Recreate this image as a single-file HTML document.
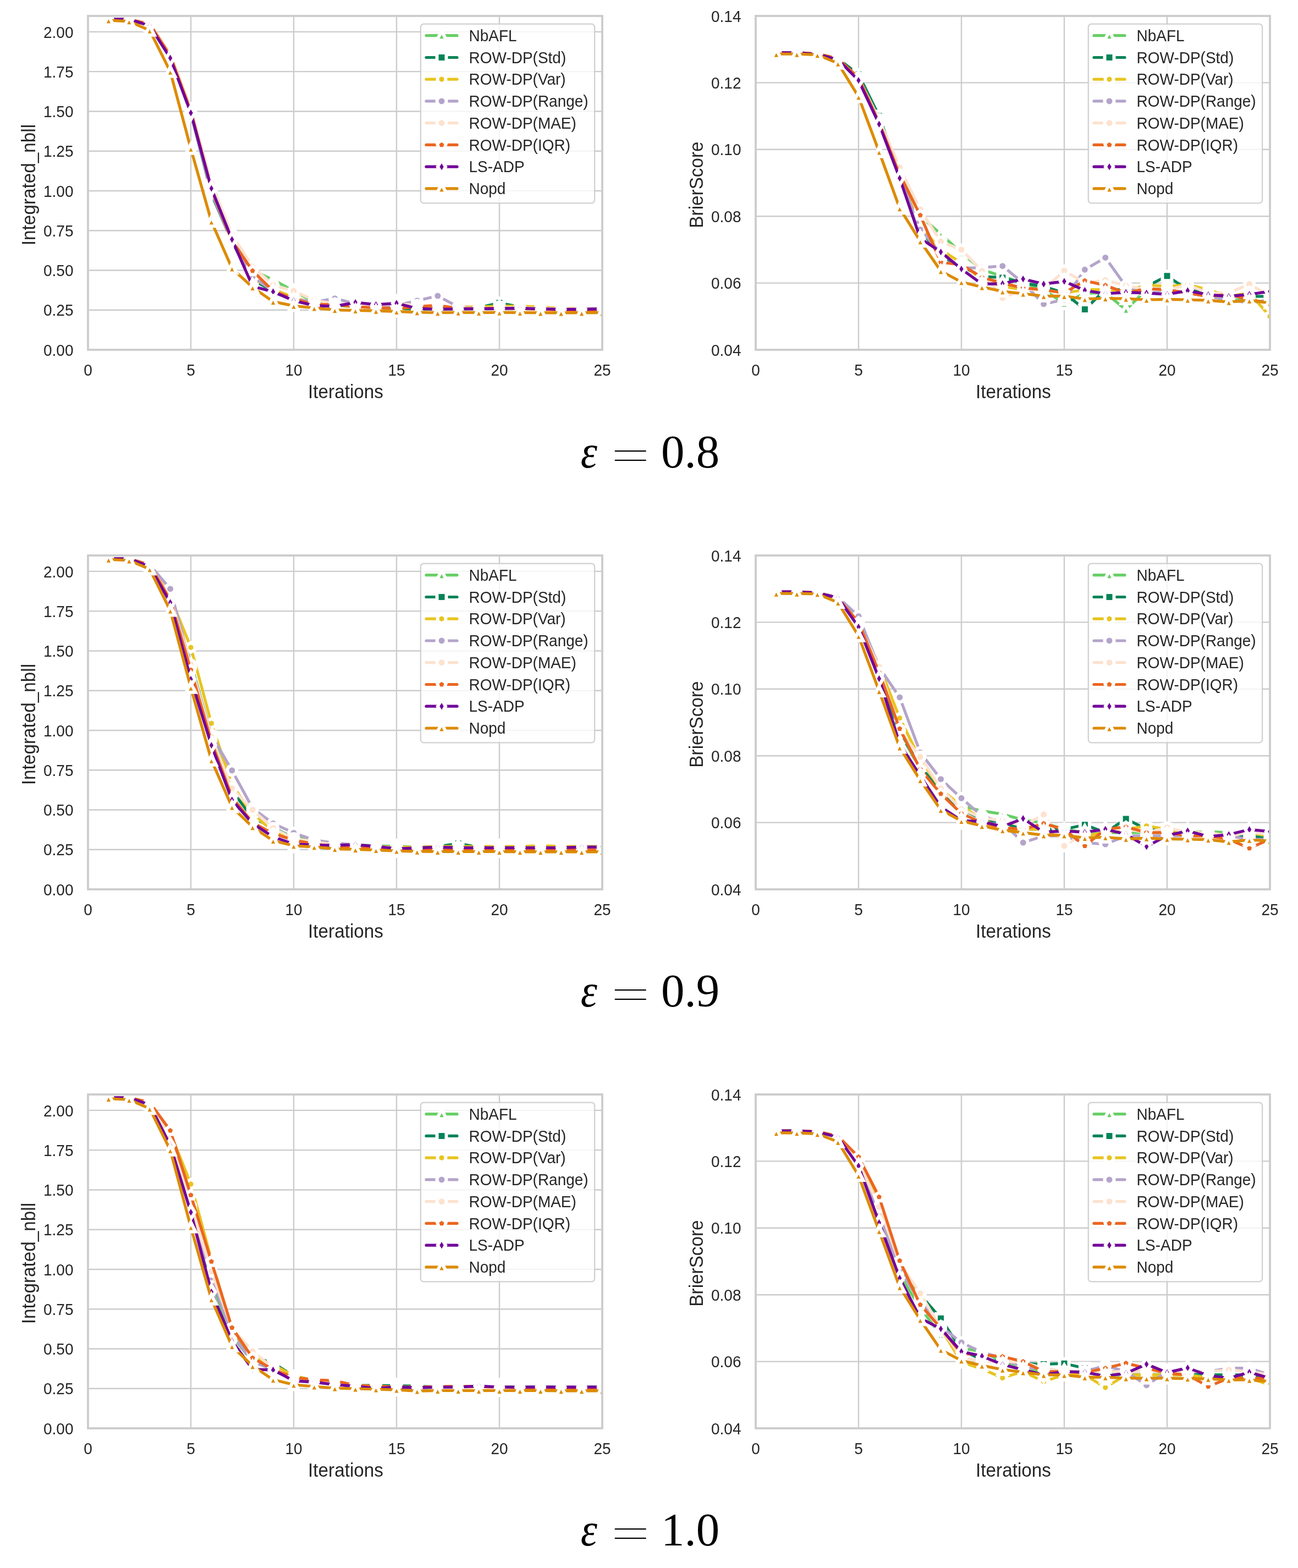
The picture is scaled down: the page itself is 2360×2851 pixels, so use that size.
<!DOCTYPE html><html><head><meta charset="utf-8"><title>Figure</title><style>html,body{margin:0;padding:0;background:#fff;}svg{display:block;}</style></head><body>
<svg width="2360" height="2851" viewBox="0 0 2360 2851">
<rect width="2360" height="2851" fill="#ffffff"/>
<defs>
<clipPath id="c00"><rect x="160" y="29" width="935" height="607"/></clipPath>
<clipPath id="c01"><rect x="1374" y="29" width="935" height="607"/></clipPath>
<clipPath id="c10"><rect x="160" y="1010" width="935" height="607"/></clipPath>
<clipPath id="c11"><rect x="1374" y="1010" width="935" height="607"/></clipPath>
<clipPath id="c20"><rect x="160" y="1990" width="935" height="607"/></clipPath>
<clipPath id="c21"><rect x="1374" y="1990" width="935" height="607"/></clipPath>
</defs>
<g style="font-family:'Liberation Sans',Arial,Helvetica,sans-serif" fill="#262626">
<path d="M347.00,29 V636 M534.00,29 V636 M721.00,29 V636 M908.00,29 V636 M160,563.74 H1095 M160,491.48 H1095 M160,419.21 H1095 M160,346.95 H1095 M160,274.69 H1095 M160,202.43 H1095 M160,130.17 H1095 M160,57.90 H1095" stroke="#cccccc" stroke-width="2.4" fill="none"/>
<g clip-path="url(#c00)">
<polyline points="197.4,36.2 234.8,35.4 272.2,46.3 309.6,104.2 347.0,202.4 384.4,347.0 421.8,433.7 459.2,491.5 496.6,508.8 534.0,529.1 571.4,549.3 608.8,555.1 646.2,558.0 683.6,559.4 721.0,560.8 758.4,562.3 795.8,562.3 833.2,562.3 870.6,560.8 908.0,558.0 945.4,558.0 982.8,560.8 1020.2,562.3 1057.6,563.7 1095.0,563.7" fill="none" stroke="#67cf66" stroke-width="5.2" stroke-linejoin="round" stroke-linecap="round"/>
<g stroke="#ffffff" stroke-width="6.0">
<path transform="translate(197.40,36.23)" d="M0.00,-8.50L-8.50,8.50L8.50,8.50Z" fill="#67cf66" stroke-linejoin="miter"/>
<path transform="translate(234.80,35.36)" d="M0.00,-8.50L-8.50,8.50L8.50,8.50Z" fill="#67cf66" stroke-linejoin="miter"/>
<path transform="translate(272.20,46.34)" d="M0.00,-8.50L-8.50,8.50L8.50,8.50Z" fill="#67cf66" stroke-linejoin="miter"/>
<path transform="translate(309.60,104.15)" d="M0.00,-8.50L-8.50,8.50L8.50,8.50Z" fill="#67cf66" stroke-linejoin="miter"/>
<path transform="translate(347.00,202.43)" d="M0.00,-8.50L-8.50,8.50L8.50,8.50Z" fill="#67cf66" stroke-linejoin="miter"/>
<path transform="translate(384.40,346.95)" d="M0.00,-8.50L-8.50,8.50L8.50,8.50Z" fill="#67cf66" stroke-linejoin="miter"/>
<path transform="translate(421.80,433.67)" d="M0.00,-8.50L-8.50,8.50L8.50,8.50Z" fill="#67cf66" stroke-linejoin="miter"/>
<path transform="translate(459.20,491.48)" d="M0.00,-8.50L-8.50,8.50L8.50,8.50Z" fill="#67cf66" stroke-linejoin="miter"/>
<path transform="translate(496.60,508.82)" d="M0.00,-8.50L-8.50,8.50L8.50,8.50Z" fill="#67cf66" stroke-linejoin="miter"/>
<path transform="translate(534.00,529.05)" d="M0.00,-8.50L-8.50,8.50L8.50,8.50Z" fill="#67cf66" stroke-linejoin="miter"/>
<path transform="translate(571.40,549.29)" d="M0.00,-8.50L-8.50,8.50L8.50,8.50Z" fill="#67cf66" stroke-linejoin="miter"/>
<path transform="translate(608.80,555.07)" d="M0.00,-8.50L-8.50,8.50L8.50,8.50Z" fill="#67cf66" stroke-linejoin="miter"/>
<path transform="translate(646.20,557.96)" d="M0.00,-8.50L-8.50,8.50L8.50,8.50Z" fill="#67cf66" stroke-linejoin="miter"/>
<path transform="translate(683.60,559.40)" d="M0.00,-8.50L-8.50,8.50L8.50,8.50Z" fill="#67cf66" stroke-linejoin="miter"/>
<path transform="translate(721.00,560.85)" d="M0.00,-8.50L-8.50,8.50L8.50,8.50Z" fill="#67cf66" stroke-linejoin="miter"/>
<path transform="translate(758.40,562.29)" d="M0.00,-8.50L-8.50,8.50L8.50,8.50Z" fill="#67cf66" stroke-linejoin="miter"/>
<path transform="translate(795.80,562.29)" d="M0.00,-8.50L-8.50,8.50L8.50,8.50Z" fill="#67cf66" stroke-linejoin="miter"/>
<path transform="translate(833.20,562.29)" d="M0.00,-8.50L-8.50,8.50L8.50,8.50Z" fill="#67cf66" stroke-linejoin="miter"/>
<path transform="translate(870.60,560.85)" d="M0.00,-8.50L-8.50,8.50L8.50,8.50Z" fill="#67cf66" stroke-linejoin="miter"/>
<path transform="translate(908.00,557.96)" d="M0.00,-8.50L-8.50,8.50L8.50,8.50Z" fill="#67cf66" stroke-linejoin="miter"/>
<path transform="translate(945.40,557.96)" d="M0.00,-8.50L-8.50,8.50L8.50,8.50Z" fill="#67cf66" stroke-linejoin="miter"/>
<path transform="translate(982.80,560.85)" d="M0.00,-8.50L-8.50,8.50L8.50,8.50Z" fill="#67cf66" stroke-linejoin="miter"/>
<path transform="translate(1020.20,562.29)" d="M0.00,-8.50L-8.50,8.50L8.50,8.50Z" fill="#67cf66" stroke-linejoin="miter"/>
<path transform="translate(1057.60,563.74)" d="M0.00,-8.50L-8.50,8.50L8.50,8.50Z" fill="#67cf66" stroke-linejoin="miter"/>
<path transform="translate(1095.00,563.74)" d="M0.00,-8.50L-8.50,8.50L8.50,8.50Z" fill="#67cf66" stroke-linejoin="miter"/>
</g>
<polyline points="197.4,36.2 234.8,35.4 272.2,46.3 309.6,104.2 347.0,205.3 384.4,352.7 421.8,439.4 459.2,508.8 496.6,529.1 534.0,543.5 571.4,552.2 608.8,552.2 646.2,555.1 683.6,558.0 721.0,559.4 758.4,562.3 795.8,560.8 833.2,560.8 870.6,559.4 908.0,550.7 945.4,558.0 982.8,560.8 1020.2,562.3 1057.6,563.7 1095.0,563.7" fill="none" stroke="#048457" stroke-width="5.2" stroke-linejoin="round" stroke-linecap="round"/>
<g stroke="#ffffff" stroke-width="6.0">
<path transform="translate(197.40,36.23)" d="M-8.50,-8.50L8.50,-8.50L8.50,8.50L-8.50,8.50Z" fill="#048457" stroke-linejoin="miter"/>
<path transform="translate(234.80,35.36)" d="M-8.50,-8.50L8.50,-8.50L8.50,8.50L-8.50,8.50Z" fill="#048457" stroke-linejoin="miter"/>
<path transform="translate(272.20,46.34)" d="M-8.50,-8.50L8.50,-8.50L8.50,8.50L-8.50,8.50Z" fill="#048457" stroke-linejoin="miter"/>
<path transform="translate(309.60,104.15)" d="M-8.50,-8.50L8.50,-8.50L8.50,8.50L-8.50,8.50Z" fill="#048457" stroke-linejoin="miter"/>
<path transform="translate(347.00,205.32)" d="M-8.50,-8.50L8.50,-8.50L8.50,8.50L-8.50,8.50Z" fill="#048457" stroke-linejoin="miter"/>
<path transform="translate(384.40,352.73)" d="M-8.50,-8.50L8.50,-8.50L8.50,8.50L-8.50,8.50Z" fill="#048457" stroke-linejoin="miter"/>
<path transform="translate(421.80,439.45)" d="M-8.50,-8.50L8.50,-8.50L8.50,8.50L-8.50,8.50Z" fill="#048457" stroke-linejoin="miter"/>
<path transform="translate(459.20,508.82)" d="M-8.50,-8.50L8.50,-8.50L8.50,8.50L-8.50,8.50Z" fill="#048457" stroke-linejoin="miter"/>
<path transform="translate(496.60,529.05)" d="M-8.50,-8.50L8.50,-8.50L8.50,8.50L-8.50,8.50Z" fill="#048457" stroke-linejoin="miter"/>
<path transform="translate(534.00,543.50)" d="M-8.50,-8.50L8.50,-8.50L8.50,8.50L-8.50,8.50Z" fill="#048457" stroke-linejoin="miter"/>
<path transform="translate(571.40,552.18)" d="M-8.50,-8.50L8.50,-8.50L8.50,8.50L-8.50,8.50Z" fill="#048457" stroke-linejoin="miter"/>
<path transform="translate(608.80,552.18)" d="M-8.50,-8.50L8.50,-8.50L8.50,8.50L-8.50,8.50Z" fill="#048457" stroke-linejoin="miter"/>
<path transform="translate(646.20,555.07)" d="M-8.50,-8.50L8.50,-8.50L8.50,8.50L-8.50,8.50Z" fill="#048457" stroke-linejoin="miter"/>
<path transform="translate(683.60,557.96)" d="M-8.50,-8.50L8.50,-8.50L8.50,8.50L-8.50,8.50Z" fill="#048457" stroke-linejoin="miter"/>
<path transform="translate(721.00,559.40)" d="M-8.50,-8.50L8.50,-8.50L8.50,8.50L-8.50,8.50Z" fill="#048457" stroke-linejoin="miter"/>
<path transform="translate(758.40,562.29)" d="M-8.50,-8.50L8.50,-8.50L8.50,8.50L-8.50,8.50Z" fill="#048457" stroke-linejoin="miter"/>
<path transform="translate(795.80,560.85)" d="M-8.50,-8.50L8.50,-8.50L8.50,8.50L-8.50,8.50Z" fill="#048457" stroke-linejoin="miter"/>
<path transform="translate(833.20,560.85)" d="M-8.50,-8.50L8.50,-8.50L8.50,8.50L-8.50,8.50Z" fill="#048457" stroke-linejoin="miter"/>
<path transform="translate(870.60,559.40)" d="M-8.50,-8.50L8.50,-8.50L8.50,8.50L-8.50,8.50Z" fill="#048457" stroke-linejoin="miter"/>
<path transform="translate(908.00,550.73)" d="M-8.50,-8.50L8.50,-8.50L8.50,8.50L-8.50,8.50Z" fill="#048457" stroke-linejoin="miter"/>
<path transform="translate(945.40,557.96)" d="M-8.50,-8.50L8.50,-8.50L8.50,8.50L-8.50,8.50Z" fill="#048457" stroke-linejoin="miter"/>
<path transform="translate(982.80,560.85)" d="M-8.50,-8.50L8.50,-8.50L8.50,8.50L-8.50,8.50Z" fill="#048457" stroke-linejoin="miter"/>
<path transform="translate(1020.20,562.29)" d="M-8.50,-8.50L8.50,-8.50L8.50,8.50L-8.50,8.50Z" fill="#048457" stroke-linejoin="miter"/>
<path transform="translate(1057.60,563.74)" d="M-8.50,-8.50L8.50,-8.50L8.50,8.50L-8.50,8.50Z" fill="#048457" stroke-linejoin="miter"/>
<path transform="translate(1095.00,563.74)" d="M-8.50,-8.50L8.50,-8.50L8.50,8.50L-8.50,8.50Z" fill="#048457" stroke-linejoin="miter"/>
</g>
<polyline points="197.4,36.2 234.8,35.4 272.2,46.3 309.6,102.7 347.0,202.4 384.4,344.1 421.8,433.7 459.2,505.9 496.6,526.2 534.0,540.6 571.4,552.2 608.8,555.1 646.2,555.1 683.6,558.0 721.0,556.5 758.4,558.0 795.8,558.0 833.2,558.0 870.6,558.0 908.0,556.5 945.4,556.5 982.8,558.0 1020.2,560.8 1057.6,560.8 1095.0,562.3" fill="none" stroke="#e8c41f" stroke-width="5.2" stroke-linejoin="round" stroke-linecap="round"/>
<g stroke="#ffffff" stroke-width="6.0">
<path transform="translate(197.40,36.23)" d="M0.00,-8.50L-7.36,-4.25L-7.36,4.25L-0.00,8.50L7.36,4.25L7.36,-4.25Z" fill="#e8c41f" stroke-linejoin="miter"/>
<path transform="translate(234.80,35.36)" d="M0.00,-8.50L-7.36,-4.25L-7.36,4.25L-0.00,8.50L7.36,4.25L7.36,-4.25Z" fill="#e8c41f" stroke-linejoin="miter"/>
<path transform="translate(272.20,46.34)" d="M0.00,-8.50L-7.36,-4.25L-7.36,4.25L-0.00,8.50L7.36,4.25L7.36,-4.25Z" fill="#e8c41f" stroke-linejoin="miter"/>
<path transform="translate(309.60,102.71)" d="M0.00,-8.50L-7.36,-4.25L-7.36,4.25L-0.00,8.50L7.36,4.25L7.36,-4.25Z" fill="#e8c41f" stroke-linejoin="miter"/>
<path transform="translate(347.00,202.43)" d="M0.00,-8.50L-7.36,-4.25L-7.36,4.25L-0.00,8.50L7.36,4.25L7.36,-4.25Z" fill="#e8c41f" stroke-linejoin="miter"/>
<path transform="translate(384.40,344.06)" d="M0.00,-8.50L-7.36,-4.25L-7.36,4.25L-0.00,8.50L7.36,4.25L7.36,-4.25Z" fill="#e8c41f" stroke-linejoin="miter"/>
<path transform="translate(421.80,433.67)" d="M0.00,-8.50L-7.36,-4.25L-7.36,4.25L-0.00,8.50L7.36,4.25L7.36,-4.25Z" fill="#e8c41f" stroke-linejoin="miter"/>
<path transform="translate(459.20,505.93)" d="M0.00,-8.50L-7.36,-4.25L-7.36,4.25L-0.00,8.50L7.36,4.25L7.36,-4.25Z" fill="#e8c41f" stroke-linejoin="miter"/>
<path transform="translate(496.60,526.16)" d="M0.00,-8.50L-7.36,-4.25L-7.36,4.25L-0.00,8.50L7.36,4.25L7.36,-4.25Z" fill="#e8c41f" stroke-linejoin="miter"/>
<path transform="translate(534.00,540.61)" d="M0.00,-8.50L-7.36,-4.25L-7.36,4.25L-0.00,8.50L7.36,4.25L7.36,-4.25Z" fill="#e8c41f" stroke-linejoin="miter"/>
<path transform="translate(571.40,552.18)" d="M0.00,-8.50L-7.36,-4.25L-7.36,4.25L-0.00,8.50L7.36,4.25L7.36,-4.25Z" fill="#e8c41f" stroke-linejoin="miter"/>
<path transform="translate(608.80,555.07)" d="M0.00,-8.50L-7.36,-4.25L-7.36,4.25L-0.00,8.50L7.36,4.25L7.36,-4.25Z" fill="#e8c41f" stroke-linejoin="miter"/>
<path transform="translate(646.20,555.07)" d="M0.00,-8.50L-7.36,-4.25L-7.36,4.25L-0.00,8.50L7.36,4.25L7.36,-4.25Z" fill="#e8c41f" stroke-linejoin="miter"/>
<path transform="translate(683.60,557.96)" d="M0.00,-8.50L-7.36,-4.25L-7.36,4.25L-0.00,8.50L7.36,4.25L7.36,-4.25Z" fill="#e8c41f" stroke-linejoin="miter"/>
<path transform="translate(721.00,556.51)" d="M0.00,-8.50L-7.36,-4.25L-7.36,4.25L-0.00,8.50L7.36,4.25L7.36,-4.25Z" fill="#e8c41f" stroke-linejoin="miter"/>
<path transform="translate(758.40,557.96)" d="M0.00,-8.50L-7.36,-4.25L-7.36,4.25L-0.00,8.50L7.36,4.25L7.36,-4.25Z" fill="#e8c41f" stroke-linejoin="miter"/>
<path transform="translate(795.80,557.96)" d="M0.00,-8.50L-7.36,-4.25L-7.36,4.25L-0.00,8.50L7.36,4.25L7.36,-4.25Z" fill="#e8c41f" stroke-linejoin="miter"/>
<path transform="translate(833.20,557.96)" d="M0.00,-8.50L-7.36,-4.25L-7.36,4.25L-0.00,8.50L7.36,4.25L7.36,-4.25Z" fill="#e8c41f" stroke-linejoin="miter"/>
<path transform="translate(870.60,557.96)" d="M0.00,-8.50L-7.36,-4.25L-7.36,4.25L-0.00,8.50L7.36,4.25L7.36,-4.25Z" fill="#e8c41f" stroke-linejoin="miter"/>
<path transform="translate(908.00,556.51)" d="M0.00,-8.50L-7.36,-4.25L-7.36,4.25L-0.00,8.50L7.36,4.25L7.36,-4.25Z" fill="#e8c41f" stroke-linejoin="miter"/>
<path transform="translate(945.40,556.51)" d="M0.00,-8.50L-7.36,-4.25L-7.36,4.25L-0.00,8.50L7.36,4.25L7.36,-4.25Z" fill="#e8c41f" stroke-linejoin="miter"/>
<path transform="translate(982.80,557.96)" d="M0.00,-8.50L-7.36,-4.25L-7.36,4.25L-0.00,8.50L7.36,4.25L7.36,-4.25Z" fill="#e8c41f" stroke-linejoin="miter"/>
<path transform="translate(1020.20,560.85)" d="M0.00,-8.50L-7.36,-4.25L-7.36,4.25L-0.00,8.50L7.36,4.25L7.36,-4.25Z" fill="#e8c41f" stroke-linejoin="miter"/>
<path transform="translate(1057.60,560.85)" d="M0.00,-8.50L-7.36,-4.25L-7.36,4.25L-0.00,8.50L7.36,4.25L7.36,-4.25Z" fill="#e8c41f" stroke-linejoin="miter"/>
<path transform="translate(1095.00,562.29)" d="M0.00,-8.50L-7.36,-4.25L-7.36,4.25L-0.00,8.50L7.36,4.25L7.36,-4.25Z" fill="#e8c41f" stroke-linejoin="miter"/>
</g>
<polyline points="197.4,36.2 234.8,35.4 272.2,46.3 309.6,104.2 347.0,205.3 384.4,349.8 421.8,439.4 459.2,503.0 496.6,529.1 534.0,543.5 571.4,549.3 608.8,542.6 646.2,552.2 683.6,558.0 721.0,555.1 758.4,546.7 795.8,538.0 833.2,558.0 870.6,560.8 908.0,560.8 945.4,560.8 982.8,560.8 1020.2,562.3 1057.6,560.8 1095.0,560.8" fill="none" stroke="#b4a4ca" stroke-width="5.2" stroke-linejoin="round" stroke-linecap="round"/>
<g stroke="#ffffff" stroke-width="6.0">
<circle cx="197.40" cy="36.23" r="8.50" fill="#b4a4ca"/>
<circle cx="234.80" cy="35.36" r="8.50" fill="#b4a4ca"/>
<circle cx="272.20" cy="46.34" r="8.50" fill="#b4a4ca"/>
<circle cx="309.60" cy="104.15" r="8.50" fill="#b4a4ca"/>
<circle cx="347.00" cy="205.32" r="8.50" fill="#b4a4ca"/>
<circle cx="384.40" cy="349.84" r="8.50" fill="#b4a4ca"/>
<circle cx="421.80" cy="439.45" r="8.50" fill="#b4a4ca"/>
<circle cx="459.20" cy="503.04" r="8.50" fill="#b4a4ca"/>
<circle cx="496.60" cy="529.05" r="8.50" fill="#b4a4ca"/>
<circle cx="534.00" cy="543.50" r="8.50" fill="#b4a4ca"/>
<circle cx="571.40" cy="549.29" r="8.50" fill="#b4a4ca"/>
<circle cx="608.80" cy="542.64" r="8.50" fill="#b4a4ca"/>
<circle cx="646.20" cy="552.18" r="8.50" fill="#b4a4ca"/>
<circle cx="683.60" cy="557.96" r="8.50" fill="#b4a4ca"/>
<circle cx="721.00" cy="555.07" r="8.50" fill="#b4a4ca"/>
<circle cx="758.40" cy="546.68" r="8.50" fill="#b4a4ca"/>
<circle cx="795.80" cy="538.01" r="8.50" fill="#b4a4ca"/>
<circle cx="833.20" cy="557.96" r="8.50" fill="#b4a4ca"/>
<circle cx="870.60" cy="560.85" r="8.50" fill="#b4a4ca"/>
<circle cx="908.00" cy="560.85" r="8.50" fill="#b4a4ca"/>
<circle cx="945.40" cy="560.85" r="8.50" fill="#b4a4ca"/>
<circle cx="982.80" cy="560.85" r="8.50" fill="#b4a4ca"/>
<circle cx="1020.20" cy="562.29" r="8.50" fill="#b4a4ca"/>
<circle cx="1057.60" cy="560.85" r="8.50" fill="#b4a4ca"/>
<circle cx="1095.00" cy="560.85" r="8.50" fill="#b4a4ca"/>
</g>
<polyline points="197.4,36.2 234.8,35.4 272.2,43.5 309.6,98.4 347.0,196.6 384.4,332.5 421.8,426.7 459.2,484.8 496.6,518.1 534.0,529.1 571.4,545.8 608.8,552.2 646.2,555.1 683.6,555.1 721.0,552.2 758.4,555.1 795.8,555.1 833.2,559.4 870.6,560.8 908.0,559.4 945.4,559.4 982.8,560.8 1020.2,561.4 1057.6,561.4 1095.0,561.4" fill="none" stroke="#fde2cf" stroke-width="5.2" stroke-linejoin="round" stroke-linecap="round"/>
<g stroke="#ffffff" stroke-width="6.0">
<circle cx="197.40" cy="36.23" r="8.50" fill="#fde2cf"/>
<circle cx="234.80" cy="35.36" r="8.50" fill="#fde2cf"/>
<circle cx="272.20" cy="43.45" r="8.50" fill="#fde2cf"/>
<circle cx="309.60" cy="98.37" r="8.50" fill="#fde2cf"/>
<circle cx="347.00" cy="196.65" r="8.50" fill="#fde2cf"/>
<circle cx="384.40" cy="332.50" r="8.50" fill="#fde2cf"/>
<circle cx="421.80" cy="426.73" r="8.50" fill="#fde2cf"/>
<circle cx="459.20" cy="484.83" r="8.50" fill="#fde2cf"/>
<circle cx="496.60" cy="518.07" r="8.50" fill="#fde2cf"/>
<circle cx="534.00" cy="529.05" r="8.50" fill="#fde2cf"/>
<circle cx="571.40" cy="545.82" r="8.50" fill="#fde2cf"/>
<circle cx="608.80" cy="552.18" r="8.50" fill="#fde2cf"/>
<circle cx="646.20" cy="555.07" r="8.50" fill="#fde2cf"/>
<circle cx="683.60" cy="555.07" r="8.50" fill="#fde2cf"/>
<circle cx="721.00" cy="552.18" r="8.50" fill="#fde2cf"/>
<circle cx="758.40" cy="555.07" r="8.50" fill="#fde2cf"/>
<circle cx="795.80" cy="555.07" r="8.50" fill="#fde2cf"/>
<circle cx="833.20" cy="559.40" r="8.50" fill="#fde2cf"/>
<circle cx="870.60" cy="560.85" r="8.50" fill="#fde2cf"/>
<circle cx="908.00" cy="559.40" r="8.50" fill="#fde2cf"/>
<circle cx="945.40" cy="559.40" r="8.50" fill="#fde2cf"/>
<circle cx="982.80" cy="560.85" r="8.50" fill="#fde2cf"/>
<circle cx="1020.20" cy="561.43" r="8.50" fill="#fde2cf"/>
<circle cx="1057.60" cy="561.43" r="8.50" fill="#fde2cf"/>
<circle cx="1095.00" cy="561.43" r="8.50" fill="#fde2cf"/>
</g>
<polyline points="197.4,36.2 234.8,35.4 272.2,43.5 309.6,101.3 347.0,202.4 384.4,344.1 421.8,438.0 459.2,492.3 496.6,529.1 534.0,543.5 571.4,553.6 608.8,553.6 646.2,558.0 683.6,559.4 721.0,560.8 758.4,558.0 795.8,555.1 833.2,560.8 870.6,560.8 908.0,560.3 945.4,560.8 982.8,562.3 1020.2,563.7 1057.6,563.7 1095.0,563.7" fill="none" stroke="#eb661f" stroke-width="5.2" stroke-linejoin="round" stroke-linecap="round"/>
<g stroke="#ffffff" stroke-width="6.0">
<path transform="translate(197.40,36.23)" d="M0.00,-8.50L-8.08,-2.63L-5.00,6.88L5.00,6.88L8.08,-2.63Z" fill="#eb661f" stroke-linejoin="miter"/>
<path transform="translate(234.80,35.36)" d="M0.00,-8.50L-8.08,-2.63L-5.00,6.88L5.00,6.88L8.08,-2.63Z" fill="#eb661f" stroke-linejoin="miter"/>
<path transform="translate(272.20,43.45)" d="M0.00,-8.50L-8.08,-2.63L-5.00,6.88L5.00,6.88L8.08,-2.63Z" fill="#eb661f" stroke-linejoin="miter"/>
<path transform="translate(309.60,101.26)" d="M0.00,-8.50L-8.08,-2.63L-5.00,6.88L5.00,6.88L8.08,-2.63Z" fill="#eb661f" stroke-linejoin="miter"/>
<path transform="translate(347.00,202.43)" d="M0.00,-8.50L-8.08,-2.63L-5.00,6.88L5.00,6.88L8.08,-2.63Z" fill="#eb661f" stroke-linejoin="miter"/>
<path transform="translate(384.40,344.06)" d="M0.00,-8.50L-8.08,-2.63L-5.00,6.88L5.00,6.88L8.08,-2.63Z" fill="#eb661f" stroke-linejoin="miter"/>
<path transform="translate(421.80,438.00)" d="M0.00,-8.50L-8.08,-2.63L-5.00,6.88L5.00,6.88L8.08,-2.63Z" fill="#eb661f" stroke-linejoin="miter"/>
<path transform="translate(459.20,492.34)" d="M0.00,-8.50L-8.08,-2.63L-5.00,6.88L5.00,6.88L8.08,-2.63Z" fill="#eb661f" stroke-linejoin="miter"/>
<path transform="translate(496.60,529.05)" d="M0.00,-8.50L-8.08,-2.63L-5.00,6.88L5.00,6.88L8.08,-2.63Z" fill="#eb661f" stroke-linejoin="miter"/>
<path transform="translate(534.00,543.50)" d="M0.00,-8.50L-8.08,-2.63L-5.00,6.88L5.00,6.88L8.08,-2.63Z" fill="#eb661f" stroke-linejoin="miter"/>
<path transform="translate(571.40,553.62)" d="M0.00,-8.50L-8.08,-2.63L-5.00,6.88L5.00,6.88L8.08,-2.63Z" fill="#eb661f" stroke-linejoin="miter"/>
<path transform="translate(608.80,553.62)" d="M0.00,-8.50L-8.08,-2.63L-5.00,6.88L5.00,6.88L8.08,-2.63Z" fill="#eb661f" stroke-linejoin="miter"/>
<path transform="translate(646.20,557.96)" d="M0.00,-8.50L-8.08,-2.63L-5.00,6.88L5.00,6.88L8.08,-2.63Z" fill="#eb661f" stroke-linejoin="miter"/>
<path transform="translate(683.60,559.40)" d="M0.00,-8.50L-8.08,-2.63L-5.00,6.88L5.00,6.88L8.08,-2.63Z" fill="#eb661f" stroke-linejoin="miter"/>
<path transform="translate(721.00,560.85)" d="M0.00,-8.50L-8.08,-2.63L-5.00,6.88L5.00,6.88L8.08,-2.63Z" fill="#eb661f" stroke-linejoin="miter"/>
<path transform="translate(758.40,557.96)" d="M0.00,-8.50L-8.08,-2.63L-5.00,6.88L5.00,6.88L8.08,-2.63Z" fill="#eb661f" stroke-linejoin="miter"/>
<path transform="translate(795.80,555.07)" d="M0.00,-8.50L-8.08,-2.63L-5.00,6.88L5.00,6.88L8.08,-2.63Z" fill="#eb661f" stroke-linejoin="miter"/>
<path transform="translate(833.20,560.85)" d="M0.00,-8.50L-8.08,-2.63L-5.00,6.88L5.00,6.88L8.08,-2.63Z" fill="#eb661f" stroke-linejoin="miter"/>
<path transform="translate(870.60,560.85)" d="M0.00,-8.50L-8.08,-2.63L-5.00,6.88L5.00,6.88L8.08,-2.63Z" fill="#eb661f" stroke-linejoin="miter"/>
<path transform="translate(908.00,560.27)" d="M0.00,-8.50L-8.08,-2.63L-5.00,6.88L5.00,6.88L8.08,-2.63Z" fill="#eb661f" stroke-linejoin="miter"/>
<path transform="translate(945.40,560.85)" d="M0.00,-8.50L-8.08,-2.63L-5.00,6.88L5.00,6.88L8.08,-2.63Z" fill="#eb661f" stroke-linejoin="miter"/>
<path transform="translate(982.80,562.29)" d="M0.00,-8.50L-8.08,-2.63L-5.00,6.88L5.00,6.88L8.08,-2.63Z" fill="#eb661f" stroke-linejoin="miter"/>
<path transform="translate(1020.20,563.74)" d="M0.00,-8.50L-8.08,-2.63L-5.00,6.88L5.00,6.88L8.08,-2.63Z" fill="#eb661f" stroke-linejoin="miter"/>
<path transform="translate(1057.60,563.74)" d="M0.00,-8.50L-8.08,-2.63L-5.00,6.88L5.00,6.88L8.08,-2.63Z" fill="#eb661f" stroke-linejoin="miter"/>
<path transform="translate(1095.00,563.74)" d="M0.00,-8.50L-8.08,-2.63L-5.00,6.88L5.00,6.88L8.08,-2.63Z" fill="#eb661f" stroke-linejoin="miter"/>
</g>
<polyline points="197.4,34.8 234.8,34.8 272.2,46.9 309.6,105.6 347.0,205.3 384.4,342.6 421.8,435.4 459.2,520.4 496.6,530.5 534.0,546.7 571.4,555.6 608.8,557.1 646.2,549.9 683.6,553.9 721.0,551.3 758.4,561.1 795.8,562.3 833.2,561.7 870.6,561.7 908.0,560.8 945.4,560.3 982.8,561.7 1020.2,562.3 1057.6,562.3 1095.0,561.7" fill="none" stroke="#720099" stroke-width="5.2" stroke-linejoin="round" stroke-linecap="round"/>
<g stroke="#ffffff" stroke-width="6.0">
<path transform="translate(197.40,34.78)" d="M0.00,-12.02L7.21,0.00L0.00,12.02L-7.21,0.00Z" fill="#720099" stroke-linejoin="miter"/>
<path transform="translate(234.80,34.78)" d="M0.00,-12.02L7.21,0.00L0.00,12.02L-7.21,0.00Z" fill="#720099" stroke-linejoin="miter"/>
<path transform="translate(272.20,46.92)" d="M0.00,-12.02L7.21,0.00L0.00,12.02L-7.21,0.00Z" fill="#720099" stroke-linejoin="miter"/>
<path transform="translate(309.60,105.60)" d="M0.00,-12.02L7.21,0.00L0.00,12.02L-7.21,0.00Z" fill="#720099" stroke-linejoin="miter"/>
<path transform="translate(347.00,205.32)" d="M0.00,-12.02L7.21,0.00L0.00,12.02L-7.21,0.00Z" fill="#720099" stroke-linejoin="miter"/>
<path transform="translate(384.40,342.62)" d="M0.00,-12.02L7.21,0.00L0.00,12.02L-7.21,0.00Z" fill="#720099" stroke-linejoin="miter"/>
<path transform="translate(421.80,435.40)" d="M0.00,-12.02L7.21,0.00L0.00,12.02L-7.21,0.00Z" fill="#720099" stroke-linejoin="miter"/>
<path transform="translate(459.20,520.38)" d="M0.00,-12.02L7.21,0.00L0.00,12.02L-7.21,0.00Z" fill="#720099" stroke-linejoin="miter"/>
<path transform="translate(496.60,530.50)" d="M0.00,-12.02L7.21,0.00L0.00,12.02L-7.21,0.00Z" fill="#720099" stroke-linejoin="miter"/>
<path transform="translate(534.00,546.68)" d="M0.00,-12.02L7.21,0.00L0.00,12.02L-7.21,0.00Z" fill="#720099" stroke-linejoin="miter"/>
<path transform="translate(571.40,555.64)" d="M0.00,-12.02L7.21,0.00L0.00,12.02L-7.21,0.00Z" fill="#720099" stroke-linejoin="miter"/>
<path transform="translate(608.80,557.09)" d="M0.00,-12.02L7.21,0.00L0.00,12.02L-7.21,0.00Z" fill="#720099" stroke-linejoin="miter"/>
<path transform="translate(646.20,549.86)" d="M0.00,-12.02L7.21,0.00L0.00,12.02L-7.21,0.00Z" fill="#720099" stroke-linejoin="miter"/>
<path transform="translate(683.60,553.91)" d="M0.00,-12.02L7.21,0.00L0.00,12.02L-7.21,0.00Z" fill="#720099" stroke-linejoin="miter"/>
<path transform="translate(721.00,551.31)" d="M0.00,-12.02L7.21,0.00L0.00,12.02L-7.21,0.00Z" fill="#720099" stroke-linejoin="miter"/>
<path transform="translate(758.40,561.14)" d="M0.00,-12.02L7.21,0.00L0.00,12.02L-7.21,0.00Z" fill="#720099" stroke-linejoin="miter"/>
<path transform="translate(795.80,562.29)" d="M0.00,-12.02L7.21,0.00L0.00,12.02L-7.21,0.00Z" fill="#720099" stroke-linejoin="miter"/>
<path transform="translate(833.20,561.71)" d="M0.00,-12.02L7.21,0.00L0.00,12.02L-7.21,0.00Z" fill="#720099" stroke-linejoin="miter"/>
<path transform="translate(870.60,561.71)" d="M0.00,-12.02L7.21,0.00L0.00,12.02L-7.21,0.00Z" fill="#720099" stroke-linejoin="miter"/>
<path transform="translate(908.00,560.85)" d="M0.00,-12.02L7.21,0.00L0.00,12.02L-7.21,0.00Z" fill="#720099" stroke-linejoin="miter"/>
<path transform="translate(945.40,560.27)" d="M0.00,-12.02L7.21,0.00L0.00,12.02L-7.21,0.00Z" fill="#720099" stroke-linejoin="miter"/>
<path transform="translate(982.80,561.71)" d="M0.00,-12.02L7.21,0.00L0.00,12.02L-7.21,0.00Z" fill="#720099" stroke-linejoin="miter"/>
<path transform="translate(1020.20,562.29)" d="M0.00,-12.02L7.21,0.00L0.00,12.02L-7.21,0.00Z" fill="#720099" stroke-linejoin="miter"/>
<path transform="translate(1057.60,562.29)" d="M0.00,-12.02L7.21,0.00L0.00,12.02L-7.21,0.00Z" fill="#720099" stroke-linejoin="miter"/>
<path transform="translate(1095.00,561.71)" d="M0.00,-12.02L7.21,0.00L0.00,12.02L-7.21,0.00Z" fill="#720099" stroke-linejoin="miter"/>
</g>
<polyline points="197.4,36.8 234.8,38.8 272.2,55.3 309.6,130.2 347.0,270.4 384.4,402.7 421.8,488.0 459.2,522.4 496.6,548.4 534.0,556.1 571.4,560.0 608.8,563.6 646.2,564.3 683.6,565.2 721.0,566.3 758.4,567.8 795.8,568.5 833.2,568.1 870.6,568.4 908.0,568.1 945.4,568.4 982.8,568.7 1020.2,568.9 1057.6,568.7 1095.0,568.7" fill="none" stroke="#dc8b00" stroke-width="5.2" stroke-linejoin="round" stroke-linecap="round"/>
<g stroke="#ffffff" stroke-width="6.0">
<path transform="translate(197.40,36.80)" d="M0.00,-8.50L-8.50,8.50L8.50,8.50Z" fill="#dc8b00" stroke-linejoin="miter"/>
<path transform="translate(234.80,38.83)" d="M0.00,-8.50L-8.50,8.50L8.50,8.50Z" fill="#dc8b00" stroke-linejoin="miter"/>
<path transform="translate(272.20,55.30)" d="M0.00,-8.50L-8.50,8.50L8.50,8.50Z" fill="#dc8b00" stroke-linejoin="miter"/>
<path transform="translate(309.60,130.17)" d="M0.00,-8.50L-8.50,8.50L8.50,8.50Z" fill="#dc8b00" stroke-linejoin="miter"/>
<path transform="translate(347.00,270.35)" d="M0.00,-8.50L-8.50,8.50L8.50,8.50Z" fill="#dc8b00" stroke-linejoin="miter"/>
<path transform="translate(384.40,402.74)" d="M0.00,-8.50L-8.50,8.50L8.50,8.50Z" fill="#dc8b00" stroke-linejoin="miter"/>
<path transform="translate(421.80,488.01)" d="M0.00,-8.50L-8.50,8.50L8.50,8.50Z" fill="#dc8b00" stroke-linejoin="miter"/>
<path transform="translate(459.20,522.40)" d="M0.00,-8.50L-8.50,8.50L8.50,8.50Z" fill="#dc8b00" stroke-linejoin="miter"/>
<path transform="translate(496.60,548.42)" d="M0.00,-8.50L-8.50,8.50L8.50,8.50Z" fill="#dc8b00" stroke-linejoin="miter"/>
<path transform="translate(534.00,556.08)" d="M0.00,-8.50L-8.50,8.50L8.50,8.50Z" fill="#dc8b00" stroke-linejoin="miter"/>
<path transform="translate(571.40,559.98)" d="M0.00,-8.50L-8.50,8.50L8.50,8.50Z" fill="#dc8b00" stroke-linejoin="miter"/>
<path transform="translate(608.80,563.59)" d="M0.00,-8.50L-8.50,8.50L8.50,8.50Z" fill="#dc8b00" stroke-linejoin="miter"/>
<path transform="translate(646.20,564.32)" d="M0.00,-8.50L-8.50,8.50L8.50,8.50Z" fill="#dc8b00" stroke-linejoin="miter"/>
<path transform="translate(683.60,565.18)" d="M0.00,-8.50L-8.50,8.50L8.50,8.50Z" fill="#dc8b00" stroke-linejoin="miter"/>
<path transform="translate(721.00,566.34)" d="M0.00,-8.50L-8.50,8.50L8.50,8.50Z" fill="#dc8b00" stroke-linejoin="miter"/>
<path transform="translate(758.40,567.78)" d="M0.00,-8.50L-8.50,8.50L8.50,8.50Z" fill="#dc8b00" stroke-linejoin="miter"/>
<path transform="translate(795.80,568.51)" d="M0.00,-8.50L-8.50,8.50L8.50,8.50Z" fill="#dc8b00" stroke-linejoin="miter"/>
<path transform="translate(833.20,568.07)" d="M0.00,-8.50L-8.50,8.50L8.50,8.50Z" fill="#dc8b00" stroke-linejoin="miter"/>
<path transform="translate(870.60,568.36)" d="M0.00,-8.50L-8.50,8.50L8.50,8.50Z" fill="#dc8b00" stroke-linejoin="miter"/>
<path transform="translate(908.00,568.07)" d="M0.00,-8.50L-8.50,8.50L8.50,8.50Z" fill="#dc8b00" stroke-linejoin="miter"/>
<path transform="translate(945.40,568.36)" d="M0.00,-8.50L-8.50,8.50L8.50,8.50Z" fill="#dc8b00" stroke-linejoin="miter"/>
<path transform="translate(982.80,568.65)" d="M0.00,-8.50L-8.50,8.50L8.50,8.50Z" fill="#dc8b00" stroke-linejoin="miter"/>
<path transform="translate(1020.20,568.94)" d="M0.00,-8.50L-8.50,8.50L8.50,8.50Z" fill="#dc8b00" stroke-linejoin="miter"/>
<path transform="translate(1057.60,568.65)" d="M0.00,-8.50L-8.50,8.50L8.50,8.50Z" fill="#dc8b00" stroke-linejoin="miter"/>
<path transform="translate(1095.00,568.65)" d="M0.00,-8.50L-8.50,8.50L8.50,8.50Z" fill="#dc8b00" stroke-linejoin="miter"/>
</g>
</g>
<rect x="160" y="29" width="935" height="607" fill="none" stroke="#cccccc" stroke-width="3.8"/>
<text transform="translate(133.5,646.6) scale(1,1.04)" font-size="28" text-anchor="end">0.00</text>
<text transform="translate(133.5,574.3) scale(1,1.04)" font-size="28" text-anchor="end">0.25</text>
<text transform="translate(133.5,502.1) scale(1,1.04)" font-size="28" text-anchor="end">0.50</text>
<text transform="translate(133.5,429.8) scale(1,1.04)" font-size="28" text-anchor="end">0.75</text>
<text transform="translate(133.5,357.6) scale(1,1.04)" font-size="28" text-anchor="end">1.00</text>
<text transform="translate(133.5,285.3) scale(1,1.04)" font-size="28" text-anchor="end">1.25</text>
<text transform="translate(133.5,213.0) scale(1,1.04)" font-size="28" text-anchor="end">1.50</text>
<text transform="translate(133.5,140.8) scale(1,1.04)" font-size="28" text-anchor="end">1.75</text>
<text transform="translate(133.5,68.5) scale(1,1.04)" font-size="28" text-anchor="end">2.00</text>
<text transform="translate(160.0,683.0) scale(1,1.04)" font-size="28" text-anchor="middle">0</text>
<text transform="translate(347.0,683.0) scale(1,1.04)" font-size="28" text-anchor="middle">5</text>
<text transform="translate(534.0,683.0) scale(1,1.04)" font-size="28" text-anchor="middle">10</text>
<text transform="translate(721.0,683.0) scale(1,1.04)" font-size="28" text-anchor="middle">15</text>
<text transform="translate(908.0,683.0) scale(1,1.04)" font-size="28" text-anchor="middle">20</text>
<text transform="translate(1095.0,683.0) scale(1,1.04)" font-size="28" text-anchor="middle">25</text>
<text transform="translate(628.5,724.0) scale(1,1.04)" font-size="33.3" text-anchor="middle">Iterations</text>
<text transform="translate(64.0,336.0) rotate(-90) scale(1,1.04)" font-size="33.3" text-anchor="middle">Integrated_nbll</text>
<rect x="764.8" y="43.7" width="316.3" height="325.7" rx="5.6" ry="5.6" fill="#ffffff" fill-opacity="0.8" stroke="#cccccc" stroke-width="2.3" stroke-opacity="0.9"/>
<line x1="775.0" y1="64.7" x2="831.0" y2="64.7" stroke="#67cf66" stroke-width="5.2" stroke-linecap="round"/>
<g stroke="#ffffff" stroke-width="6.0"><path transform="translate(803.00,64.70)" d="M0.00,-8.50L-8.50,8.50L8.50,8.50Z" fill="#67cf66" stroke-linejoin="miter"/></g>
<text transform="translate(852.5,74.9) scale(1,1.04)" font-size="28">NbAFL</text>
<line x1="775.0" y1="104.5" x2="831.0" y2="104.5" stroke="#048457" stroke-width="5.2" stroke-linecap="round"/>
<g stroke="#ffffff" stroke-width="6.0"><path transform="translate(803.00,104.45)" d="M-8.50,-8.50L8.50,-8.50L8.50,8.50L-8.50,8.50Z" fill="#048457" stroke-linejoin="miter"/></g>
<text transform="translate(852.5,114.7) scale(1,1.04)" font-size="28">ROW-DP(Std)</text>
<line x1="775.0" y1="144.2" x2="831.0" y2="144.2" stroke="#e8c41f" stroke-width="5.2" stroke-linecap="round"/>
<g stroke="#ffffff" stroke-width="6.0"><path transform="translate(803.00,144.20)" d="M0.00,-8.50L-7.36,-4.25L-7.36,4.25L-0.00,8.50L7.36,4.25L7.36,-4.25Z" fill="#e8c41f" stroke-linejoin="miter"/></g>
<text transform="translate(852.5,154.4) scale(1,1.04)" font-size="28">ROW-DP(Var)</text>
<line x1="775.0" y1="183.9" x2="831.0" y2="183.9" stroke="#b4a4ca" stroke-width="5.2" stroke-linecap="round"/>
<g stroke="#ffffff" stroke-width="6.0"><circle cx="803.00" cy="183.95" r="8.50" fill="#b4a4ca"/></g>
<text transform="translate(852.5,194.1) scale(1,1.04)" font-size="28">ROW-DP(Range)</text>
<line x1="775.0" y1="223.7" x2="831.0" y2="223.7" stroke="#fde2cf" stroke-width="5.2" stroke-linecap="round"/>
<g stroke="#ffffff" stroke-width="6.0"><circle cx="803.00" cy="223.70" r="8.50" fill="#fde2cf"/></g>
<text transform="translate(852.5,233.9) scale(1,1.04)" font-size="28">ROW-DP(MAE)</text>
<line x1="775.0" y1="263.4" x2="831.0" y2="263.4" stroke="#eb661f" stroke-width="5.2" stroke-linecap="round"/>
<g stroke="#ffffff" stroke-width="6.0"><path transform="translate(803.00,263.45)" d="M0.00,-8.50L-8.08,-2.63L-5.00,6.88L5.00,6.88L8.08,-2.63Z" fill="#eb661f" stroke-linejoin="miter"/></g>
<text transform="translate(852.5,273.6) scale(1,1.04)" font-size="28">ROW-DP(IQR)</text>
<line x1="775.0" y1="303.2" x2="831.0" y2="303.2" stroke="#720099" stroke-width="5.2" stroke-linecap="round"/>
<g stroke="#ffffff" stroke-width="6.0"><path transform="translate(803.00,303.20)" d="M0.00,-12.02L7.21,0.00L0.00,12.02L-7.21,0.00Z" fill="#720099" stroke-linejoin="miter"/></g>
<text transform="translate(852.5,313.4) scale(1,1.04)" font-size="28">LS-ADP</text>
<line x1="775.0" y1="342.9" x2="831.0" y2="342.9" stroke="#dc8b00" stroke-width="5.2" stroke-linecap="round"/>
<g stroke="#ffffff" stroke-width="6.0"><path transform="translate(803.00,342.95)" d="M0.00,-8.50L-8.50,8.50L8.50,8.50Z" fill="#dc8b00" stroke-linejoin="miter"/></g>
<text transform="translate(852.5,353.1) scale(1,1.04)" font-size="28">Nopd</text>
<path d="M1561.00,29 V636 M1748.00,29 V636 M1935.00,29 V636 M2122.00,29 V636 M1374,514.60 H2309 M1374,393.20 H2309 M1374,271.80 H2309 M1374,150.40 H2309" stroke="#cccccc" stroke-width="2.4" fill="none"/>
<g clip-path="url(#c01)">
<polyline points="1411.4,95.8 1448.8,95.8 1486.2,97.6 1523.6,107.9 1561.0,141.3 1598.4,217.2 1635.8,308.2 1673.2,393.2 1710.6,425.4 1748.0,460.0 1785.4,490.3 1822.8,502.5 1860.2,514.6 1897.6,526.7 1935.0,552.2 1972.4,532.8 2009.8,532.8 2047.2,563.2 2084.6,526.7 2122.0,526.7 2159.4,532.8 2196.8,538.9 2234.2,545.0 2271.6,545.0 2309.0,551.0" fill="none" stroke="#67cf66" stroke-width="5.2" stroke-linejoin="round" stroke-linecap="round"/>
<g stroke="#ffffff" stroke-width="6.0">
<path transform="translate(1411.40,95.77)" d="M0.00,-8.50L-8.50,8.50L8.50,8.50Z" fill="#67cf66" stroke-linejoin="miter"/>
<path transform="translate(1448.80,95.77)" d="M0.00,-8.50L-8.50,8.50L8.50,8.50Z" fill="#67cf66" stroke-linejoin="miter"/>
<path transform="translate(1486.20,97.59)" d="M0.00,-8.50L-8.50,8.50L8.50,8.50Z" fill="#67cf66" stroke-linejoin="miter"/>
<path transform="translate(1523.60,107.91)" d="M0.00,-8.50L-8.50,8.50L8.50,8.50Z" fill="#67cf66" stroke-linejoin="miter"/>
<path transform="translate(1561.00,141.30)" d="M0.00,-8.50L-8.50,8.50L8.50,8.50Z" fill="#67cf66" stroke-linejoin="miter"/>
<path transform="translate(1598.40,217.17)" d="M0.00,-8.50L-8.50,8.50L8.50,8.50Z" fill="#67cf66" stroke-linejoin="miter"/>
<path transform="translate(1635.80,308.22)" d="M0.00,-8.50L-8.50,8.50L8.50,8.50Z" fill="#67cf66" stroke-linejoin="miter"/>
<path transform="translate(1673.20,393.20)" d="M0.00,-8.50L-8.50,8.50L8.50,8.50Z" fill="#67cf66" stroke-linejoin="miter"/>
<path transform="translate(1710.60,425.37)" d="M0.00,-8.50L-8.50,8.50L8.50,8.50Z" fill="#67cf66" stroke-linejoin="miter"/>
<path transform="translate(1748.00,459.97)" d="M0.00,-8.50L-8.50,8.50L8.50,8.50Z" fill="#67cf66" stroke-linejoin="miter"/>
<path transform="translate(1785.40,490.32)" d="M0.00,-8.50L-8.50,8.50L8.50,8.50Z" fill="#67cf66" stroke-linejoin="miter"/>
<path transform="translate(1822.80,502.46)" d="M0.00,-8.50L-8.50,8.50L8.50,8.50Z" fill="#67cf66" stroke-linejoin="miter"/>
<path transform="translate(1860.20,514.60)" d="M0.00,-8.50L-8.50,8.50L8.50,8.50Z" fill="#67cf66" stroke-linejoin="miter"/>
<path transform="translate(1897.60,526.74)" d="M0.00,-8.50L-8.50,8.50L8.50,8.50Z" fill="#67cf66" stroke-linejoin="miter"/>
<path transform="translate(1935.00,552.23)" d="M0.00,-8.50L-8.50,8.50L8.50,8.50Z" fill="#67cf66" stroke-linejoin="miter"/>
<path transform="translate(1972.40,532.81)" d="M0.00,-8.50L-8.50,8.50L8.50,8.50Z" fill="#67cf66" stroke-linejoin="miter"/>
<path transform="translate(2009.80,532.81)" d="M0.00,-8.50L-8.50,8.50L8.50,8.50Z" fill="#67cf66" stroke-linejoin="miter"/>
<path transform="translate(2047.20,563.16)" d="M0.00,-8.50L-8.50,8.50L8.50,8.50Z" fill="#67cf66" stroke-linejoin="miter"/>
<path transform="translate(2084.60,526.74)" d="M0.00,-8.50L-8.50,8.50L8.50,8.50Z" fill="#67cf66" stroke-linejoin="miter"/>
<path transform="translate(2122.00,526.74)" d="M0.00,-8.50L-8.50,8.50L8.50,8.50Z" fill="#67cf66" stroke-linejoin="miter"/>
<path transform="translate(2159.40,532.81)" d="M0.00,-8.50L-8.50,8.50L8.50,8.50Z" fill="#67cf66" stroke-linejoin="miter"/>
<path transform="translate(2196.80,538.88)" d="M0.00,-8.50L-8.50,8.50L8.50,8.50Z" fill="#67cf66" stroke-linejoin="miter"/>
<path transform="translate(2234.20,544.95)" d="M0.00,-8.50L-8.50,8.50L8.50,8.50Z" fill="#67cf66" stroke-linejoin="miter"/>
<path transform="translate(2271.60,544.95)" d="M0.00,-8.50L-8.50,8.50L8.50,8.50Z" fill="#67cf66" stroke-linejoin="miter"/>
<path transform="translate(2309.00,551.02)" d="M0.00,-8.50L-8.50,8.50L8.50,8.50Z" fill="#67cf66" stroke-linejoin="miter"/>
</g>
<polyline points="1411.4,95.8 1448.8,95.8 1486.2,97.6 1523.6,106.7 1561.0,135.2 1598.4,211.1 1635.8,317.3 1673.2,417.5 1710.6,466.0 1748.0,484.2 1785.4,502.5 1822.8,504.9 1860.2,514.6 1897.6,520.7 1935.0,532.8 1972.4,562.6 2009.8,526.7 2047.2,526.7 2084.6,520.7 2122.0,501.9 2159.4,526.7 2196.8,532.8 2234.2,535.8 2271.6,538.9 2309.0,538.9" fill="none" stroke="#048457" stroke-width="5.2" stroke-linejoin="round" stroke-linecap="round"/>
<g stroke="#ffffff" stroke-width="6.0">
<path transform="translate(1411.40,95.77)" d="M-8.50,-8.50L8.50,-8.50L8.50,8.50L-8.50,8.50Z" fill="#048457" stroke-linejoin="miter"/>
<path transform="translate(1448.80,95.77)" d="M-8.50,-8.50L8.50,-8.50L8.50,8.50L-8.50,8.50Z" fill="#048457" stroke-linejoin="miter"/>
<path transform="translate(1486.20,97.59)" d="M-8.50,-8.50L8.50,-8.50L8.50,8.50L-8.50,8.50Z" fill="#048457" stroke-linejoin="miter"/>
<path transform="translate(1523.60,106.70)" d="M-8.50,-8.50L8.50,-8.50L8.50,8.50L-8.50,8.50Z" fill="#048457" stroke-linejoin="miter"/>
<path transform="translate(1561.00,135.23)" d="M-8.50,-8.50L8.50,-8.50L8.50,8.50L-8.50,8.50Z" fill="#048457" stroke-linejoin="miter"/>
<path transform="translate(1598.40,211.10)" d="M-8.50,-8.50L8.50,-8.50L8.50,8.50L-8.50,8.50Z" fill="#048457" stroke-linejoin="miter"/>
<path transform="translate(1635.80,317.33)" d="M-8.50,-8.50L8.50,-8.50L8.50,8.50L-8.50,8.50Z" fill="#048457" stroke-linejoin="miter"/>
<path transform="translate(1673.20,417.48)" d="M-8.50,-8.50L8.50,-8.50L8.50,8.50L-8.50,8.50Z" fill="#048457" stroke-linejoin="miter"/>
<path transform="translate(1710.60,466.04)" d="M-8.50,-8.50L8.50,-8.50L8.50,8.50L-8.50,8.50Z" fill="#048457" stroke-linejoin="miter"/>
<path transform="translate(1748.00,484.25)" d="M-8.50,-8.50L8.50,-8.50L8.50,8.50L-8.50,8.50Z" fill="#048457" stroke-linejoin="miter"/>
<path transform="translate(1785.40,502.46)" d="M-8.50,-8.50L8.50,-8.50L8.50,8.50L-8.50,8.50Z" fill="#048457" stroke-linejoin="miter"/>
<path transform="translate(1822.80,504.89)" d="M-8.50,-8.50L8.50,-8.50L8.50,8.50L-8.50,8.50Z" fill="#048457" stroke-linejoin="miter"/>
<path transform="translate(1860.20,514.60)" d="M-8.50,-8.50L8.50,-8.50L8.50,8.50L-8.50,8.50Z" fill="#048457" stroke-linejoin="miter"/>
<path transform="translate(1897.60,520.67)" d="M-8.50,-8.50L8.50,-8.50L8.50,8.50L-8.50,8.50Z" fill="#048457" stroke-linejoin="miter"/>
<path transform="translate(1935.00,532.81)" d="M-8.50,-8.50L8.50,-8.50L8.50,8.50L-8.50,8.50Z" fill="#048457" stroke-linejoin="miter"/>
<path transform="translate(1972.40,562.55)" d="M-8.50,-8.50L8.50,-8.50L8.50,8.50L-8.50,8.50Z" fill="#048457" stroke-linejoin="miter"/>
<path transform="translate(2009.80,526.74)" d="M-8.50,-8.50L8.50,-8.50L8.50,8.50L-8.50,8.50Z" fill="#048457" stroke-linejoin="miter"/>
<path transform="translate(2047.20,526.74)" d="M-8.50,-8.50L8.50,-8.50L8.50,8.50L-8.50,8.50Z" fill="#048457" stroke-linejoin="miter"/>
<path transform="translate(2084.60,520.67)" d="M-8.50,-8.50L8.50,-8.50L8.50,8.50L-8.50,8.50Z" fill="#048457" stroke-linejoin="miter"/>
<path transform="translate(2122.00,501.85)" d="M-8.50,-8.50L8.50,-8.50L8.50,8.50L-8.50,8.50Z" fill="#048457" stroke-linejoin="miter"/>
<path transform="translate(2159.40,526.74)" d="M-8.50,-8.50L8.50,-8.50L8.50,8.50L-8.50,8.50Z" fill="#048457" stroke-linejoin="miter"/>
<path transform="translate(2196.80,532.81)" d="M-8.50,-8.50L8.50,-8.50L8.50,8.50L-8.50,8.50Z" fill="#048457" stroke-linejoin="miter"/>
<path transform="translate(2234.20,535.85)" d="M-8.50,-8.50L8.50,-8.50L8.50,8.50L-8.50,8.50Z" fill="#048457" stroke-linejoin="miter"/>
<path transform="translate(2271.60,538.88)" d="M-8.50,-8.50L8.50,-8.50L8.50,8.50L-8.50,8.50Z" fill="#048457" stroke-linejoin="miter"/>
<path transform="translate(2309.00,538.88)" d="M-8.50,-8.50L8.50,-8.50L8.50,8.50L-8.50,8.50Z" fill="#048457" stroke-linejoin="miter"/>
</g>
<polyline points="1411.4,95.8 1448.8,95.8 1486.2,97.6 1523.6,107.9 1561.0,143.1 1598.4,220.2 1635.8,320.4 1673.2,411.4 1710.6,453.9 1748.0,478.2 1785.4,508.5 1822.8,520.7 1860.2,526.7 1897.6,526.7 1935.0,532.8 1972.4,526.7 2009.8,526.7 2047.2,529.8 2084.6,518.2 2122.0,520.7 2159.4,517.6 2196.8,526.7 2234.2,538.9 2271.6,532.8 2309.0,575.3" fill="none" stroke="#e8c41f" stroke-width="5.2" stroke-linejoin="round" stroke-linecap="round"/>
<g stroke="#ffffff" stroke-width="6.0">
<path transform="translate(1411.40,95.77)" d="M0.00,-8.50L-7.36,-4.25L-7.36,4.25L-0.00,8.50L7.36,4.25L7.36,-4.25Z" fill="#e8c41f" stroke-linejoin="miter"/>
<path transform="translate(1448.80,95.77)" d="M0.00,-8.50L-7.36,-4.25L-7.36,4.25L-0.00,8.50L7.36,4.25L7.36,-4.25Z" fill="#e8c41f" stroke-linejoin="miter"/>
<path transform="translate(1486.20,97.59)" d="M0.00,-8.50L-7.36,-4.25L-7.36,4.25L-0.00,8.50L7.36,4.25L7.36,-4.25Z" fill="#e8c41f" stroke-linejoin="miter"/>
<path transform="translate(1523.60,107.91)" d="M0.00,-8.50L-7.36,-4.25L-7.36,4.25L-0.00,8.50L7.36,4.25L7.36,-4.25Z" fill="#e8c41f" stroke-linejoin="miter"/>
<path transform="translate(1561.00,143.12)" d="M0.00,-8.50L-7.36,-4.25L-7.36,4.25L-0.00,8.50L7.36,4.25L7.36,-4.25Z" fill="#e8c41f" stroke-linejoin="miter"/>
<path transform="translate(1598.40,220.20)" d="M0.00,-8.50L-7.36,-4.25L-7.36,4.25L-0.00,8.50L7.36,4.25L7.36,-4.25Z" fill="#e8c41f" stroke-linejoin="miter"/>
<path transform="translate(1635.80,320.36)" d="M0.00,-8.50L-7.36,-4.25L-7.36,4.25L-0.00,8.50L7.36,4.25L7.36,-4.25Z" fill="#e8c41f" stroke-linejoin="miter"/>
<path transform="translate(1673.20,411.41)" d="M0.00,-8.50L-7.36,-4.25L-7.36,4.25L-0.00,8.50L7.36,4.25L7.36,-4.25Z" fill="#e8c41f" stroke-linejoin="miter"/>
<path transform="translate(1710.60,453.90)" d="M0.00,-8.50L-7.36,-4.25L-7.36,4.25L-0.00,8.50L7.36,4.25L7.36,-4.25Z" fill="#e8c41f" stroke-linejoin="miter"/>
<path transform="translate(1748.00,478.18)" d="M0.00,-8.50L-7.36,-4.25L-7.36,4.25L-0.00,8.50L7.36,4.25L7.36,-4.25Z" fill="#e8c41f" stroke-linejoin="miter"/>
<path transform="translate(1785.40,508.53)" d="M0.00,-8.50L-7.36,-4.25L-7.36,4.25L-0.00,8.50L7.36,4.25L7.36,-4.25Z" fill="#e8c41f" stroke-linejoin="miter"/>
<path transform="translate(1822.80,520.67)" d="M0.00,-8.50L-7.36,-4.25L-7.36,4.25L-0.00,8.50L7.36,4.25L7.36,-4.25Z" fill="#e8c41f" stroke-linejoin="miter"/>
<path transform="translate(1860.20,526.74)" d="M0.00,-8.50L-7.36,-4.25L-7.36,4.25L-0.00,8.50L7.36,4.25L7.36,-4.25Z" fill="#e8c41f" stroke-linejoin="miter"/>
<path transform="translate(1897.60,526.74)" d="M0.00,-8.50L-7.36,-4.25L-7.36,4.25L-0.00,8.50L7.36,4.25L7.36,-4.25Z" fill="#e8c41f" stroke-linejoin="miter"/>
<path transform="translate(1935.00,532.81)" d="M0.00,-8.50L-7.36,-4.25L-7.36,4.25L-0.00,8.50L7.36,4.25L7.36,-4.25Z" fill="#e8c41f" stroke-linejoin="miter"/>
<path transform="translate(1972.40,526.74)" d="M0.00,-8.50L-7.36,-4.25L-7.36,4.25L-0.00,8.50L7.36,4.25L7.36,-4.25Z" fill="#e8c41f" stroke-linejoin="miter"/>
<path transform="translate(2009.80,526.74)" d="M0.00,-8.50L-7.36,-4.25L-7.36,4.25L-0.00,8.50L7.36,4.25L7.36,-4.25Z" fill="#e8c41f" stroke-linejoin="miter"/>
<path transform="translate(2047.20,529.77)" d="M0.00,-8.50L-7.36,-4.25L-7.36,4.25L-0.00,8.50L7.36,4.25L7.36,-4.25Z" fill="#e8c41f" stroke-linejoin="miter"/>
<path transform="translate(2084.60,518.24)" d="M0.00,-8.50L-7.36,-4.25L-7.36,4.25L-0.00,8.50L7.36,4.25L7.36,-4.25Z" fill="#e8c41f" stroke-linejoin="miter"/>
<path transform="translate(2122.00,520.67)" d="M0.00,-8.50L-7.36,-4.25L-7.36,4.25L-0.00,8.50L7.36,4.25L7.36,-4.25Z" fill="#e8c41f" stroke-linejoin="miter"/>
<path transform="translate(2159.40,517.63)" d="M0.00,-8.50L-7.36,-4.25L-7.36,4.25L-0.00,8.50L7.36,4.25L7.36,-4.25Z" fill="#e8c41f" stroke-linejoin="miter"/>
<path transform="translate(2196.80,526.74)" d="M0.00,-8.50L-7.36,-4.25L-7.36,4.25L-0.00,8.50L7.36,4.25L7.36,-4.25Z" fill="#e8c41f" stroke-linejoin="miter"/>
<path transform="translate(2234.20,538.88)" d="M0.00,-8.50L-7.36,-4.25L-7.36,4.25L-0.00,8.50L7.36,4.25L7.36,-4.25Z" fill="#e8c41f" stroke-linejoin="miter"/>
<path transform="translate(2271.60,532.81)" d="M0.00,-8.50L-7.36,-4.25L-7.36,4.25L-0.00,8.50L7.36,4.25L7.36,-4.25Z" fill="#e8c41f" stroke-linejoin="miter"/>
<path transform="translate(2309.00,575.30)" d="M0.00,-8.50L-7.36,-4.25L-7.36,4.25L-0.00,8.50L7.36,4.25L7.36,-4.25Z" fill="#e8c41f" stroke-linejoin="miter"/>
</g>
<polyline points="1411.4,95.8 1448.8,95.8 1486.2,97.6 1523.6,107.9 1561.0,143.1 1598.4,220.2 1635.8,320.4 1673.2,417.5 1710.6,460.0 1748.0,487.3 1785.4,486.7 1822.8,483.6 1860.2,514.6 1897.6,552.8 1935.0,545.0 1972.4,490.3 2009.8,468.5 2047.2,520.7 2084.6,532.8 2122.0,526.7 2159.4,532.8 2196.8,538.9 2234.2,545.0 2271.6,551.0 2309.0,545.0" fill="none" stroke="#b4a4ca" stroke-width="5.2" stroke-linejoin="round" stroke-linecap="round"/>
<g stroke="#ffffff" stroke-width="6.0">
<circle cx="1411.40" cy="95.77" r="8.50" fill="#b4a4ca"/>
<circle cx="1448.80" cy="95.77" r="8.50" fill="#b4a4ca"/>
<circle cx="1486.20" cy="97.59" r="8.50" fill="#b4a4ca"/>
<circle cx="1523.60" cy="107.91" r="8.50" fill="#b4a4ca"/>
<circle cx="1561.00" cy="143.12" r="8.50" fill="#b4a4ca"/>
<circle cx="1598.40" cy="220.20" r="8.50" fill="#b4a4ca"/>
<circle cx="1635.80" cy="320.36" r="8.50" fill="#b4a4ca"/>
<circle cx="1673.20" cy="417.48" r="8.50" fill="#b4a4ca"/>
<circle cx="1710.60" cy="459.97" r="8.50" fill="#b4a4ca"/>
<circle cx="1748.00" cy="487.28" r="8.50" fill="#b4a4ca"/>
<circle cx="1785.40" cy="486.68" r="8.50" fill="#b4a4ca"/>
<circle cx="1822.80" cy="483.64" r="8.50" fill="#b4a4ca"/>
<circle cx="1860.20" cy="514.60" r="8.50" fill="#b4a4ca"/>
<circle cx="1897.60" cy="552.84" r="8.50" fill="#b4a4ca"/>
<circle cx="1935.00" cy="544.95" r="8.50" fill="#b4a4ca"/>
<circle cx="1972.40" cy="490.32" r="8.50" fill="#b4a4ca"/>
<circle cx="2009.80" cy="468.47" r="8.50" fill="#b4a4ca"/>
<circle cx="2047.20" cy="520.67" r="8.50" fill="#b4a4ca"/>
<circle cx="2084.60" cy="532.81" r="8.50" fill="#b4a4ca"/>
<circle cx="2122.00" cy="526.74" r="8.50" fill="#b4a4ca"/>
<circle cx="2159.40" cy="532.81" r="8.50" fill="#b4a4ca"/>
<circle cx="2196.80" cy="538.88" r="8.50" fill="#b4a4ca"/>
<circle cx="2234.20" cy="544.95" r="8.50" fill="#b4a4ca"/>
<circle cx="2271.60" cy="551.02" r="8.50" fill="#b4a4ca"/>
<circle cx="2309.00" cy="544.95" r="8.50" fill="#b4a4ca"/>
</g>
<polyline points="1411.4,95.8 1448.8,95.8 1486.2,97.6 1523.6,107.9 1561.0,141.3 1598.4,217.2 1635.8,304.6 1673.2,381.1 1710.6,439.3 1748.0,453.9 1785.4,492.7 1822.8,541.9 1860.2,526.7 1897.6,526.7 1935.0,492.1 1972.4,514.6 2009.8,509.1 2047.2,519.5 2084.6,526.7 2122.0,526.7 2159.4,518.2 2196.8,532.8 2234.2,532.8 2271.6,516.4 2309.0,538.9" fill="none" stroke="#fde2cf" stroke-width="5.2" stroke-linejoin="round" stroke-linecap="round"/>
<g stroke="#ffffff" stroke-width="6.0">
<circle cx="1411.40" cy="95.77" r="8.50" fill="#fde2cf"/>
<circle cx="1448.80" cy="95.77" r="8.50" fill="#fde2cf"/>
<circle cx="1486.20" cy="97.59" r="8.50" fill="#fde2cf"/>
<circle cx="1523.60" cy="107.91" r="8.50" fill="#fde2cf"/>
<circle cx="1561.00" cy="141.30" r="8.50" fill="#fde2cf"/>
<circle cx="1598.40" cy="217.17" r="8.50" fill="#fde2cf"/>
<circle cx="1635.80" cy="304.58" r="8.50" fill="#fde2cf"/>
<circle cx="1673.20" cy="381.06" r="8.50" fill="#fde2cf"/>
<circle cx="1710.60" cy="439.33" r="8.50" fill="#fde2cf"/>
<circle cx="1748.00" cy="453.90" r="8.50" fill="#fde2cf"/>
<circle cx="1785.40" cy="492.75" r="8.50" fill="#fde2cf"/>
<circle cx="1822.80" cy="541.91" r="8.50" fill="#fde2cf"/>
<circle cx="1860.20" cy="526.74" r="8.50" fill="#fde2cf"/>
<circle cx="1897.60" cy="526.74" r="8.50" fill="#fde2cf"/>
<circle cx="1935.00" cy="492.14" r="8.50" fill="#fde2cf"/>
<circle cx="1972.40" cy="514.60" r="8.50" fill="#fde2cf"/>
<circle cx="2009.80" cy="509.14" r="8.50" fill="#fde2cf"/>
<circle cx="2047.20" cy="519.46" r="8.50" fill="#fde2cf"/>
<circle cx="2084.60" cy="526.74" r="8.50" fill="#fde2cf"/>
<circle cx="2122.00" cy="526.74" r="8.50" fill="#fde2cf"/>
<circle cx="2159.40" cy="518.24" r="8.50" fill="#fde2cf"/>
<circle cx="2196.80" cy="532.81" r="8.50" fill="#fde2cf"/>
<circle cx="2234.20" cy="532.81" r="8.50" fill="#fde2cf"/>
<circle cx="2271.60" cy="516.42" r="8.50" fill="#fde2cf"/>
<circle cx="2309.00" cy="538.88" r="8.50" fill="#fde2cf"/>
</g>
<polyline points="1411.4,95.8 1448.8,95.8 1486.2,97.6 1523.6,106.7 1561.0,141.3 1598.4,223.2 1635.8,317.3 1673.2,391.4 1710.6,477.0 1748.0,481.2 1785.4,504.3 1822.8,514.6 1860.2,523.7 1897.6,526.7 1935.0,532.8 1972.4,510.4 2009.8,518.8 2047.2,532.8 2084.6,524.9 2122.0,526.7 2159.4,532.8 2196.8,538.9 2234.2,535.2 2271.6,545.0 2309.0,551.0" fill="none" stroke="#eb661f" stroke-width="5.2" stroke-linejoin="round" stroke-linecap="round"/>
<g stroke="#ffffff" stroke-width="6.0">
<path transform="translate(1411.40,95.77)" d="M0.00,-8.50L-8.08,-2.63L-5.00,6.88L5.00,6.88L8.08,-2.63Z" fill="#eb661f" stroke-linejoin="miter"/>
<path transform="translate(1448.80,95.77)" d="M0.00,-8.50L-8.08,-2.63L-5.00,6.88L5.00,6.88L8.08,-2.63Z" fill="#eb661f" stroke-linejoin="miter"/>
<path transform="translate(1486.20,97.59)" d="M0.00,-8.50L-8.08,-2.63L-5.00,6.88L5.00,6.88L8.08,-2.63Z" fill="#eb661f" stroke-linejoin="miter"/>
<path transform="translate(1523.60,106.70)" d="M0.00,-8.50L-8.08,-2.63L-5.00,6.88L5.00,6.88L8.08,-2.63Z" fill="#eb661f" stroke-linejoin="miter"/>
<path transform="translate(1561.00,141.30)" d="M0.00,-8.50L-8.08,-2.63L-5.00,6.88L5.00,6.88L8.08,-2.63Z" fill="#eb661f" stroke-linejoin="miter"/>
<path transform="translate(1598.40,223.24)" d="M0.00,-8.50L-8.08,-2.63L-5.00,6.88L5.00,6.88L8.08,-2.63Z" fill="#eb661f" stroke-linejoin="miter"/>
<path transform="translate(1635.80,317.33)" d="M0.00,-8.50L-8.08,-2.63L-5.00,6.88L5.00,6.88L8.08,-2.63Z" fill="#eb661f" stroke-linejoin="miter"/>
<path transform="translate(1673.20,391.38)" d="M0.00,-8.50L-8.08,-2.63L-5.00,6.88L5.00,6.88L8.08,-2.63Z" fill="#eb661f" stroke-linejoin="miter"/>
<path transform="translate(1710.60,476.97)" d="M0.00,-8.50L-8.08,-2.63L-5.00,6.88L5.00,6.88L8.08,-2.63Z" fill="#eb661f" stroke-linejoin="miter"/>
<path transform="translate(1748.00,481.22)" d="M0.00,-8.50L-8.08,-2.63L-5.00,6.88L5.00,6.88L8.08,-2.63Z" fill="#eb661f" stroke-linejoin="miter"/>
<path transform="translate(1785.40,504.28)" d="M0.00,-8.50L-8.08,-2.63L-5.00,6.88L5.00,6.88L8.08,-2.63Z" fill="#eb661f" stroke-linejoin="miter"/>
<path transform="translate(1822.80,514.60)" d="M0.00,-8.50L-8.08,-2.63L-5.00,6.88L5.00,6.88L8.08,-2.63Z" fill="#eb661f" stroke-linejoin="miter"/>
<path transform="translate(1860.20,523.70)" d="M0.00,-8.50L-8.08,-2.63L-5.00,6.88L5.00,6.88L8.08,-2.63Z" fill="#eb661f" stroke-linejoin="miter"/>
<path transform="translate(1897.60,526.74)" d="M0.00,-8.50L-8.08,-2.63L-5.00,6.88L5.00,6.88L8.08,-2.63Z" fill="#eb661f" stroke-linejoin="miter"/>
<path transform="translate(1935.00,532.81)" d="M0.00,-8.50L-8.08,-2.63L-5.00,6.88L5.00,6.88L8.08,-2.63Z" fill="#eb661f" stroke-linejoin="miter"/>
<path transform="translate(1972.40,510.35)" d="M0.00,-8.50L-8.08,-2.63L-5.00,6.88L5.00,6.88L8.08,-2.63Z" fill="#eb661f" stroke-linejoin="miter"/>
<path transform="translate(2009.80,518.85)" d="M0.00,-8.50L-8.08,-2.63L-5.00,6.88L5.00,6.88L8.08,-2.63Z" fill="#eb661f" stroke-linejoin="miter"/>
<path transform="translate(2047.20,532.81)" d="M0.00,-8.50L-8.08,-2.63L-5.00,6.88L5.00,6.88L8.08,-2.63Z" fill="#eb661f" stroke-linejoin="miter"/>
<path transform="translate(2084.60,524.92)" d="M0.00,-8.50L-8.08,-2.63L-5.00,6.88L5.00,6.88L8.08,-2.63Z" fill="#eb661f" stroke-linejoin="miter"/>
<path transform="translate(2122.00,526.74)" d="M0.00,-8.50L-8.08,-2.63L-5.00,6.88L5.00,6.88L8.08,-2.63Z" fill="#eb661f" stroke-linejoin="miter"/>
<path transform="translate(2159.40,532.81)" d="M0.00,-8.50L-8.08,-2.63L-5.00,6.88L5.00,6.88L8.08,-2.63Z" fill="#eb661f" stroke-linejoin="miter"/>
<path transform="translate(2196.80,538.88)" d="M0.00,-8.50L-8.08,-2.63L-5.00,6.88L5.00,6.88L8.08,-2.63Z" fill="#eb661f" stroke-linejoin="miter"/>
<path transform="translate(2234.20,535.24)" d="M0.00,-8.50L-8.08,-2.63L-5.00,6.88L5.00,6.88L8.08,-2.63Z" fill="#eb661f" stroke-linejoin="miter"/>
<path transform="translate(2271.60,544.95)" d="M0.00,-8.50L-8.08,-2.63L-5.00,6.88L5.00,6.88L8.08,-2.63Z" fill="#eb661f" stroke-linejoin="miter"/>
<path transform="translate(2309.00,551.02)" d="M0.00,-8.50L-8.08,-2.63L-5.00,6.88L5.00,6.88L8.08,-2.63Z" fill="#eb661f" stroke-linejoin="miter"/>
</g>
<polyline points="1411.4,95.8 1448.8,95.8 1486.2,98.8 1523.6,108.5 1561.0,146.2 1598.4,225.7 1635.8,324.0 1673.2,433.3 1710.6,458.1 1748.0,489.1 1785.4,516.4 1822.8,515.8 1860.2,507.3 1897.6,516.4 1935.0,511.6 1972.4,528.0 2009.8,534.0 2047.2,531.6 2084.6,532.8 2122.0,535.2 2159.4,528.6 2196.8,535.8 2234.2,538.9 2271.6,535.2 2309.0,529.8" fill="none" stroke="#720099" stroke-width="5.2" stroke-linejoin="round" stroke-linecap="round"/>
<g stroke="#ffffff" stroke-width="6.0">
<path transform="translate(1411.40,95.77)" d="M0.00,-12.02L7.21,0.00L0.00,12.02L-7.21,0.00Z" fill="#720099" stroke-linejoin="miter"/>
<path transform="translate(1448.80,95.77)" d="M0.00,-12.02L7.21,0.00L0.00,12.02L-7.21,0.00Z" fill="#720099" stroke-linejoin="miter"/>
<path transform="translate(1486.20,98.81)" d="M0.00,-12.02L7.21,0.00L0.00,12.02L-7.21,0.00Z" fill="#720099" stroke-linejoin="miter"/>
<path transform="translate(1523.60,108.52)" d="M0.00,-12.02L7.21,0.00L0.00,12.02L-7.21,0.00Z" fill="#720099" stroke-linejoin="miter"/>
<path transform="translate(1561.00,146.15)" d="M0.00,-12.02L7.21,0.00L0.00,12.02L-7.21,0.00Z" fill="#720099" stroke-linejoin="miter"/>
<path transform="translate(1598.40,225.67)" d="M0.00,-12.02L7.21,0.00L0.00,12.02L-7.21,0.00Z" fill="#720099" stroke-linejoin="miter"/>
<path transform="translate(1635.80,324.00)" d="M0.00,-12.02L7.21,0.00L0.00,12.02L-7.21,0.00Z" fill="#720099" stroke-linejoin="miter"/>
<path transform="translate(1673.20,433.26)" d="M0.00,-12.02L7.21,0.00L0.00,12.02L-7.21,0.00Z" fill="#720099" stroke-linejoin="miter"/>
<path transform="translate(1710.60,458.15)" d="M0.00,-12.02L7.21,0.00L0.00,12.02L-7.21,0.00Z" fill="#720099" stroke-linejoin="miter"/>
<path transform="translate(1748.00,489.11)" d="M0.00,-12.02L7.21,0.00L0.00,12.02L-7.21,0.00Z" fill="#720099" stroke-linejoin="miter"/>
<path transform="translate(1785.40,516.42)" d="M0.00,-12.02L7.21,0.00L0.00,12.02L-7.21,0.00Z" fill="#720099" stroke-linejoin="miter"/>
<path transform="translate(1822.80,515.81)" d="M0.00,-12.02L7.21,0.00L0.00,12.02L-7.21,0.00Z" fill="#720099" stroke-linejoin="miter"/>
<path transform="translate(1860.20,507.32)" d="M0.00,-12.02L7.21,0.00L0.00,12.02L-7.21,0.00Z" fill="#720099" stroke-linejoin="miter"/>
<path transform="translate(1897.60,516.42)" d="M0.00,-12.02L7.21,0.00L0.00,12.02L-7.21,0.00Z" fill="#720099" stroke-linejoin="miter"/>
<path transform="translate(1935.00,511.57)" d="M0.00,-12.02L7.21,0.00L0.00,12.02L-7.21,0.00Z" fill="#720099" stroke-linejoin="miter"/>
<path transform="translate(1972.40,527.95)" d="M0.00,-12.02L7.21,0.00L0.00,12.02L-7.21,0.00Z" fill="#720099" stroke-linejoin="miter"/>
<path transform="translate(2009.80,534.02)" d="M0.00,-12.02L7.21,0.00L0.00,12.02L-7.21,0.00Z" fill="#720099" stroke-linejoin="miter"/>
<path transform="translate(2047.20,531.60)" d="M0.00,-12.02L7.21,0.00L0.00,12.02L-7.21,0.00Z" fill="#720099" stroke-linejoin="miter"/>
<path transform="translate(2084.60,532.81)" d="M0.00,-12.02L7.21,0.00L0.00,12.02L-7.21,0.00Z" fill="#720099" stroke-linejoin="miter"/>
<path transform="translate(2122.00,535.24)" d="M0.00,-12.02L7.21,0.00L0.00,12.02L-7.21,0.00Z" fill="#720099" stroke-linejoin="miter"/>
<path transform="translate(2159.40,528.56)" d="M0.00,-12.02L7.21,0.00L0.00,12.02L-7.21,0.00Z" fill="#720099" stroke-linejoin="miter"/>
<path transform="translate(2196.80,535.85)" d="M0.00,-12.02L7.21,0.00L0.00,12.02L-7.21,0.00Z" fill="#720099" stroke-linejoin="miter"/>
<path transform="translate(2234.20,538.88)" d="M0.00,-12.02L7.21,0.00L0.00,12.02L-7.21,0.00Z" fill="#720099" stroke-linejoin="miter"/>
<path transform="translate(2271.60,535.24)" d="M0.00,-12.02L7.21,0.00L0.00,12.02L-7.21,0.00Z" fill="#720099" stroke-linejoin="miter"/>
<path transform="translate(2309.00,529.77)" d="M0.00,-12.02L7.21,0.00L0.00,12.02L-7.21,0.00Z" fill="#720099" stroke-linejoin="miter"/>
</g>
<polyline points="1411.4,98.2 1448.8,98.2 1486.2,99.7 1523.6,115.2 1561.0,175.9 1598.4,276.0 1635.8,378.6 1673.2,438.7 1710.6,492.7 1748.0,512.8 1785.4,521.9 1822.8,529.8 1860.2,534.0 1897.6,538.3 1935.0,538.3 1972.4,543.7 2009.8,542.5 2047.2,543.1 2084.6,545.0 2122.0,544.3 2159.4,545.0 2196.8,546.2 2234.2,549.2 2271.6,546.2 2309.0,551.0" fill="none" stroke="#dc8b00" stroke-width="5.2" stroke-linejoin="round" stroke-linecap="round"/>
<g stroke="#ffffff" stroke-width="6.0">
<path transform="translate(1411.40,98.20)" d="M0.00,-8.50L-8.50,8.50L8.50,8.50Z" fill="#dc8b00" stroke-linejoin="miter"/>
<path transform="translate(1448.80,98.20)" d="M0.00,-8.50L-8.50,8.50L8.50,8.50Z" fill="#dc8b00" stroke-linejoin="miter"/>
<path transform="translate(1486.20,99.72)" d="M0.00,-8.50L-8.50,8.50L8.50,8.50Z" fill="#dc8b00" stroke-linejoin="miter"/>
<path transform="translate(1523.60,115.19)" d="M0.00,-8.50L-8.50,8.50L8.50,8.50Z" fill="#dc8b00" stroke-linejoin="miter"/>
<path transform="translate(1561.00,175.89)" d="M0.00,-8.50L-8.50,8.50L8.50,8.50Z" fill="#dc8b00" stroke-linejoin="miter"/>
<path transform="translate(1598.40,276.05)" d="M0.00,-8.50L-8.50,8.50L8.50,8.50Z" fill="#dc8b00" stroke-linejoin="miter"/>
<path transform="translate(1635.80,378.63)" d="M0.00,-8.50L-8.50,8.50L8.50,8.50Z" fill="#dc8b00" stroke-linejoin="miter"/>
<path transform="translate(1673.20,438.73)" d="M0.00,-8.50L-8.50,8.50L8.50,8.50Z" fill="#dc8b00" stroke-linejoin="miter"/>
<path transform="translate(1710.60,492.75)" d="M0.00,-8.50L-8.50,8.50L8.50,8.50Z" fill="#dc8b00" stroke-linejoin="miter"/>
<path transform="translate(1748.00,512.78)" d="M0.00,-8.50L-8.50,8.50L8.50,8.50Z" fill="#dc8b00" stroke-linejoin="miter"/>
<path transform="translate(1785.40,521.88)" d="M0.00,-8.50L-8.50,8.50L8.50,8.50Z" fill="#dc8b00" stroke-linejoin="miter"/>
<path transform="translate(1822.80,529.77)" d="M0.00,-8.50L-8.50,8.50L8.50,8.50Z" fill="#dc8b00" stroke-linejoin="miter"/>
<path transform="translate(1860.20,534.02)" d="M0.00,-8.50L-8.50,8.50L8.50,8.50Z" fill="#dc8b00" stroke-linejoin="miter"/>
<path transform="translate(1897.60,538.27)" d="M0.00,-8.50L-8.50,8.50L8.50,8.50Z" fill="#dc8b00" stroke-linejoin="miter"/>
<path transform="translate(1935.00,538.27)" d="M0.00,-8.50L-8.50,8.50L8.50,8.50Z" fill="#dc8b00" stroke-linejoin="miter"/>
<path transform="translate(1972.40,543.74)" d="M0.00,-8.50L-8.50,8.50L8.50,8.50Z" fill="#dc8b00" stroke-linejoin="miter"/>
<path transform="translate(2009.80,542.52)" d="M0.00,-8.50L-8.50,8.50L8.50,8.50Z" fill="#dc8b00" stroke-linejoin="miter"/>
<path transform="translate(2047.20,543.13)" d="M0.00,-8.50L-8.50,8.50L8.50,8.50Z" fill="#dc8b00" stroke-linejoin="miter"/>
<path transform="translate(2084.60,544.95)" d="M0.00,-8.50L-8.50,8.50L8.50,8.50Z" fill="#dc8b00" stroke-linejoin="miter"/>
<path transform="translate(2122.00,544.34)" d="M0.00,-8.50L-8.50,8.50L8.50,8.50Z" fill="#dc8b00" stroke-linejoin="miter"/>
<path transform="translate(2159.40,544.95)" d="M0.00,-8.50L-8.50,8.50L8.50,8.50Z" fill="#dc8b00" stroke-linejoin="miter"/>
<path transform="translate(2196.80,546.16)" d="M0.00,-8.50L-8.50,8.50L8.50,8.50Z" fill="#dc8b00" stroke-linejoin="miter"/>
<path transform="translate(2234.20,549.20)" d="M0.00,-8.50L-8.50,8.50L8.50,8.50Z" fill="#dc8b00" stroke-linejoin="miter"/>
<path transform="translate(2271.60,546.16)" d="M0.00,-8.50L-8.50,8.50L8.50,8.50Z" fill="#dc8b00" stroke-linejoin="miter"/>
<path transform="translate(2309.00,551.02)" d="M0.00,-8.50L-8.50,8.50L8.50,8.50Z" fill="#dc8b00" stroke-linejoin="miter"/>
</g>
</g>
<rect x="1374" y="29" width="935" height="607" fill="none" stroke="#cccccc" stroke-width="3.8"/>
<text transform="translate(1347.5,646.6) scale(1,1.04)" font-size="28" text-anchor="end">0.04</text>
<text transform="translate(1347.5,525.2) scale(1,1.04)" font-size="28" text-anchor="end">0.06</text>
<text transform="translate(1347.5,403.8) scale(1,1.04)" font-size="28" text-anchor="end">0.08</text>
<text transform="translate(1347.5,282.4) scale(1,1.04)" font-size="28" text-anchor="end">0.10</text>
<text transform="translate(1347.5,161.0) scale(1,1.04)" font-size="28" text-anchor="end">0.12</text>
<text transform="translate(1347.5,39.6) scale(1,1.04)" font-size="28" text-anchor="end">0.14</text>
<text transform="translate(1374.0,683.0) scale(1,1.04)" font-size="28" text-anchor="middle">0</text>
<text transform="translate(1561.0,683.0) scale(1,1.04)" font-size="28" text-anchor="middle">5</text>
<text transform="translate(1748.0,683.0) scale(1,1.04)" font-size="28" text-anchor="middle">10</text>
<text transform="translate(1935.0,683.0) scale(1,1.04)" font-size="28" text-anchor="middle">15</text>
<text transform="translate(2122.0,683.0) scale(1,1.04)" font-size="28" text-anchor="middle">20</text>
<text transform="translate(2309.0,683.0) scale(1,1.04)" font-size="28" text-anchor="middle">25</text>
<text transform="translate(1842.5,724.0) scale(1,1.04)" font-size="33.3" text-anchor="middle">Iterations</text>
<text transform="translate(1278.0,336.0) rotate(-90) scale(1,1.04)" font-size="33.3" text-anchor="middle">BrierScore</text>
<rect x="1978.8" y="43.7" width="316.3" height="325.7" rx="5.6" ry="5.6" fill="#ffffff" fill-opacity="0.8" stroke="#cccccc" stroke-width="2.3" stroke-opacity="0.9"/>
<line x1="1989.0" y1="64.7" x2="2045.0" y2="64.7" stroke="#67cf66" stroke-width="5.2" stroke-linecap="round"/>
<g stroke="#ffffff" stroke-width="6.0"><path transform="translate(2017.00,64.70)" d="M0.00,-8.50L-8.50,8.50L8.50,8.50Z" fill="#67cf66" stroke-linejoin="miter"/></g>
<text transform="translate(2066.5,74.9) scale(1,1.04)" font-size="28">NbAFL</text>
<line x1="1989.0" y1="104.5" x2="2045.0" y2="104.5" stroke="#048457" stroke-width="5.2" stroke-linecap="round"/>
<g stroke="#ffffff" stroke-width="6.0"><path transform="translate(2017.00,104.45)" d="M-8.50,-8.50L8.50,-8.50L8.50,8.50L-8.50,8.50Z" fill="#048457" stroke-linejoin="miter"/></g>
<text transform="translate(2066.5,114.7) scale(1,1.04)" font-size="28">ROW-DP(Std)</text>
<line x1="1989.0" y1="144.2" x2="2045.0" y2="144.2" stroke="#e8c41f" stroke-width="5.2" stroke-linecap="round"/>
<g stroke="#ffffff" stroke-width="6.0"><path transform="translate(2017.00,144.20)" d="M0.00,-8.50L-7.36,-4.25L-7.36,4.25L-0.00,8.50L7.36,4.25L7.36,-4.25Z" fill="#e8c41f" stroke-linejoin="miter"/></g>
<text transform="translate(2066.5,154.4) scale(1,1.04)" font-size="28">ROW-DP(Var)</text>
<line x1="1989.0" y1="183.9" x2="2045.0" y2="183.9" stroke="#b4a4ca" stroke-width="5.2" stroke-linecap="round"/>
<g stroke="#ffffff" stroke-width="6.0"><circle cx="2017.00" cy="183.95" r="8.50" fill="#b4a4ca"/></g>
<text transform="translate(2066.5,194.1) scale(1,1.04)" font-size="28">ROW-DP(Range)</text>
<line x1="1989.0" y1="223.7" x2="2045.0" y2="223.7" stroke="#fde2cf" stroke-width="5.2" stroke-linecap="round"/>
<g stroke="#ffffff" stroke-width="6.0"><circle cx="2017.00" cy="223.70" r="8.50" fill="#fde2cf"/></g>
<text transform="translate(2066.5,233.9) scale(1,1.04)" font-size="28">ROW-DP(MAE)</text>
<line x1="1989.0" y1="263.4" x2="2045.0" y2="263.4" stroke="#eb661f" stroke-width="5.2" stroke-linecap="round"/>
<g stroke="#ffffff" stroke-width="6.0"><path transform="translate(2017.00,263.45)" d="M0.00,-8.50L-8.08,-2.63L-5.00,6.88L5.00,6.88L8.08,-2.63Z" fill="#eb661f" stroke-linejoin="miter"/></g>
<text transform="translate(2066.5,273.6) scale(1,1.04)" font-size="28">ROW-DP(IQR)</text>
<line x1="1989.0" y1="303.2" x2="2045.0" y2="303.2" stroke="#720099" stroke-width="5.2" stroke-linecap="round"/>
<g stroke="#ffffff" stroke-width="6.0"><path transform="translate(2017.00,303.20)" d="M0.00,-12.02L7.21,0.00L0.00,12.02L-7.21,0.00Z" fill="#720099" stroke-linejoin="miter"/></g>
<text transform="translate(2066.5,313.4) scale(1,1.04)" font-size="28">LS-ADP</text>
<line x1="1989.0" y1="342.9" x2="2045.0" y2="342.9" stroke="#dc8b00" stroke-width="5.2" stroke-linecap="round"/>
<g stroke="#ffffff" stroke-width="6.0"><path transform="translate(2017.00,342.95)" d="M0.00,-8.50L-8.50,8.50L8.50,8.50Z" fill="#dc8b00" stroke-linejoin="miter"/></g>
<text transform="translate(2066.5,353.1) scale(1,1.04)" font-size="28">Nopd</text>
<path d="M347.00,1010 V1617 M534.00,1010 V1617 M721.00,1010 V1617 M908.00,1010 V1617 M160,1544.74 H1095 M160,1472.48 H1095 M160,1400.21 H1095 M160,1327.95 H1095 M160,1255.69 H1095 M160,1183.43 H1095 M160,1111.17 H1095 M160,1038.90 H1095" stroke="#cccccc" stroke-width="2.4" fill="none"/>
<g clip-path="url(#c10)">
<polyline points="197.4,1015.8 234.8,1015.8 272.2,1027.3 309.6,1088.0 347.0,1206.6 384.4,1336.6 421.8,1432.0 459.2,1481.1 496.6,1507.2 534.0,1521.6 571.4,1527.4 608.8,1533.2 646.2,1536.1 683.6,1537.5 721.0,1539.0 758.4,1540.4 795.8,1540.4 833.2,1540.4 870.6,1540.4 908.0,1540.4 945.4,1540.4 982.8,1541.3 1020.2,1541.3 1057.6,1541.8 1095.0,1541.8" fill="none" stroke="#67cf66" stroke-width="5.2" stroke-linejoin="round" stroke-linecap="round"/>
<g stroke="#ffffff" stroke-width="6.0">
<path transform="translate(197.40,1015.78)" d="M0.00,-8.50L-8.50,8.50L8.50,8.50Z" fill="#67cf66" stroke-linejoin="miter"/>
<path transform="translate(234.80,1015.78)" d="M0.00,-8.50L-8.50,8.50L8.50,8.50Z" fill="#67cf66" stroke-linejoin="miter"/>
<path transform="translate(272.20,1027.34)" d="M0.00,-8.50L-8.50,8.50L8.50,8.50Z" fill="#67cf66" stroke-linejoin="miter"/>
<path transform="translate(309.60,1088.04)" d="M0.00,-8.50L-8.50,8.50L8.50,8.50Z" fill="#67cf66" stroke-linejoin="miter"/>
<path transform="translate(347.00,1206.55)" d="M0.00,-8.50L-8.50,8.50L8.50,8.50Z" fill="#67cf66" stroke-linejoin="miter"/>
<path transform="translate(384.40,1336.62)" d="M0.00,-8.50L-8.50,8.50L8.50,8.50Z" fill="#67cf66" stroke-linejoin="miter"/>
<path transform="translate(421.80,1432.01)" d="M0.00,-8.50L-8.50,8.50L8.50,8.50Z" fill="#67cf66" stroke-linejoin="miter"/>
<path transform="translate(459.20,1481.15)" d="M0.00,-8.50L-8.50,8.50L8.50,8.50Z" fill="#67cf66" stroke-linejoin="miter"/>
<path transform="translate(496.60,1507.16)" d="M0.00,-8.50L-8.50,8.50L8.50,8.50Z" fill="#67cf66" stroke-linejoin="miter"/>
<path transform="translate(534.00,1521.61)" d="M0.00,-8.50L-8.50,8.50L8.50,8.50Z" fill="#67cf66" stroke-linejoin="miter"/>
<path transform="translate(571.40,1527.40)" d="M0.00,-8.50L-8.50,8.50L8.50,8.50Z" fill="#67cf66" stroke-linejoin="miter"/>
<path transform="translate(608.80,1533.18)" d="M0.00,-8.50L-8.50,8.50L8.50,8.50Z" fill="#67cf66" stroke-linejoin="miter"/>
<path transform="translate(646.20,1536.07)" d="M0.00,-8.50L-8.50,8.50L8.50,8.50Z" fill="#67cf66" stroke-linejoin="miter"/>
<path transform="translate(683.60,1537.51)" d="M0.00,-8.50L-8.50,8.50L8.50,8.50Z" fill="#67cf66" stroke-linejoin="miter"/>
<path transform="translate(721.00,1538.96)" d="M0.00,-8.50L-8.50,8.50L8.50,8.50Z" fill="#67cf66" stroke-linejoin="miter"/>
<path transform="translate(758.40,1540.40)" d="M0.00,-8.50L-8.50,8.50L8.50,8.50Z" fill="#67cf66" stroke-linejoin="miter"/>
<path transform="translate(795.80,1540.40)" d="M0.00,-8.50L-8.50,8.50L8.50,8.50Z" fill="#67cf66" stroke-linejoin="miter"/>
<path transform="translate(833.20,1540.40)" d="M0.00,-8.50L-8.50,8.50L8.50,8.50Z" fill="#67cf66" stroke-linejoin="miter"/>
<path transform="translate(870.60,1540.40)" d="M0.00,-8.50L-8.50,8.50L8.50,8.50Z" fill="#67cf66" stroke-linejoin="miter"/>
<path transform="translate(908.00,1540.40)" d="M0.00,-8.50L-8.50,8.50L8.50,8.50Z" fill="#67cf66" stroke-linejoin="miter"/>
<path transform="translate(945.40,1540.40)" d="M0.00,-8.50L-8.50,8.50L8.50,8.50Z" fill="#67cf66" stroke-linejoin="miter"/>
<path transform="translate(982.80,1541.27)" d="M0.00,-8.50L-8.50,8.50L8.50,8.50Z" fill="#67cf66" stroke-linejoin="miter"/>
<path transform="translate(1020.20,1541.27)" d="M0.00,-8.50L-8.50,8.50L8.50,8.50Z" fill="#67cf66" stroke-linejoin="miter"/>
<path transform="translate(1057.60,1541.85)" d="M0.00,-8.50L-8.50,8.50L8.50,8.50Z" fill="#67cf66" stroke-linejoin="miter"/>
<path transform="translate(1095.00,1541.85)" d="M0.00,-8.50L-8.50,8.50L8.50,8.50Z" fill="#67cf66" stroke-linejoin="miter"/>
</g>
<polyline points="197.4,1015.8 234.8,1015.8 272.2,1027.3 309.6,1088.0 347.0,1206.6 384.4,1339.5 421.8,1437.8 459.2,1486.9 496.6,1504.3 534.0,1524.5 571.4,1533.2 608.8,1536.1 646.2,1539.0 683.6,1539.0 721.0,1540.4 758.4,1540.4 795.8,1539.0 833.2,1533.8 870.6,1540.4 908.0,1540.4 945.4,1541.8 982.8,1541.8 1020.2,1541.8 1057.6,1541.8 1095.0,1541.8" fill="none" stroke="#048457" stroke-width="5.2" stroke-linejoin="round" stroke-linecap="round"/>
<g stroke="#ffffff" stroke-width="6.0">
<path transform="translate(197.40,1015.78)" d="M-8.50,-8.50L8.50,-8.50L8.50,8.50L-8.50,8.50Z" fill="#048457" stroke-linejoin="miter"/>
<path transform="translate(234.80,1015.78)" d="M-8.50,-8.50L8.50,-8.50L8.50,8.50L-8.50,8.50Z" fill="#048457" stroke-linejoin="miter"/>
<path transform="translate(272.20,1027.34)" d="M-8.50,-8.50L8.50,-8.50L8.50,8.50L-8.50,8.50Z" fill="#048457" stroke-linejoin="miter"/>
<path transform="translate(309.60,1088.04)" d="M-8.50,-8.50L8.50,-8.50L8.50,8.50L-8.50,8.50Z" fill="#048457" stroke-linejoin="miter"/>
<path transform="translate(347.00,1206.55)" d="M-8.50,-8.50L8.50,-8.50L8.50,8.50L-8.50,8.50Z" fill="#048457" stroke-linejoin="miter"/>
<path transform="translate(384.40,1339.51)" d="M-8.50,-8.50L8.50,-8.50L8.50,8.50L-8.50,8.50Z" fill="#048457" stroke-linejoin="miter"/>
<path transform="translate(421.80,1437.79)" d="M-8.50,-8.50L8.50,-8.50L8.50,8.50L-8.50,8.50Z" fill="#048457" stroke-linejoin="miter"/>
<path transform="translate(459.20,1486.93)" d="M-8.50,-8.50L8.50,-8.50L8.50,8.50L-8.50,8.50Z" fill="#048457" stroke-linejoin="miter"/>
<path transform="translate(496.60,1504.27)" d="M-8.50,-8.50L8.50,-8.50L8.50,8.50L-8.50,8.50Z" fill="#048457" stroke-linejoin="miter"/>
<path transform="translate(534.00,1524.50)" d="M-8.50,-8.50L8.50,-8.50L8.50,8.50L-8.50,8.50Z" fill="#048457" stroke-linejoin="miter"/>
<path transform="translate(571.40,1533.18)" d="M-8.50,-8.50L8.50,-8.50L8.50,8.50L-8.50,8.50Z" fill="#048457" stroke-linejoin="miter"/>
<path transform="translate(608.80,1536.07)" d="M-8.50,-8.50L8.50,-8.50L8.50,8.50L-8.50,8.50Z" fill="#048457" stroke-linejoin="miter"/>
<path transform="translate(646.20,1538.96)" d="M-8.50,-8.50L8.50,-8.50L8.50,8.50L-8.50,8.50Z" fill="#048457" stroke-linejoin="miter"/>
<path transform="translate(683.60,1538.96)" d="M-8.50,-8.50L8.50,-8.50L8.50,8.50L-8.50,8.50Z" fill="#048457" stroke-linejoin="miter"/>
<path transform="translate(721.00,1540.40)" d="M-8.50,-8.50L8.50,-8.50L8.50,8.50L-8.50,8.50Z" fill="#048457" stroke-linejoin="miter"/>
<path transform="translate(758.40,1540.40)" d="M-8.50,-8.50L8.50,-8.50L8.50,8.50L-8.50,8.50Z" fill="#048457" stroke-linejoin="miter"/>
<path transform="translate(795.80,1538.96)" d="M-8.50,-8.50L8.50,-8.50L8.50,8.50L-8.50,8.50Z" fill="#048457" stroke-linejoin="miter"/>
<path transform="translate(833.20,1533.75)" d="M-8.50,-8.50L8.50,-8.50L8.50,8.50L-8.50,8.50Z" fill="#048457" stroke-linejoin="miter"/>
<path transform="translate(870.60,1540.40)" d="M-8.50,-8.50L8.50,-8.50L8.50,8.50L-8.50,8.50Z" fill="#048457" stroke-linejoin="miter"/>
<path transform="translate(908.00,1540.40)" d="M-8.50,-8.50L8.50,-8.50L8.50,8.50L-8.50,8.50Z" fill="#048457" stroke-linejoin="miter"/>
<path transform="translate(945.40,1541.85)" d="M-8.50,-8.50L8.50,-8.50L8.50,8.50L-8.50,8.50Z" fill="#048457" stroke-linejoin="miter"/>
<path transform="translate(982.80,1541.85)" d="M-8.50,-8.50L8.50,-8.50L8.50,8.50L-8.50,8.50Z" fill="#048457" stroke-linejoin="miter"/>
<path transform="translate(1020.20,1541.85)" d="M-8.50,-8.50L8.50,-8.50L8.50,8.50L-8.50,8.50Z" fill="#048457" stroke-linejoin="miter"/>
<path transform="translate(1057.60,1541.85)" d="M-8.50,-8.50L8.50,-8.50L8.50,8.50L-8.50,8.50Z" fill="#048457" stroke-linejoin="miter"/>
<path transform="translate(1095.00,1541.85)" d="M-8.50,-8.50L8.50,-8.50L8.50,8.50L-8.50,8.50Z" fill="#048457" stroke-linejoin="miter"/>
</g>
<polyline points="197.4,1015.8 234.8,1015.8 272.2,1027.3 309.6,1085.2 347.0,1177.1 384.4,1315.2 421.8,1426.2 459.2,1481.1 496.6,1510.1 534.0,1524.5 571.4,1530.3 608.8,1536.1 646.2,1539.0 683.6,1539.0 721.0,1540.4 758.4,1540.4 795.8,1539.0 833.2,1539.0 870.6,1539.0 908.0,1539.0 945.4,1539.0 982.8,1537.5 1020.2,1539.0 1057.6,1539.0 1095.0,1539.0" fill="none" stroke="#e8c41f" stroke-width="5.2" stroke-linejoin="round" stroke-linecap="round"/>
<g stroke="#ffffff" stroke-width="6.0">
<path transform="translate(197.40,1015.78)" d="M0.00,-8.50L-7.36,-4.25L-7.36,4.25L-0.00,8.50L7.36,4.25L7.36,-4.25Z" fill="#e8c41f" stroke-linejoin="miter"/>
<path transform="translate(234.80,1015.78)" d="M0.00,-8.50L-7.36,-4.25L-7.36,4.25L-0.00,8.50L7.36,4.25L7.36,-4.25Z" fill="#e8c41f" stroke-linejoin="miter"/>
<path transform="translate(272.20,1027.34)" d="M0.00,-8.50L-7.36,-4.25L-7.36,4.25L-0.00,8.50L7.36,4.25L7.36,-4.25Z" fill="#e8c41f" stroke-linejoin="miter"/>
<path transform="translate(309.60,1085.15)" d="M0.00,-8.50L-7.36,-4.25L-7.36,4.25L-0.00,8.50L7.36,4.25L7.36,-4.25Z" fill="#e8c41f" stroke-linejoin="miter"/>
<path transform="translate(347.00,1177.07)" d="M0.00,-8.50L-7.36,-4.25L-7.36,4.25L-0.00,8.50L7.36,4.25L7.36,-4.25Z" fill="#e8c41f" stroke-linejoin="miter"/>
<path transform="translate(384.40,1315.23)" d="M0.00,-8.50L-7.36,-4.25L-7.36,4.25L-0.00,8.50L7.36,4.25L7.36,-4.25Z" fill="#e8c41f" stroke-linejoin="miter"/>
<path transform="translate(421.80,1426.23)" d="M0.00,-8.50L-7.36,-4.25L-7.36,4.25L-0.00,8.50L7.36,4.25L7.36,-4.25Z" fill="#e8c41f" stroke-linejoin="miter"/>
<path transform="translate(459.20,1481.15)" d="M0.00,-8.50L-7.36,-4.25L-7.36,4.25L-0.00,8.50L7.36,4.25L7.36,-4.25Z" fill="#e8c41f" stroke-linejoin="miter"/>
<path transform="translate(496.60,1510.05)" d="M0.00,-8.50L-7.36,-4.25L-7.36,4.25L-0.00,8.50L7.36,4.25L7.36,-4.25Z" fill="#e8c41f" stroke-linejoin="miter"/>
<path transform="translate(534.00,1524.50)" d="M0.00,-8.50L-7.36,-4.25L-7.36,4.25L-0.00,8.50L7.36,4.25L7.36,-4.25Z" fill="#e8c41f" stroke-linejoin="miter"/>
<path transform="translate(571.40,1530.29)" d="M0.00,-8.50L-7.36,-4.25L-7.36,4.25L-0.00,8.50L7.36,4.25L7.36,-4.25Z" fill="#e8c41f" stroke-linejoin="miter"/>
<path transform="translate(608.80,1536.07)" d="M0.00,-8.50L-7.36,-4.25L-7.36,4.25L-0.00,8.50L7.36,4.25L7.36,-4.25Z" fill="#e8c41f" stroke-linejoin="miter"/>
<path transform="translate(646.20,1538.96)" d="M0.00,-8.50L-7.36,-4.25L-7.36,4.25L-0.00,8.50L7.36,4.25L7.36,-4.25Z" fill="#e8c41f" stroke-linejoin="miter"/>
<path transform="translate(683.60,1538.96)" d="M0.00,-8.50L-7.36,-4.25L-7.36,4.25L-0.00,8.50L7.36,4.25L7.36,-4.25Z" fill="#e8c41f" stroke-linejoin="miter"/>
<path transform="translate(721.00,1540.40)" d="M0.00,-8.50L-7.36,-4.25L-7.36,4.25L-0.00,8.50L7.36,4.25L7.36,-4.25Z" fill="#e8c41f" stroke-linejoin="miter"/>
<path transform="translate(758.40,1540.40)" d="M0.00,-8.50L-7.36,-4.25L-7.36,4.25L-0.00,8.50L7.36,4.25L7.36,-4.25Z" fill="#e8c41f" stroke-linejoin="miter"/>
<path transform="translate(795.80,1538.96)" d="M0.00,-8.50L-7.36,-4.25L-7.36,4.25L-0.00,8.50L7.36,4.25L7.36,-4.25Z" fill="#e8c41f" stroke-linejoin="miter"/>
<path transform="translate(833.20,1538.96)" d="M0.00,-8.50L-7.36,-4.25L-7.36,4.25L-0.00,8.50L7.36,4.25L7.36,-4.25Z" fill="#e8c41f" stroke-linejoin="miter"/>
<path transform="translate(870.60,1538.96)" d="M0.00,-8.50L-7.36,-4.25L-7.36,4.25L-0.00,8.50L7.36,4.25L7.36,-4.25Z" fill="#e8c41f" stroke-linejoin="miter"/>
<path transform="translate(908.00,1538.96)" d="M0.00,-8.50L-7.36,-4.25L-7.36,4.25L-0.00,8.50L7.36,4.25L7.36,-4.25Z" fill="#e8c41f" stroke-linejoin="miter"/>
<path transform="translate(945.40,1538.96)" d="M0.00,-8.50L-7.36,-4.25L-7.36,4.25L-0.00,8.50L7.36,4.25L7.36,-4.25Z" fill="#e8c41f" stroke-linejoin="miter"/>
<path transform="translate(982.80,1537.51)" d="M0.00,-8.50L-7.36,-4.25L-7.36,4.25L-0.00,8.50L7.36,4.25L7.36,-4.25Z" fill="#e8c41f" stroke-linejoin="miter"/>
<path transform="translate(1020.20,1538.96)" d="M0.00,-8.50L-7.36,-4.25L-7.36,4.25L-0.00,8.50L7.36,4.25L7.36,-4.25Z" fill="#e8c41f" stroke-linejoin="miter"/>
<path transform="translate(1057.60,1538.96)" d="M0.00,-8.50L-7.36,-4.25L-7.36,4.25L-0.00,8.50L7.36,4.25L7.36,-4.25Z" fill="#e8c41f" stroke-linejoin="miter"/>
<path transform="translate(1095.00,1538.96)" d="M0.00,-8.50L-7.36,-4.25L-7.36,4.25L-0.00,8.50L7.36,4.25L7.36,-4.25Z" fill="#e8c41f" stroke-linejoin="miter"/>
</g>
<polyline points="197.4,1015.8 234.8,1015.8 272.2,1027.3 309.6,1070.7 347.0,1212.3 384.4,1336.6 421.8,1400.8 459.2,1469.6 496.6,1497.3 534.0,1514.4 571.4,1527.4 608.8,1533.2 646.2,1536.1 683.6,1539.0 721.0,1541.8 758.4,1544.7 795.8,1544.7 833.2,1544.7 870.6,1544.7 908.0,1544.7 945.4,1544.7 982.8,1544.7 1020.2,1544.7 1057.6,1544.7 1095.0,1544.7" fill="none" stroke="#b4a4ca" stroke-width="5.2" stroke-linejoin="round" stroke-linecap="round"/>
<g stroke="#ffffff" stroke-width="6.0">
<circle cx="197.40" cy="1015.78" r="8.50" fill="#b4a4ca"/>
<circle cx="234.80" cy="1015.78" r="8.50" fill="#b4a4ca"/>
<circle cx="272.20" cy="1027.34" r="8.50" fill="#b4a4ca"/>
<circle cx="309.60" cy="1070.70" r="8.50" fill="#b4a4ca"/>
<circle cx="347.00" cy="1212.33" r="8.50" fill="#b4a4ca"/>
<circle cx="384.40" cy="1336.62" r="8.50" fill="#b4a4ca"/>
<circle cx="421.80" cy="1400.79" r="8.50" fill="#b4a4ca"/>
<circle cx="459.20" cy="1469.59" r="8.50" fill="#b4a4ca"/>
<circle cx="496.60" cy="1497.33" r="8.50" fill="#b4a4ca"/>
<circle cx="534.00" cy="1514.39" r="8.50" fill="#b4a4ca"/>
<circle cx="571.40" cy="1527.40" r="8.50" fill="#b4a4ca"/>
<circle cx="608.80" cy="1533.18" r="8.50" fill="#b4a4ca"/>
<circle cx="646.20" cy="1536.07" r="8.50" fill="#b4a4ca"/>
<circle cx="683.60" cy="1538.96" r="8.50" fill="#b4a4ca"/>
<circle cx="721.00" cy="1541.85" r="8.50" fill="#b4a4ca"/>
<circle cx="758.40" cy="1544.74" r="8.50" fill="#b4a4ca"/>
<circle cx="795.80" cy="1544.74" r="8.50" fill="#b4a4ca"/>
<circle cx="833.20" cy="1544.74" r="8.50" fill="#b4a4ca"/>
<circle cx="870.60" cy="1544.74" r="8.50" fill="#b4a4ca"/>
<circle cx="908.00" cy="1544.74" r="8.50" fill="#b4a4ca"/>
<circle cx="945.40" cy="1544.74" r="8.50" fill="#b4a4ca"/>
<circle cx="982.80" cy="1544.74" r="8.50" fill="#b4a4ca"/>
<circle cx="1020.20" cy="1544.74" r="8.50" fill="#b4a4ca"/>
<circle cx="1057.60" cy="1544.74" r="8.50" fill="#b4a4ca"/>
<circle cx="1095.00" cy="1544.74" r="8.50" fill="#b4a4ca"/>
</g>
<polyline points="197.4,1015.8 234.8,1015.8 272.2,1027.3 309.6,1088.0 347.0,1208.9 384.4,1340.1 421.8,1433.2 459.2,1472.5 496.6,1505.7 534.0,1524.5 571.4,1530.3 608.8,1536.1 646.2,1539.0 683.6,1540.4 721.0,1541.8 758.4,1543.3 795.8,1543.3 833.2,1543.3 870.6,1543.3 908.0,1543.3 945.4,1543.3 982.8,1543.3 1020.2,1543.3 1057.6,1543.3 1095.0,1543.3" fill="none" stroke="#fde2cf" stroke-width="5.2" stroke-linejoin="round" stroke-linecap="round"/>
<g stroke="#ffffff" stroke-width="6.0">
<circle cx="197.40" cy="1015.78" r="8.50" fill="#fde2cf"/>
<circle cx="234.80" cy="1015.78" r="8.50" fill="#fde2cf"/>
<circle cx="272.20" cy="1027.34" r="8.50" fill="#fde2cf"/>
<circle cx="309.60" cy="1088.04" r="8.50" fill="#fde2cf"/>
<circle cx="347.00" cy="1208.86" r="8.50" fill="#fde2cf"/>
<circle cx="384.40" cy="1340.09" r="8.50" fill="#fde2cf"/>
<circle cx="421.80" cy="1433.17" r="8.50" fill="#fde2cf"/>
<circle cx="459.20" cy="1472.48" r="8.50" fill="#fde2cf"/>
<circle cx="496.60" cy="1505.72" r="8.50" fill="#fde2cf"/>
<circle cx="534.00" cy="1524.50" r="8.50" fill="#fde2cf"/>
<circle cx="571.40" cy="1530.29" r="8.50" fill="#fde2cf"/>
<circle cx="608.80" cy="1536.07" r="8.50" fill="#fde2cf"/>
<circle cx="646.20" cy="1538.96" r="8.50" fill="#fde2cf"/>
<circle cx="683.60" cy="1540.40" r="8.50" fill="#fde2cf"/>
<circle cx="721.00" cy="1541.85" r="8.50" fill="#fde2cf"/>
<circle cx="758.40" cy="1543.29" r="8.50" fill="#fde2cf"/>
<circle cx="795.80" cy="1543.29" r="8.50" fill="#fde2cf"/>
<circle cx="833.20" cy="1543.29" r="8.50" fill="#fde2cf"/>
<circle cx="870.60" cy="1543.29" r="8.50" fill="#fde2cf"/>
<circle cx="908.00" cy="1543.29" r="8.50" fill="#fde2cf"/>
<circle cx="945.40" cy="1543.29" r="8.50" fill="#fde2cf"/>
<circle cx="982.80" cy="1543.29" r="8.50" fill="#fde2cf"/>
<circle cx="1020.20" cy="1543.29" r="8.50" fill="#fde2cf"/>
<circle cx="1057.60" cy="1543.29" r="8.50" fill="#fde2cf"/>
<circle cx="1095.00" cy="1543.29" r="8.50" fill="#fde2cf"/>
</g>
<polyline points="197.4,1015.8 234.8,1015.8 272.2,1027.3 309.6,1090.9 347.0,1218.1 384.4,1348.2 421.8,1449.4 459.2,1495.6 496.6,1515.8 534.0,1527.4 571.4,1534.6 608.8,1539.0 646.2,1540.4 683.6,1541.8 721.0,1543.3 758.4,1543.3 795.8,1543.3 833.2,1543.3 870.6,1544.7 908.0,1544.7 945.4,1544.7 982.8,1544.7 1020.2,1544.7 1057.6,1544.7 1095.0,1546.2" fill="none" stroke="#eb661f" stroke-width="5.2" stroke-linejoin="round" stroke-linecap="round"/>
<g stroke="#ffffff" stroke-width="6.0">
<path transform="translate(197.40,1015.78)" d="M0.00,-8.50L-8.08,-2.63L-5.00,6.88L5.00,6.88L8.08,-2.63Z" fill="#eb661f" stroke-linejoin="miter"/>
<path transform="translate(234.80,1015.78)" d="M0.00,-8.50L-8.08,-2.63L-5.00,6.88L5.00,6.88L8.08,-2.63Z" fill="#eb661f" stroke-linejoin="miter"/>
<path transform="translate(272.20,1027.34)" d="M0.00,-8.50L-8.08,-2.63L-5.00,6.88L5.00,6.88L8.08,-2.63Z" fill="#eb661f" stroke-linejoin="miter"/>
<path transform="translate(309.60,1090.93)" d="M0.00,-8.50L-8.08,-2.63L-5.00,6.88L5.00,6.88L8.08,-2.63Z" fill="#eb661f" stroke-linejoin="miter"/>
<path transform="translate(347.00,1218.11)" d="M0.00,-8.50L-8.08,-2.63L-5.00,6.88L5.00,6.88L8.08,-2.63Z" fill="#eb661f" stroke-linejoin="miter"/>
<path transform="translate(384.40,1348.19)" d="M0.00,-8.50L-8.08,-2.63L-5.00,6.88L5.00,6.88L8.08,-2.63Z" fill="#eb661f" stroke-linejoin="miter"/>
<path transform="translate(421.80,1449.35)" d="M0.00,-8.50L-8.08,-2.63L-5.00,6.88L5.00,6.88L8.08,-2.63Z" fill="#eb661f" stroke-linejoin="miter"/>
<path transform="translate(459.20,1495.60)" d="M0.00,-8.50L-8.08,-2.63L-5.00,6.88L5.00,6.88L8.08,-2.63Z" fill="#eb661f" stroke-linejoin="miter"/>
<path transform="translate(496.60,1515.83)" d="M0.00,-8.50L-8.08,-2.63L-5.00,6.88L5.00,6.88L8.08,-2.63Z" fill="#eb661f" stroke-linejoin="miter"/>
<path transform="translate(534.00,1527.40)" d="M0.00,-8.50L-8.08,-2.63L-5.00,6.88L5.00,6.88L8.08,-2.63Z" fill="#eb661f" stroke-linejoin="miter"/>
<path transform="translate(571.40,1534.62)" d="M0.00,-8.50L-8.08,-2.63L-5.00,6.88L5.00,6.88L8.08,-2.63Z" fill="#eb661f" stroke-linejoin="miter"/>
<path transform="translate(608.80,1538.96)" d="M0.00,-8.50L-8.08,-2.63L-5.00,6.88L5.00,6.88L8.08,-2.63Z" fill="#eb661f" stroke-linejoin="miter"/>
<path transform="translate(646.20,1540.40)" d="M0.00,-8.50L-8.08,-2.63L-5.00,6.88L5.00,6.88L8.08,-2.63Z" fill="#eb661f" stroke-linejoin="miter"/>
<path transform="translate(683.60,1541.85)" d="M0.00,-8.50L-8.08,-2.63L-5.00,6.88L5.00,6.88L8.08,-2.63Z" fill="#eb661f" stroke-linejoin="miter"/>
<path transform="translate(721.00,1543.29)" d="M0.00,-8.50L-8.08,-2.63L-5.00,6.88L5.00,6.88L8.08,-2.63Z" fill="#eb661f" stroke-linejoin="miter"/>
<path transform="translate(758.40,1543.29)" d="M0.00,-8.50L-8.08,-2.63L-5.00,6.88L5.00,6.88L8.08,-2.63Z" fill="#eb661f" stroke-linejoin="miter"/>
<path transform="translate(795.80,1543.29)" d="M0.00,-8.50L-8.08,-2.63L-5.00,6.88L5.00,6.88L8.08,-2.63Z" fill="#eb661f" stroke-linejoin="miter"/>
<path transform="translate(833.20,1543.29)" d="M0.00,-8.50L-8.08,-2.63L-5.00,6.88L5.00,6.88L8.08,-2.63Z" fill="#eb661f" stroke-linejoin="miter"/>
<path transform="translate(870.60,1544.74)" d="M0.00,-8.50L-8.08,-2.63L-5.00,6.88L5.00,6.88L8.08,-2.63Z" fill="#eb661f" stroke-linejoin="miter"/>
<path transform="translate(908.00,1544.74)" d="M0.00,-8.50L-8.08,-2.63L-5.00,6.88L5.00,6.88L8.08,-2.63Z" fill="#eb661f" stroke-linejoin="miter"/>
<path transform="translate(945.40,1544.74)" d="M0.00,-8.50L-8.08,-2.63L-5.00,6.88L5.00,6.88L8.08,-2.63Z" fill="#eb661f" stroke-linejoin="miter"/>
<path transform="translate(982.80,1544.74)" d="M0.00,-8.50L-8.08,-2.63L-5.00,6.88L5.00,6.88L8.08,-2.63Z" fill="#eb661f" stroke-linejoin="miter"/>
<path transform="translate(1020.20,1544.74)" d="M0.00,-8.50L-8.08,-2.63L-5.00,6.88L5.00,6.88L8.08,-2.63Z" fill="#eb661f" stroke-linejoin="miter"/>
<path transform="translate(1057.60,1544.74)" d="M0.00,-8.50L-8.08,-2.63L-5.00,6.88L5.00,6.88L8.08,-2.63Z" fill="#eb661f" stroke-linejoin="miter"/>
<path transform="translate(1095.00,1546.18)" d="M0.00,-8.50L-8.08,-2.63L-5.00,6.88L5.00,6.88L8.08,-2.63Z" fill="#eb661f" stroke-linejoin="miter"/>
</g>
<polyline points="197.4,1015.8 234.8,1015.8 272.2,1030.2 309.6,1095.6 347.0,1234.9 384.4,1355.1 421.8,1454.6 459.2,1497.3 496.6,1521.6 534.0,1534.6 571.4,1536.6 608.8,1536.9 646.2,1535.8 683.6,1539.0 721.0,1543.0 758.4,1541.8 795.8,1540.1 833.2,1541.3 870.6,1541.3 908.0,1541.3 945.4,1541.3 982.8,1541.3 1020.2,1541.3 1057.6,1540.1 1095.0,1540.1" fill="none" stroke="#720099" stroke-width="5.2" stroke-linejoin="round" stroke-linecap="round"/>
<g stroke="#ffffff" stroke-width="6.0">
<path transform="translate(197.40,1015.78)" d="M0.00,-12.02L7.21,0.00L0.00,12.02L-7.21,0.00Z" fill="#720099" stroke-linejoin="miter"/>
<path transform="translate(234.80,1015.78)" d="M0.00,-12.02L7.21,0.00L0.00,12.02L-7.21,0.00Z" fill="#720099" stroke-linejoin="miter"/>
<path transform="translate(272.20,1030.23)" d="M0.00,-12.02L7.21,0.00L0.00,12.02L-7.21,0.00Z" fill="#720099" stroke-linejoin="miter"/>
<path transform="translate(309.60,1095.56)" d="M0.00,-12.02L7.21,0.00L0.00,12.02L-7.21,0.00Z" fill="#720099" stroke-linejoin="miter"/>
<path transform="translate(347.00,1234.88)" d="M0.00,-12.02L7.21,0.00L0.00,12.02L-7.21,0.00Z" fill="#720099" stroke-linejoin="miter"/>
<path transform="translate(384.40,1355.12)" d="M0.00,-12.02L7.21,0.00L0.00,12.02L-7.21,0.00Z" fill="#720099" stroke-linejoin="miter"/>
<path transform="translate(421.80,1454.56)" d="M0.00,-12.02L7.21,0.00L0.00,12.02L-7.21,0.00Z" fill="#720099" stroke-linejoin="miter"/>
<path transform="translate(459.20,1497.33)" d="M0.00,-12.02L7.21,0.00L0.00,12.02L-7.21,0.00Z" fill="#720099" stroke-linejoin="miter"/>
<path transform="translate(496.60,1521.61)" d="M0.00,-12.02L7.21,0.00L0.00,12.02L-7.21,0.00Z" fill="#720099" stroke-linejoin="miter"/>
<path transform="translate(534.00,1534.62)" d="M0.00,-12.02L7.21,0.00L0.00,12.02L-7.21,0.00Z" fill="#720099" stroke-linejoin="miter"/>
<path transform="translate(571.40,1536.64)" d="M0.00,-12.02L7.21,0.00L0.00,12.02L-7.21,0.00Z" fill="#720099" stroke-linejoin="miter"/>
<path transform="translate(608.80,1536.93)" d="M0.00,-12.02L7.21,0.00L0.00,12.02L-7.21,0.00Z" fill="#720099" stroke-linejoin="miter"/>
<path transform="translate(646.20,1535.78)" d="M0.00,-12.02L7.21,0.00L0.00,12.02L-7.21,0.00Z" fill="#720099" stroke-linejoin="miter"/>
<path transform="translate(683.60,1538.96)" d="M0.00,-12.02L7.21,0.00L0.00,12.02L-7.21,0.00Z" fill="#720099" stroke-linejoin="miter"/>
<path transform="translate(721.00,1543.00)" d="M0.00,-12.02L7.21,0.00L0.00,12.02L-7.21,0.00Z" fill="#720099" stroke-linejoin="miter"/>
<path transform="translate(758.40,1541.85)" d="M0.00,-12.02L7.21,0.00L0.00,12.02L-7.21,0.00Z" fill="#720099" stroke-linejoin="miter"/>
<path transform="translate(795.80,1540.11)" d="M0.00,-12.02L7.21,0.00L0.00,12.02L-7.21,0.00Z" fill="#720099" stroke-linejoin="miter"/>
<path transform="translate(833.20,1541.27)" d="M0.00,-12.02L7.21,0.00L0.00,12.02L-7.21,0.00Z" fill="#720099" stroke-linejoin="miter"/>
<path transform="translate(870.60,1541.27)" d="M0.00,-12.02L7.21,0.00L0.00,12.02L-7.21,0.00Z" fill="#720099" stroke-linejoin="miter"/>
<path transform="translate(908.00,1541.27)" d="M0.00,-12.02L7.21,0.00L0.00,12.02L-7.21,0.00Z" fill="#720099" stroke-linejoin="miter"/>
<path transform="translate(945.40,1541.27)" d="M0.00,-12.02L7.21,0.00L0.00,12.02L-7.21,0.00Z" fill="#720099" stroke-linejoin="miter"/>
<path transform="translate(982.80,1541.27)" d="M0.00,-12.02L7.21,0.00L0.00,12.02L-7.21,0.00Z" fill="#720099" stroke-linejoin="miter"/>
<path transform="translate(1020.20,1541.27)" d="M0.00,-12.02L7.21,0.00L0.00,12.02L-7.21,0.00Z" fill="#720099" stroke-linejoin="miter"/>
<path transform="translate(1057.60,1540.11)" d="M0.00,-12.02L7.21,0.00L0.00,12.02L-7.21,0.00Z" fill="#720099" stroke-linejoin="miter"/>
<path transform="translate(1095.00,1540.11)" d="M0.00,-12.02L7.21,0.00L0.00,12.02L-7.21,0.00Z" fill="#720099" stroke-linejoin="miter"/>
</g>
<polyline points="197.4,1017.2 234.8,1019.0 272.2,1034.9 309.6,1110.0 347.0,1250.2 384.4,1382.3 421.8,1467.3 459.2,1503.7 496.6,1528.6 534.0,1537.8 571.4,1539.8 608.8,1543.6 646.2,1544.4 683.6,1545.6 721.0,1547.1 758.4,1548.2 795.8,1548.5 833.2,1548.5 870.6,1548.5 908.0,1548.5 945.4,1548.8 982.8,1548.8 1020.2,1548.8 1057.6,1548.8 1095.0,1548.8" fill="none" stroke="#dc8b00" stroke-width="5.2" stroke-linejoin="round" stroke-linecap="round"/>
<g stroke="#ffffff" stroke-width="6.0">
<path transform="translate(197.40,1017.23)" d="M0.00,-8.50L-8.50,8.50L8.50,8.50Z" fill="#dc8b00" stroke-linejoin="miter"/>
<path transform="translate(234.80,1018.96)" d="M0.00,-8.50L-8.50,8.50L8.50,8.50Z" fill="#dc8b00" stroke-linejoin="miter"/>
<path transform="translate(272.20,1034.86)" d="M0.00,-8.50L-8.50,8.50L8.50,8.50Z" fill="#dc8b00" stroke-linejoin="miter"/>
<path transform="translate(309.60,1110.01)" d="M0.00,-8.50L-8.50,8.50L8.50,8.50Z" fill="#dc8b00" stroke-linejoin="miter"/>
<path transform="translate(347.00,1250.20)" d="M0.00,-8.50L-8.50,8.50L8.50,8.50Z" fill="#dc8b00" stroke-linejoin="miter"/>
<path transform="translate(384.40,1382.29)" d="M0.00,-8.50L-8.50,8.50L8.50,8.50Z" fill="#dc8b00" stroke-linejoin="miter"/>
<path transform="translate(421.80,1467.27)" d="M0.00,-8.50L-8.50,8.50L8.50,8.50Z" fill="#dc8b00" stroke-linejoin="miter"/>
<path transform="translate(459.20,1503.69)" d="M0.00,-8.50L-8.50,8.50L8.50,8.50Z" fill="#dc8b00" stroke-linejoin="miter"/>
<path transform="translate(496.60,1528.55)" d="M0.00,-8.50L-8.50,8.50L8.50,8.50Z" fill="#dc8b00" stroke-linejoin="miter"/>
<path transform="translate(534.00,1537.80)" d="M0.00,-8.50L-8.50,8.50L8.50,8.50Z" fill="#dc8b00" stroke-linejoin="miter"/>
<path transform="translate(571.40,1539.82)" d="M0.00,-8.50L-8.50,8.50L8.50,8.50Z" fill="#dc8b00" stroke-linejoin="miter"/>
<path transform="translate(608.80,1543.58)" d="M0.00,-8.50L-8.50,8.50L8.50,8.50Z" fill="#dc8b00" stroke-linejoin="miter"/>
<path transform="translate(646.20,1544.45)" d="M0.00,-8.50L-8.50,8.50L8.50,8.50Z" fill="#dc8b00" stroke-linejoin="miter"/>
<path transform="translate(683.60,1545.61)" d="M0.00,-8.50L-8.50,8.50L8.50,8.50Z" fill="#dc8b00" stroke-linejoin="miter"/>
<path transform="translate(721.00,1547.05)" d="M0.00,-8.50L-8.50,8.50L8.50,8.50Z" fill="#dc8b00" stroke-linejoin="miter"/>
<path transform="translate(758.40,1548.21)" d="M0.00,-8.50L-8.50,8.50L8.50,8.50Z" fill="#dc8b00" stroke-linejoin="miter"/>
<path transform="translate(795.80,1548.50)" d="M0.00,-8.50L-8.50,8.50L8.50,8.50Z" fill="#dc8b00" stroke-linejoin="miter"/>
<path transform="translate(833.20,1548.50)" d="M0.00,-8.50L-8.50,8.50L8.50,8.50Z" fill="#dc8b00" stroke-linejoin="miter"/>
<path transform="translate(870.60,1548.50)" d="M0.00,-8.50L-8.50,8.50L8.50,8.50Z" fill="#dc8b00" stroke-linejoin="miter"/>
<path transform="translate(908.00,1548.50)" d="M0.00,-8.50L-8.50,8.50L8.50,8.50Z" fill="#dc8b00" stroke-linejoin="miter"/>
<path transform="translate(945.40,1548.78)" d="M0.00,-8.50L-8.50,8.50L8.50,8.50Z" fill="#dc8b00" stroke-linejoin="miter"/>
<path transform="translate(982.80,1548.78)" d="M0.00,-8.50L-8.50,8.50L8.50,8.50Z" fill="#dc8b00" stroke-linejoin="miter"/>
<path transform="translate(1020.20,1548.78)" d="M0.00,-8.50L-8.50,8.50L8.50,8.50Z" fill="#dc8b00" stroke-linejoin="miter"/>
<path transform="translate(1057.60,1548.78)" d="M0.00,-8.50L-8.50,8.50L8.50,8.50Z" fill="#dc8b00" stroke-linejoin="miter"/>
<path transform="translate(1095.00,1548.78)" d="M0.00,-8.50L-8.50,8.50L8.50,8.50Z" fill="#dc8b00" stroke-linejoin="miter"/>
</g>
</g>
<rect x="160" y="1010" width="935" height="607" fill="none" stroke="#cccccc" stroke-width="3.8"/>
<text transform="translate(133.5,1627.6) scale(1,1.04)" font-size="28" text-anchor="end">0.00</text>
<text transform="translate(133.5,1555.3) scale(1,1.04)" font-size="28" text-anchor="end">0.25</text>
<text transform="translate(133.5,1483.1) scale(1,1.04)" font-size="28" text-anchor="end">0.50</text>
<text transform="translate(133.5,1410.8) scale(1,1.04)" font-size="28" text-anchor="end">0.75</text>
<text transform="translate(133.5,1338.6) scale(1,1.04)" font-size="28" text-anchor="end">1.00</text>
<text transform="translate(133.5,1266.3) scale(1,1.04)" font-size="28" text-anchor="end">1.25</text>
<text transform="translate(133.5,1194.0) scale(1,1.04)" font-size="28" text-anchor="end">1.50</text>
<text transform="translate(133.5,1121.8) scale(1,1.04)" font-size="28" text-anchor="end">1.75</text>
<text transform="translate(133.5,1049.5) scale(1,1.04)" font-size="28" text-anchor="end">2.00</text>
<text transform="translate(160.0,1664.0) scale(1,1.04)" font-size="28" text-anchor="middle">0</text>
<text transform="translate(347.0,1664.0) scale(1,1.04)" font-size="28" text-anchor="middle">5</text>
<text transform="translate(534.0,1664.0) scale(1,1.04)" font-size="28" text-anchor="middle">10</text>
<text transform="translate(721.0,1664.0) scale(1,1.04)" font-size="28" text-anchor="middle">15</text>
<text transform="translate(908.0,1664.0) scale(1,1.04)" font-size="28" text-anchor="middle">20</text>
<text transform="translate(1095.0,1664.0) scale(1,1.04)" font-size="28" text-anchor="middle">25</text>
<text transform="translate(628.5,1705.0) scale(1,1.04)" font-size="33.3" text-anchor="middle">Iterations</text>
<text transform="translate(64.0,1317.0) rotate(-90) scale(1,1.04)" font-size="33.3" text-anchor="middle">Integrated_nbll</text>
<rect x="764.8" y="1024.7" width="316.3" height="325.7" rx="5.6" ry="5.6" fill="#ffffff" fill-opacity="0.8" stroke="#cccccc" stroke-width="2.3" stroke-opacity="0.9"/>
<line x1="775.0" y1="1045.7" x2="831.0" y2="1045.7" stroke="#67cf66" stroke-width="5.2" stroke-linecap="round"/>
<g stroke="#ffffff" stroke-width="6.0"><path transform="translate(803.00,1045.70)" d="M0.00,-8.50L-8.50,8.50L8.50,8.50Z" fill="#67cf66" stroke-linejoin="miter"/></g>
<text transform="translate(852.5,1055.9) scale(1,1.04)" font-size="28">NbAFL</text>
<line x1="775.0" y1="1085.5" x2="831.0" y2="1085.5" stroke="#048457" stroke-width="5.2" stroke-linecap="round"/>
<g stroke="#ffffff" stroke-width="6.0"><path transform="translate(803.00,1085.45)" d="M-8.50,-8.50L8.50,-8.50L8.50,8.50L-8.50,8.50Z" fill="#048457" stroke-linejoin="miter"/></g>
<text transform="translate(852.5,1095.7) scale(1,1.04)" font-size="28">ROW-DP(Std)</text>
<line x1="775.0" y1="1125.2" x2="831.0" y2="1125.2" stroke="#e8c41f" stroke-width="5.2" stroke-linecap="round"/>
<g stroke="#ffffff" stroke-width="6.0"><path transform="translate(803.00,1125.20)" d="M0.00,-8.50L-7.36,-4.25L-7.36,4.25L-0.00,8.50L7.36,4.25L7.36,-4.25Z" fill="#e8c41f" stroke-linejoin="miter"/></g>
<text transform="translate(852.5,1135.4) scale(1,1.04)" font-size="28">ROW-DP(Var)</text>
<line x1="775.0" y1="1165.0" x2="831.0" y2="1165.0" stroke="#b4a4ca" stroke-width="5.2" stroke-linecap="round"/>
<g stroke="#ffffff" stroke-width="6.0"><circle cx="803.00" cy="1164.95" r="8.50" fill="#b4a4ca"/></g>
<text transform="translate(852.5,1175.2) scale(1,1.04)" font-size="28">ROW-DP(Range)</text>
<line x1="775.0" y1="1204.7" x2="831.0" y2="1204.7" stroke="#fde2cf" stroke-width="5.2" stroke-linecap="round"/>
<g stroke="#ffffff" stroke-width="6.0"><circle cx="803.00" cy="1204.70" r="8.50" fill="#fde2cf"/></g>
<text transform="translate(852.5,1214.9) scale(1,1.04)" font-size="28">ROW-DP(MAE)</text>
<line x1="775.0" y1="1244.5" x2="831.0" y2="1244.5" stroke="#eb661f" stroke-width="5.2" stroke-linecap="round"/>
<g stroke="#ffffff" stroke-width="6.0"><path transform="translate(803.00,1244.45)" d="M0.00,-8.50L-8.08,-2.63L-5.00,6.88L5.00,6.88L8.08,-2.63Z" fill="#eb661f" stroke-linejoin="miter"/></g>
<text transform="translate(852.5,1254.7) scale(1,1.04)" font-size="28">ROW-DP(IQR)</text>
<line x1="775.0" y1="1284.2" x2="831.0" y2="1284.2" stroke="#720099" stroke-width="5.2" stroke-linecap="round"/>
<g stroke="#ffffff" stroke-width="6.0"><path transform="translate(803.00,1284.20)" d="M0.00,-12.02L7.21,0.00L0.00,12.02L-7.21,0.00Z" fill="#720099" stroke-linejoin="miter"/></g>
<text transform="translate(852.5,1294.4) scale(1,1.04)" font-size="28">LS-ADP</text>
<line x1="775.0" y1="1324.0" x2="831.0" y2="1324.0" stroke="#dc8b00" stroke-width="5.2" stroke-linecap="round"/>
<g stroke="#ffffff" stroke-width="6.0"><path transform="translate(803.00,1323.95)" d="M0.00,-8.50L-8.50,8.50L8.50,8.50Z" fill="#dc8b00" stroke-linejoin="miter"/></g>
<text transform="translate(852.5,1334.2) scale(1,1.04)" font-size="28">Nopd</text>
<path d="M1561.00,1010 V1617 M1748.00,1010 V1617 M1935.00,1010 V1617 M2122.00,1010 V1617 M1374,1495.60 H2309 M1374,1374.20 H2309 M1374,1252.80 H2309 M1374,1131.40 H2309" stroke="#cccccc" stroke-width="2.4" fill="none"/>
<g clip-path="url(#c11)">
<polyline points="1411.4,1076.2 1448.8,1076.2 1486.2,1077.4 1523.6,1087.7 1561.0,1134.4 1598.4,1222.5 1635.8,1331.7 1673.2,1398.5 1710.6,1441.0 1748.0,1465.2 1785.4,1474.4 1822.8,1480.4 1860.2,1490.7 1897.6,1496.2 1935.0,1507.7 1972.4,1513.8 2009.8,1513.8 2047.2,1513.8 2084.6,1513.8 2122.0,1513.8 2159.4,1513.8 2196.8,1512.0 2234.2,1513.8 2271.6,1519.9 2309.0,1519.9" fill="none" stroke="#67cf66" stroke-width="5.2" stroke-linejoin="round" stroke-linecap="round"/>
<g stroke="#ffffff" stroke-width="6.0">
<path transform="translate(1411.40,1076.16)" d="M0.00,-8.50L-8.50,8.50L8.50,8.50Z" fill="#67cf66" stroke-linejoin="miter"/>
<path transform="translate(1448.80,1076.16)" d="M0.00,-8.50L-8.50,8.50L8.50,8.50Z" fill="#67cf66" stroke-linejoin="miter"/>
<path transform="translate(1486.20,1077.38)" d="M0.00,-8.50L-8.50,8.50L8.50,8.50Z" fill="#67cf66" stroke-linejoin="miter"/>
<path transform="translate(1523.60,1087.70)" d="M0.00,-8.50L-8.50,8.50L8.50,8.50Z" fill="#67cf66" stroke-linejoin="miter"/>
<path transform="translate(1561.00,1134.44)" d="M0.00,-8.50L-8.50,8.50L8.50,8.50Z" fill="#67cf66" stroke-linejoin="miter"/>
<path transform="translate(1598.40,1222.45)" d="M0.00,-8.50L-8.50,8.50L8.50,8.50Z" fill="#67cf66" stroke-linejoin="miter"/>
<path transform="translate(1635.80,1331.71)" d="M0.00,-8.50L-8.50,8.50L8.50,8.50Z" fill="#67cf66" stroke-linejoin="miter"/>
<path transform="translate(1673.20,1398.48)" d="M0.00,-8.50L-8.50,8.50L8.50,8.50Z" fill="#67cf66" stroke-linejoin="miter"/>
<path transform="translate(1710.60,1440.97)" d="M0.00,-8.50L-8.50,8.50L8.50,8.50Z" fill="#67cf66" stroke-linejoin="miter"/>
<path transform="translate(1748.00,1465.25)" d="M0.00,-8.50L-8.50,8.50L8.50,8.50Z" fill="#67cf66" stroke-linejoin="miter"/>
<path transform="translate(1785.40,1474.36)" d="M0.00,-8.50L-8.50,8.50L8.50,8.50Z" fill="#67cf66" stroke-linejoin="miter"/>
<path transform="translate(1822.80,1480.42)" d="M0.00,-8.50L-8.50,8.50L8.50,8.50Z" fill="#67cf66" stroke-linejoin="miter"/>
<path transform="translate(1860.20,1490.74)" d="M0.00,-8.50L-8.50,8.50L8.50,8.50Z" fill="#67cf66" stroke-linejoin="miter"/>
<path transform="translate(1897.60,1496.21)" d="M0.00,-8.50L-8.50,8.50L8.50,8.50Z" fill="#67cf66" stroke-linejoin="miter"/>
<path transform="translate(1935.00,1507.74)" d="M0.00,-8.50L-8.50,8.50L8.50,8.50Z" fill="#67cf66" stroke-linejoin="miter"/>
<path transform="translate(1972.40,1513.81)" d="M0.00,-8.50L-8.50,8.50L8.50,8.50Z" fill="#67cf66" stroke-linejoin="miter"/>
<path transform="translate(2009.80,1513.81)" d="M0.00,-8.50L-8.50,8.50L8.50,8.50Z" fill="#67cf66" stroke-linejoin="miter"/>
<path transform="translate(2047.20,1513.81)" d="M0.00,-8.50L-8.50,8.50L8.50,8.50Z" fill="#67cf66" stroke-linejoin="miter"/>
<path transform="translate(2084.60,1513.81)" d="M0.00,-8.50L-8.50,8.50L8.50,8.50Z" fill="#67cf66" stroke-linejoin="miter"/>
<path transform="translate(2122.00,1513.81)" d="M0.00,-8.50L-8.50,8.50L8.50,8.50Z" fill="#67cf66" stroke-linejoin="miter"/>
<path transform="translate(2159.40,1513.81)" d="M0.00,-8.50L-8.50,8.50L8.50,8.50Z" fill="#67cf66" stroke-linejoin="miter"/>
<path transform="translate(2196.80,1511.99)" d="M0.00,-8.50L-8.50,8.50L8.50,8.50Z" fill="#67cf66" stroke-linejoin="miter"/>
<path transform="translate(2234.20,1513.81)" d="M0.00,-8.50L-8.50,8.50L8.50,8.50Z" fill="#67cf66" stroke-linejoin="miter"/>
<path transform="translate(2271.60,1519.88)" d="M0.00,-8.50L-8.50,8.50L8.50,8.50Z" fill="#67cf66" stroke-linejoin="miter"/>
<path transform="translate(2309.00,1519.88)" d="M0.00,-8.50L-8.50,8.50L8.50,8.50Z" fill="#67cf66" stroke-linejoin="miter"/>
</g>
<polyline points="1411.4,1076.2 1448.8,1076.2 1486.2,1077.4 1523.6,1087.7 1561.0,1134.4 1598.4,1222.5 1635.8,1331.7 1673.2,1392.4 1710.6,1441.0 1748.0,1471.3 1785.4,1489.5 1822.8,1495.6 1860.2,1507.7 1897.6,1507.7 1935.0,1507.7 1972.4,1499.8 2009.8,1513.8 2047.2,1488.9 2084.6,1507.7 2122.0,1507.7 2159.4,1513.8 2196.8,1519.9 2234.2,1519.9 2271.6,1519.9 2309.0,1526.0" fill="none" stroke="#048457" stroke-width="5.2" stroke-linejoin="round" stroke-linecap="round"/>
<g stroke="#ffffff" stroke-width="6.0">
<path transform="translate(1411.40,1076.16)" d="M-8.50,-8.50L8.50,-8.50L8.50,8.50L-8.50,8.50Z" fill="#048457" stroke-linejoin="miter"/>
<path transform="translate(1448.80,1076.16)" d="M-8.50,-8.50L8.50,-8.50L8.50,8.50L-8.50,8.50Z" fill="#048457" stroke-linejoin="miter"/>
<path transform="translate(1486.20,1077.38)" d="M-8.50,-8.50L8.50,-8.50L8.50,8.50L-8.50,8.50Z" fill="#048457" stroke-linejoin="miter"/>
<path transform="translate(1523.60,1087.70)" d="M-8.50,-8.50L8.50,-8.50L8.50,8.50L-8.50,8.50Z" fill="#048457" stroke-linejoin="miter"/>
<path transform="translate(1561.00,1134.44)" d="M-8.50,-8.50L8.50,-8.50L8.50,8.50L-8.50,8.50Z" fill="#048457" stroke-linejoin="miter"/>
<path transform="translate(1598.40,1222.45)" d="M-8.50,-8.50L8.50,-8.50L8.50,8.50L-8.50,8.50Z" fill="#048457" stroke-linejoin="miter"/>
<path transform="translate(1635.80,1331.71)" d="M-8.50,-8.50L8.50,-8.50L8.50,8.50L-8.50,8.50Z" fill="#048457" stroke-linejoin="miter"/>
<path transform="translate(1673.20,1392.41)" d="M-8.50,-8.50L8.50,-8.50L8.50,8.50L-8.50,8.50Z" fill="#048457" stroke-linejoin="miter"/>
<path transform="translate(1710.60,1440.97)" d="M-8.50,-8.50L8.50,-8.50L8.50,8.50L-8.50,8.50Z" fill="#048457" stroke-linejoin="miter"/>
<path transform="translate(1748.00,1471.32)" d="M-8.50,-8.50L8.50,-8.50L8.50,8.50L-8.50,8.50Z" fill="#048457" stroke-linejoin="miter"/>
<path transform="translate(1785.40,1489.53)" d="M-8.50,-8.50L8.50,-8.50L8.50,8.50L-8.50,8.50Z" fill="#048457" stroke-linejoin="miter"/>
<path transform="translate(1822.80,1495.60)" d="M-8.50,-8.50L8.50,-8.50L8.50,8.50L-8.50,8.50Z" fill="#048457" stroke-linejoin="miter"/>
<path transform="translate(1860.20,1507.74)" d="M-8.50,-8.50L8.50,-8.50L8.50,8.50L-8.50,8.50Z" fill="#048457" stroke-linejoin="miter"/>
<path transform="translate(1897.60,1507.74)" d="M-8.50,-8.50L8.50,-8.50L8.50,8.50L-8.50,8.50Z" fill="#048457" stroke-linejoin="miter"/>
<path transform="translate(1935.00,1507.74)" d="M-8.50,-8.50L8.50,-8.50L8.50,8.50L-8.50,8.50Z" fill="#048457" stroke-linejoin="miter"/>
<path transform="translate(1972.40,1499.85)" d="M-8.50,-8.50L8.50,-8.50L8.50,8.50L-8.50,8.50Z" fill="#048457" stroke-linejoin="miter"/>
<path transform="translate(2009.80,1513.81)" d="M-8.50,-8.50L8.50,-8.50L8.50,8.50L-8.50,8.50Z" fill="#048457" stroke-linejoin="miter"/>
<path transform="translate(2047.20,1488.92)" d="M-8.50,-8.50L8.50,-8.50L8.50,8.50L-8.50,8.50Z" fill="#048457" stroke-linejoin="miter"/>
<path transform="translate(2084.60,1507.74)" d="M-8.50,-8.50L8.50,-8.50L8.50,8.50L-8.50,8.50Z" fill="#048457" stroke-linejoin="miter"/>
<path transform="translate(2122.00,1507.74)" d="M-8.50,-8.50L8.50,-8.50L8.50,8.50L-8.50,8.50Z" fill="#048457" stroke-linejoin="miter"/>
<path transform="translate(2159.40,1513.81)" d="M-8.50,-8.50L8.50,-8.50L8.50,8.50L-8.50,8.50Z" fill="#048457" stroke-linejoin="miter"/>
<path transform="translate(2196.80,1519.88)" d="M-8.50,-8.50L8.50,-8.50L8.50,8.50L-8.50,8.50Z" fill="#048457" stroke-linejoin="miter"/>
<path transform="translate(2234.20,1519.88)" d="M-8.50,-8.50L8.50,-8.50L8.50,8.50L-8.50,8.50Z" fill="#048457" stroke-linejoin="miter"/>
<path transform="translate(2271.60,1519.88)" d="M-8.50,-8.50L8.50,-8.50L8.50,8.50L-8.50,8.50Z" fill="#048457" stroke-linejoin="miter"/>
<path transform="translate(2309.00,1525.95)" d="M-8.50,-8.50L8.50,-8.50L8.50,8.50L-8.50,8.50Z" fill="#048457" stroke-linejoin="miter"/>
</g>
<polyline points="1411.4,1076.2 1448.8,1076.2 1486.2,1077.4 1523.6,1087.7 1561.0,1131.4 1598.4,1210.3 1635.8,1305.6 1673.2,1380.3 1710.6,1434.9 1748.0,1465.2 1785.4,1489.5 1822.8,1507.7 1860.2,1507.7 1897.6,1507.7 1935.0,1527.2 1972.4,1519.9 2009.8,1513.8 2047.2,1507.7 2084.6,1501.7 2122.0,1507.7 2159.4,1513.8 2196.8,1513.8 2234.2,1519.9 2271.6,1513.8 2309.0,1519.9" fill="none" stroke="#e8c41f" stroke-width="5.2" stroke-linejoin="round" stroke-linecap="round"/>
<g stroke="#ffffff" stroke-width="6.0">
<path transform="translate(1411.40,1076.16)" d="M0.00,-8.50L-7.36,-4.25L-7.36,4.25L-0.00,8.50L7.36,4.25L7.36,-4.25Z" fill="#e8c41f" stroke-linejoin="miter"/>
<path transform="translate(1448.80,1076.16)" d="M0.00,-8.50L-7.36,-4.25L-7.36,4.25L-0.00,8.50L7.36,4.25L7.36,-4.25Z" fill="#e8c41f" stroke-linejoin="miter"/>
<path transform="translate(1486.20,1077.38)" d="M0.00,-8.50L-7.36,-4.25L-7.36,4.25L-0.00,8.50L7.36,4.25L7.36,-4.25Z" fill="#e8c41f" stroke-linejoin="miter"/>
<path transform="translate(1523.60,1087.70)" d="M0.00,-8.50L-7.36,-4.25L-7.36,4.25L-0.00,8.50L7.36,4.25L7.36,-4.25Z" fill="#e8c41f" stroke-linejoin="miter"/>
<path transform="translate(1561.00,1131.40)" d="M0.00,-8.50L-7.36,-4.25L-7.36,4.25L-0.00,8.50L7.36,4.25L7.36,-4.25Z" fill="#e8c41f" stroke-linejoin="miter"/>
<path transform="translate(1598.40,1210.31)" d="M0.00,-8.50L-7.36,-4.25L-7.36,4.25L-0.00,8.50L7.36,4.25L7.36,-4.25Z" fill="#e8c41f" stroke-linejoin="miter"/>
<path transform="translate(1635.80,1305.61)" d="M0.00,-8.50L-7.36,-4.25L-7.36,4.25L-0.00,8.50L7.36,4.25L7.36,-4.25Z" fill="#e8c41f" stroke-linejoin="miter"/>
<path transform="translate(1673.20,1380.27)" d="M0.00,-8.50L-7.36,-4.25L-7.36,4.25L-0.00,8.50L7.36,4.25L7.36,-4.25Z" fill="#e8c41f" stroke-linejoin="miter"/>
<path transform="translate(1710.60,1434.90)" d="M0.00,-8.50L-7.36,-4.25L-7.36,4.25L-0.00,8.50L7.36,4.25L7.36,-4.25Z" fill="#e8c41f" stroke-linejoin="miter"/>
<path transform="translate(1748.00,1465.25)" d="M0.00,-8.50L-7.36,-4.25L-7.36,4.25L-0.00,8.50L7.36,4.25L7.36,-4.25Z" fill="#e8c41f" stroke-linejoin="miter"/>
<path transform="translate(1785.40,1489.53)" d="M0.00,-8.50L-7.36,-4.25L-7.36,4.25L-0.00,8.50L7.36,4.25L7.36,-4.25Z" fill="#e8c41f" stroke-linejoin="miter"/>
<path transform="translate(1822.80,1507.74)" d="M0.00,-8.50L-7.36,-4.25L-7.36,4.25L-0.00,8.50L7.36,4.25L7.36,-4.25Z" fill="#e8c41f" stroke-linejoin="miter"/>
<path transform="translate(1860.20,1507.74)" d="M0.00,-8.50L-7.36,-4.25L-7.36,4.25L-0.00,8.50L7.36,4.25L7.36,-4.25Z" fill="#e8c41f" stroke-linejoin="miter"/>
<path transform="translate(1897.60,1507.74)" d="M0.00,-8.50L-7.36,-4.25L-7.36,4.25L-0.00,8.50L7.36,4.25L7.36,-4.25Z" fill="#e8c41f" stroke-linejoin="miter"/>
<path transform="translate(1935.00,1527.16)" d="M0.00,-8.50L-7.36,-4.25L-7.36,4.25L-0.00,8.50L7.36,4.25L7.36,-4.25Z" fill="#e8c41f" stroke-linejoin="miter"/>
<path transform="translate(1972.40,1519.88)" d="M0.00,-8.50L-7.36,-4.25L-7.36,4.25L-0.00,8.50L7.36,4.25L7.36,-4.25Z" fill="#e8c41f" stroke-linejoin="miter"/>
<path transform="translate(2009.80,1513.81)" d="M0.00,-8.50L-7.36,-4.25L-7.36,4.25L-0.00,8.50L7.36,4.25L7.36,-4.25Z" fill="#e8c41f" stroke-linejoin="miter"/>
<path transform="translate(2047.20,1507.74)" d="M0.00,-8.50L-7.36,-4.25L-7.36,4.25L-0.00,8.50L7.36,4.25L7.36,-4.25Z" fill="#e8c41f" stroke-linejoin="miter"/>
<path transform="translate(2084.60,1501.67)" d="M0.00,-8.50L-7.36,-4.25L-7.36,4.25L-0.00,8.50L7.36,4.25L7.36,-4.25Z" fill="#e8c41f" stroke-linejoin="miter"/>
<path transform="translate(2122.00,1507.74)" d="M0.00,-8.50L-7.36,-4.25L-7.36,4.25L-0.00,8.50L7.36,4.25L7.36,-4.25Z" fill="#e8c41f" stroke-linejoin="miter"/>
<path transform="translate(2159.40,1513.81)" d="M0.00,-8.50L-7.36,-4.25L-7.36,4.25L-0.00,8.50L7.36,4.25L7.36,-4.25Z" fill="#e8c41f" stroke-linejoin="miter"/>
<path transform="translate(2196.80,1513.81)" d="M0.00,-8.50L-7.36,-4.25L-7.36,4.25L-0.00,8.50L7.36,4.25L7.36,-4.25Z" fill="#e8c41f" stroke-linejoin="miter"/>
<path transform="translate(2234.20,1519.88)" d="M0.00,-8.50L-7.36,-4.25L-7.36,4.25L-0.00,8.50L7.36,4.25L7.36,-4.25Z" fill="#e8c41f" stroke-linejoin="miter"/>
<path transform="translate(2271.60,1513.81)" d="M0.00,-8.50L-7.36,-4.25L-7.36,4.25L-0.00,8.50L7.36,4.25L7.36,-4.25Z" fill="#e8c41f" stroke-linejoin="miter"/>
<path transform="translate(2309.00,1519.88)" d="M0.00,-8.50L-7.36,-4.25L-7.36,4.25L-0.00,8.50L7.36,4.25L7.36,-4.25Z" fill="#e8c41f" stroke-linejoin="miter"/>
</g>
<polyline points="1411.4,1076.2 1448.8,1076.2 1486.2,1077.4 1523.6,1085.9 1561.0,1120.5 1598.4,1213.3 1635.8,1268.0 1673.2,1368.1 1710.6,1416.7 1748.0,1451.3 1785.4,1483.5 1822.8,1495.6 1860.2,1532.0 1897.6,1519.9 1935.0,1519.9 1972.4,1532.0 2009.8,1535.1 2047.2,1519.9 2084.6,1519.9 2122.0,1519.9 2159.4,1519.9 2196.8,1519.9 2234.2,1519.9 2271.6,1526.0 2309.0,1526.0" fill="none" stroke="#b4a4ca" stroke-width="5.2" stroke-linejoin="round" stroke-linecap="round"/>
<g stroke="#ffffff" stroke-width="6.0">
<circle cx="1411.40" cy="1076.16" r="8.50" fill="#b4a4ca"/>
<circle cx="1448.80" cy="1076.16" r="8.50" fill="#b4a4ca"/>
<circle cx="1486.20" cy="1077.38" r="8.50" fill="#b4a4ca"/>
<circle cx="1523.60" cy="1085.88" r="8.50" fill="#b4a4ca"/>
<circle cx="1561.00" cy="1120.47" r="8.50" fill="#b4a4ca"/>
<circle cx="1598.40" cy="1213.35" r="8.50" fill="#b4a4ca"/>
<circle cx="1635.80" cy="1267.97" r="8.50" fill="#b4a4ca"/>
<circle cx="1673.20" cy="1368.13" r="8.50" fill="#b4a4ca"/>
<circle cx="1710.60" cy="1416.69" r="8.50" fill="#b4a4ca"/>
<circle cx="1748.00" cy="1451.29" r="8.50" fill="#b4a4ca"/>
<circle cx="1785.40" cy="1483.46" r="8.50" fill="#b4a4ca"/>
<circle cx="1822.80" cy="1495.60" r="8.50" fill="#b4a4ca"/>
<circle cx="1860.20" cy="1532.02" r="8.50" fill="#b4a4ca"/>
<circle cx="1897.60" cy="1519.88" r="8.50" fill="#b4a4ca"/>
<circle cx="1935.00" cy="1519.88" r="8.50" fill="#b4a4ca"/>
<circle cx="1972.40" cy="1532.02" r="8.50" fill="#b4a4ca"/>
<circle cx="2009.80" cy="1535.06" r="8.50" fill="#b4a4ca"/>
<circle cx="2047.20" cy="1519.88" r="8.50" fill="#b4a4ca"/>
<circle cx="2084.60" cy="1519.88" r="8.50" fill="#b4a4ca"/>
<circle cx="2122.00" cy="1519.88" r="8.50" fill="#b4a4ca"/>
<circle cx="2159.40" cy="1519.88" r="8.50" fill="#b4a4ca"/>
<circle cx="2196.80" cy="1519.88" r="8.50" fill="#b4a4ca"/>
<circle cx="2234.20" cy="1519.88" r="8.50" fill="#b4a4ca"/>
<circle cx="2271.60" cy="1525.95" r="8.50" fill="#b4a4ca"/>
<circle cx="2309.00" cy="1525.95" r="8.50" fill="#b4a4ca"/>
</g>
<polyline points="1411.4,1076.2 1448.8,1076.2 1486.2,1077.4 1523.6,1087.7 1561.0,1134.4 1598.4,1212.7 1635.8,1328.7 1673.2,1376.0 1710.6,1433.7 1748.0,1471.3 1785.4,1487.1 1822.8,1492.0 1860.2,1501.7 1897.6,1481.0 1935.0,1538.1 1972.4,1513.8 2009.8,1507.7 2047.2,1507.7 2084.6,1513.8 2122.0,1504.7 2159.4,1513.8 2196.8,1513.8 2234.2,1519.9 2271.6,1513.8 2309.0,1516.8" fill="none" stroke="#fde2cf" stroke-width="5.2" stroke-linejoin="round" stroke-linecap="round"/>
<g stroke="#ffffff" stroke-width="6.0">
<circle cx="1411.40" cy="1076.16" r="8.50" fill="#fde2cf"/>
<circle cx="1448.80" cy="1076.16" r="8.50" fill="#fde2cf"/>
<circle cx="1486.20" cy="1077.38" r="8.50" fill="#fde2cf"/>
<circle cx="1523.60" cy="1087.70" r="8.50" fill="#fde2cf"/>
<circle cx="1561.00" cy="1134.44" r="8.50" fill="#fde2cf"/>
<circle cx="1598.40" cy="1212.74" r="8.50" fill="#fde2cf"/>
<circle cx="1635.80" cy="1328.68" r="8.50" fill="#fde2cf"/>
<circle cx="1673.20" cy="1376.02" r="8.50" fill="#fde2cf"/>
<circle cx="1710.60" cy="1433.69" r="8.50" fill="#fde2cf"/>
<circle cx="1748.00" cy="1471.32" r="8.50" fill="#fde2cf"/>
<circle cx="1785.40" cy="1487.10" r="8.50" fill="#fde2cf"/>
<circle cx="1822.80" cy="1491.96" r="8.50" fill="#fde2cf"/>
<circle cx="1860.20" cy="1501.67" r="8.50" fill="#fde2cf"/>
<circle cx="1897.60" cy="1481.03" r="8.50" fill="#fde2cf"/>
<circle cx="1935.00" cy="1538.09" r="8.50" fill="#fde2cf"/>
<circle cx="1972.40" cy="1513.81" r="8.50" fill="#fde2cf"/>
<circle cx="2009.80" cy="1507.74" r="8.50" fill="#fde2cf"/>
<circle cx="2047.20" cy="1507.74" r="8.50" fill="#fde2cf"/>
<circle cx="2084.60" cy="1513.81" r="8.50" fill="#fde2cf"/>
<circle cx="2122.00" cy="1504.70" r="8.50" fill="#fde2cf"/>
<circle cx="2159.40" cy="1513.81" r="8.50" fill="#fde2cf"/>
<circle cx="2196.80" cy="1513.81" r="8.50" fill="#fde2cf"/>
<circle cx="2234.20" cy="1519.88" r="8.50" fill="#fde2cf"/>
<circle cx="2271.60" cy="1513.81" r="8.50" fill="#fde2cf"/>
<circle cx="2309.00" cy="1516.85" r="8.50" fill="#fde2cf"/>
</g>
<polyline points="1411.4,1076.2 1448.8,1076.2 1486.2,1077.4 1523.6,1087.7 1561.0,1131.4 1598.4,1222.5 1635.8,1325.0 1673.2,1398.5 1710.6,1443.4 1748.0,1479.2 1785.4,1495.6 1822.8,1504.7 1860.2,1507.7 1897.6,1497.4 1935.0,1507.7 1972.4,1538.1 2009.8,1507.7 2047.2,1503.5 2084.6,1513.8 2122.0,1513.8 2159.4,1519.9 2196.8,1519.9 2234.2,1526.0 2271.6,1542.3 2309.0,1526.0" fill="none" stroke="#eb661f" stroke-width="5.2" stroke-linejoin="round" stroke-linecap="round"/>
<g stroke="#ffffff" stroke-width="6.0">
<path transform="translate(1411.40,1076.16)" d="M0.00,-8.50L-8.08,-2.63L-5.00,6.88L5.00,6.88L8.08,-2.63Z" fill="#eb661f" stroke-linejoin="miter"/>
<path transform="translate(1448.80,1076.16)" d="M0.00,-8.50L-8.08,-2.63L-5.00,6.88L5.00,6.88L8.08,-2.63Z" fill="#eb661f" stroke-linejoin="miter"/>
<path transform="translate(1486.20,1077.38)" d="M0.00,-8.50L-8.08,-2.63L-5.00,6.88L5.00,6.88L8.08,-2.63Z" fill="#eb661f" stroke-linejoin="miter"/>
<path transform="translate(1523.60,1087.70)" d="M0.00,-8.50L-8.08,-2.63L-5.00,6.88L5.00,6.88L8.08,-2.63Z" fill="#eb661f" stroke-linejoin="miter"/>
<path transform="translate(1561.00,1131.40)" d="M0.00,-8.50L-8.08,-2.63L-5.00,6.88L5.00,6.88L8.08,-2.63Z" fill="#eb661f" stroke-linejoin="miter"/>
<path transform="translate(1598.40,1222.45)" d="M0.00,-8.50L-8.08,-2.63L-5.00,6.88L5.00,6.88L8.08,-2.63Z" fill="#eb661f" stroke-linejoin="miter"/>
<path transform="translate(1635.80,1325.03)" d="M0.00,-8.50L-8.08,-2.63L-5.00,6.88L5.00,6.88L8.08,-2.63Z" fill="#eb661f" stroke-linejoin="miter"/>
<path transform="translate(1673.20,1398.48)" d="M0.00,-8.50L-8.08,-2.63L-5.00,6.88L5.00,6.88L8.08,-2.63Z" fill="#eb661f" stroke-linejoin="miter"/>
<path transform="translate(1710.60,1443.40)" d="M0.00,-8.50L-8.08,-2.63L-5.00,6.88L5.00,6.88L8.08,-2.63Z" fill="#eb661f" stroke-linejoin="miter"/>
<path transform="translate(1748.00,1479.21)" d="M0.00,-8.50L-8.08,-2.63L-5.00,6.88L5.00,6.88L8.08,-2.63Z" fill="#eb661f" stroke-linejoin="miter"/>
<path transform="translate(1785.40,1495.60)" d="M0.00,-8.50L-8.08,-2.63L-5.00,6.88L5.00,6.88L8.08,-2.63Z" fill="#eb661f" stroke-linejoin="miter"/>
<path transform="translate(1822.80,1504.70)" d="M0.00,-8.50L-8.08,-2.63L-5.00,6.88L5.00,6.88L8.08,-2.63Z" fill="#eb661f" stroke-linejoin="miter"/>
<path transform="translate(1860.20,1507.74)" d="M0.00,-8.50L-8.08,-2.63L-5.00,6.88L5.00,6.88L8.08,-2.63Z" fill="#eb661f" stroke-linejoin="miter"/>
<path transform="translate(1897.60,1497.42)" d="M0.00,-8.50L-8.08,-2.63L-5.00,6.88L5.00,6.88L8.08,-2.63Z" fill="#eb661f" stroke-linejoin="miter"/>
<path transform="translate(1935.00,1507.74)" d="M0.00,-8.50L-8.08,-2.63L-5.00,6.88L5.00,6.88L8.08,-2.63Z" fill="#eb661f" stroke-linejoin="miter"/>
<path transform="translate(1972.40,1538.09)" d="M0.00,-8.50L-8.08,-2.63L-5.00,6.88L5.00,6.88L8.08,-2.63Z" fill="#eb661f" stroke-linejoin="miter"/>
<path transform="translate(2009.80,1507.74)" d="M0.00,-8.50L-8.08,-2.63L-5.00,6.88L5.00,6.88L8.08,-2.63Z" fill="#eb661f" stroke-linejoin="miter"/>
<path transform="translate(2047.20,1503.49)" d="M0.00,-8.50L-8.08,-2.63L-5.00,6.88L5.00,6.88L8.08,-2.63Z" fill="#eb661f" stroke-linejoin="miter"/>
<path transform="translate(2084.60,1513.81)" d="M0.00,-8.50L-8.08,-2.63L-5.00,6.88L5.00,6.88L8.08,-2.63Z" fill="#eb661f" stroke-linejoin="miter"/>
<path transform="translate(2122.00,1513.81)" d="M0.00,-8.50L-8.08,-2.63L-5.00,6.88L5.00,6.88L8.08,-2.63Z" fill="#eb661f" stroke-linejoin="miter"/>
<path transform="translate(2159.40,1519.88)" d="M0.00,-8.50L-8.08,-2.63L-5.00,6.88L5.00,6.88L8.08,-2.63Z" fill="#eb661f" stroke-linejoin="miter"/>
<path transform="translate(2196.80,1519.88)" d="M0.00,-8.50L-8.08,-2.63L-5.00,6.88L5.00,6.88L8.08,-2.63Z" fill="#eb661f" stroke-linejoin="miter"/>
<path transform="translate(2234.20,1525.95)" d="M0.00,-8.50L-8.08,-2.63L-5.00,6.88L5.00,6.88L8.08,-2.63Z" fill="#eb661f" stroke-linejoin="miter"/>
<path transform="translate(2271.60,1542.34)" d="M0.00,-8.50L-8.08,-2.63L-5.00,6.88L5.00,6.88L8.08,-2.63Z" fill="#eb661f" stroke-linejoin="miter"/>
<path transform="translate(2309.00,1525.95)" d="M0.00,-8.50L-8.08,-2.63L-5.00,6.88L5.00,6.88L8.08,-2.63Z" fill="#eb661f" stroke-linejoin="miter"/>
</g>
<polyline points="1411.4,1076.2 1448.8,1076.2 1486.2,1078.0 1523.6,1087.1 1561.0,1139.9 1598.4,1234.0 1635.8,1352.3 1673.2,1410.6 1710.6,1467.1 1748.0,1492.0 1785.4,1493.8 1822.8,1502.9 1860.2,1488.3 1897.6,1513.2 1935.0,1510.8 1972.4,1513.2 2009.8,1507.7 2047.2,1516.8 2084.6,1539.3 2122.0,1519.3 2159.4,1510.8 2196.8,1521.1 2234.2,1517.5 2271.6,1508.3 2309.0,1512.0" fill="none" stroke="#720099" stroke-width="5.2" stroke-linejoin="round" stroke-linecap="round"/>
<g stroke="#ffffff" stroke-width="6.0">
<path transform="translate(1411.40,1076.16)" d="M0.00,-12.02L7.21,0.00L0.00,12.02L-7.21,0.00Z" fill="#720099" stroke-linejoin="miter"/>
<path transform="translate(1448.80,1076.16)" d="M0.00,-12.02L7.21,0.00L0.00,12.02L-7.21,0.00Z" fill="#720099" stroke-linejoin="miter"/>
<path transform="translate(1486.20,1077.98)" d="M0.00,-12.02L7.21,0.00L0.00,12.02L-7.21,0.00Z" fill="#720099" stroke-linejoin="miter"/>
<path transform="translate(1523.60,1087.09)" d="M0.00,-12.02L7.21,0.00L0.00,12.02L-7.21,0.00Z" fill="#720099" stroke-linejoin="miter"/>
<path transform="translate(1561.00,1139.90)" d="M0.00,-12.02L7.21,0.00L0.00,12.02L-7.21,0.00Z" fill="#720099" stroke-linejoin="miter"/>
<path transform="translate(1598.40,1233.98)" d="M0.00,-12.02L7.21,0.00L0.00,12.02L-7.21,0.00Z" fill="#720099" stroke-linejoin="miter"/>
<path transform="translate(1635.80,1352.35)" d="M0.00,-12.02L7.21,0.00L0.00,12.02L-7.21,0.00Z" fill="#720099" stroke-linejoin="miter"/>
<path transform="translate(1673.20,1410.62)" d="M0.00,-12.02L7.21,0.00L0.00,12.02L-7.21,0.00Z" fill="#720099" stroke-linejoin="miter"/>
<path transform="translate(1710.60,1467.07)" d="M0.00,-12.02L7.21,0.00L0.00,12.02L-7.21,0.00Z" fill="#720099" stroke-linejoin="miter"/>
<path transform="translate(1748.00,1491.96)" d="M0.00,-12.02L7.21,0.00L0.00,12.02L-7.21,0.00Z" fill="#720099" stroke-linejoin="miter"/>
<path transform="translate(1785.40,1493.78)" d="M0.00,-12.02L7.21,0.00L0.00,12.02L-7.21,0.00Z" fill="#720099" stroke-linejoin="miter"/>
<path transform="translate(1822.80,1502.88)" d="M0.00,-12.02L7.21,0.00L0.00,12.02L-7.21,0.00Z" fill="#720099" stroke-linejoin="miter"/>
<path transform="translate(1860.20,1488.32)" d="M0.00,-12.02L7.21,0.00L0.00,12.02L-7.21,0.00Z" fill="#720099" stroke-linejoin="miter"/>
<path transform="translate(1897.60,1513.20)" d="M0.00,-12.02L7.21,0.00L0.00,12.02L-7.21,0.00Z" fill="#720099" stroke-linejoin="miter"/>
<path transform="translate(1935.00,1510.78)" d="M0.00,-12.02L7.21,0.00L0.00,12.02L-7.21,0.00Z" fill="#720099" stroke-linejoin="miter"/>
<path transform="translate(1972.40,1513.20)" d="M0.00,-12.02L7.21,0.00L0.00,12.02L-7.21,0.00Z" fill="#720099" stroke-linejoin="miter"/>
<path transform="translate(2009.80,1507.74)" d="M0.00,-12.02L7.21,0.00L0.00,12.02L-7.21,0.00Z" fill="#720099" stroke-linejoin="miter"/>
<path transform="translate(2047.20,1516.85)" d="M0.00,-12.02L7.21,0.00L0.00,12.02L-7.21,0.00Z" fill="#720099" stroke-linejoin="miter"/>
<path transform="translate(2084.60,1539.30)" d="M0.00,-12.02L7.21,0.00L0.00,12.02L-7.21,0.00Z" fill="#720099" stroke-linejoin="miter"/>
<path transform="translate(2122.00,1519.27)" d="M0.00,-12.02L7.21,0.00L0.00,12.02L-7.21,0.00Z" fill="#720099" stroke-linejoin="miter"/>
<path transform="translate(2159.40,1510.78)" d="M0.00,-12.02L7.21,0.00L0.00,12.02L-7.21,0.00Z" fill="#720099" stroke-linejoin="miter"/>
<path transform="translate(2196.80,1521.09)" d="M0.00,-12.02L7.21,0.00L0.00,12.02L-7.21,0.00Z" fill="#720099" stroke-linejoin="miter"/>
<path transform="translate(2234.20,1517.45)" d="M0.00,-12.02L7.21,0.00L0.00,12.02L-7.21,0.00Z" fill="#720099" stroke-linejoin="miter"/>
<path transform="translate(2271.60,1508.35)" d="M0.00,-12.02L7.21,0.00L0.00,12.02L-7.21,0.00Z" fill="#720099" stroke-linejoin="miter"/>
<path transform="translate(2309.00,1511.99)" d="M0.00,-12.02L7.21,0.00L0.00,12.02L-7.21,0.00Z" fill="#720099" stroke-linejoin="miter"/>
</g>
<polyline points="1411.4,1079.2 1448.8,1079.2 1486.2,1079.8 1523.6,1095.6 1561.0,1156.3 1598.4,1256.4 1635.8,1359.0 1673.2,1418.5 1710.6,1472.5 1748.0,1492.6 1785.4,1501.7 1822.8,1509.6 1860.2,1513.8 1897.6,1518.7 1935.0,1518.7 1972.4,1523.5 2009.8,1522.3 2047.2,1525.3 2084.6,1524.1 2122.0,1525.3 2159.4,1526.0 2196.8,1526.6 2234.2,1530.8 2271.6,1527.2 2309.0,1529.0" fill="none" stroke="#dc8b00" stroke-width="5.2" stroke-linejoin="round" stroke-linecap="round"/>
<g stroke="#ffffff" stroke-width="6.0">
<path transform="translate(1411.40,1079.20)" d="M0.00,-8.50L-8.50,8.50L8.50,8.50Z" fill="#dc8b00" stroke-linejoin="miter"/>
<path transform="translate(1448.80,1079.20)" d="M0.00,-8.50L-8.50,8.50L8.50,8.50Z" fill="#dc8b00" stroke-linejoin="miter"/>
<path transform="translate(1486.20,1079.81)" d="M0.00,-8.50L-8.50,8.50L8.50,8.50Z" fill="#dc8b00" stroke-linejoin="miter"/>
<path transform="translate(1523.60,1095.59)" d="M0.00,-8.50L-8.50,8.50L8.50,8.50Z" fill="#dc8b00" stroke-linejoin="miter"/>
<path transform="translate(1561.00,1156.29)" d="M0.00,-8.50L-8.50,8.50L8.50,8.50Z" fill="#dc8b00" stroke-linejoin="miter"/>
<path transform="translate(1598.40,1256.44)" d="M0.00,-8.50L-8.50,8.50L8.50,8.50Z" fill="#dc8b00" stroke-linejoin="miter"/>
<path transform="translate(1635.80,1359.03)" d="M0.00,-8.50L-8.50,8.50L8.50,8.50Z" fill="#dc8b00" stroke-linejoin="miter"/>
<path transform="translate(1673.20,1418.51)" d="M0.00,-8.50L-8.50,8.50L8.50,8.50Z" fill="#dc8b00" stroke-linejoin="miter"/>
<path transform="translate(1710.60,1472.53)" d="M0.00,-8.50L-8.50,8.50L8.50,8.50Z" fill="#dc8b00" stroke-linejoin="miter"/>
<path transform="translate(1748.00,1492.57)" d="M0.00,-8.50L-8.50,8.50L8.50,8.50Z" fill="#dc8b00" stroke-linejoin="miter"/>
<path transform="translate(1785.40,1501.67)" d="M0.00,-8.50L-8.50,8.50L8.50,8.50Z" fill="#dc8b00" stroke-linejoin="miter"/>
<path transform="translate(1822.80,1509.56)" d="M0.00,-8.50L-8.50,8.50L8.50,8.50Z" fill="#dc8b00" stroke-linejoin="miter"/>
<path transform="translate(1860.20,1513.81)" d="M0.00,-8.50L-8.50,8.50L8.50,8.50Z" fill="#dc8b00" stroke-linejoin="miter"/>
<path transform="translate(1897.60,1518.67)" d="M0.00,-8.50L-8.50,8.50L8.50,8.50Z" fill="#dc8b00" stroke-linejoin="miter"/>
<path transform="translate(1935.00,1518.67)" d="M0.00,-8.50L-8.50,8.50L8.50,8.50Z" fill="#dc8b00" stroke-linejoin="miter"/>
<path transform="translate(1972.40,1523.52)" d="M0.00,-8.50L-8.50,8.50L8.50,8.50Z" fill="#dc8b00" stroke-linejoin="miter"/>
<path transform="translate(2009.80,1522.31)" d="M0.00,-8.50L-8.50,8.50L8.50,8.50Z" fill="#dc8b00" stroke-linejoin="miter"/>
<path transform="translate(2047.20,1525.34)" d="M0.00,-8.50L-8.50,8.50L8.50,8.50Z" fill="#dc8b00" stroke-linejoin="miter"/>
<path transform="translate(2084.60,1524.13)" d="M0.00,-8.50L-8.50,8.50L8.50,8.50Z" fill="#dc8b00" stroke-linejoin="miter"/>
<path transform="translate(2122.00,1525.34)" d="M0.00,-8.50L-8.50,8.50L8.50,8.50Z" fill="#dc8b00" stroke-linejoin="miter"/>
<path transform="translate(2159.40,1525.95)" d="M0.00,-8.50L-8.50,8.50L8.50,8.50Z" fill="#dc8b00" stroke-linejoin="miter"/>
<path transform="translate(2196.80,1526.56)" d="M0.00,-8.50L-8.50,8.50L8.50,8.50Z" fill="#dc8b00" stroke-linejoin="miter"/>
<path transform="translate(2234.20,1530.81)" d="M0.00,-8.50L-8.50,8.50L8.50,8.50Z" fill="#dc8b00" stroke-linejoin="miter"/>
<path transform="translate(2271.60,1527.16)" d="M0.00,-8.50L-8.50,8.50L8.50,8.50Z" fill="#dc8b00" stroke-linejoin="miter"/>
<path transform="translate(2309.00,1528.98)" d="M0.00,-8.50L-8.50,8.50L8.50,8.50Z" fill="#dc8b00" stroke-linejoin="miter"/>
</g>
</g>
<rect x="1374" y="1010" width="935" height="607" fill="none" stroke="#cccccc" stroke-width="3.8"/>
<text transform="translate(1347.5,1627.6) scale(1,1.04)" font-size="28" text-anchor="end">0.04</text>
<text transform="translate(1347.5,1506.2) scale(1,1.04)" font-size="28" text-anchor="end">0.06</text>
<text transform="translate(1347.5,1384.8) scale(1,1.04)" font-size="28" text-anchor="end">0.08</text>
<text transform="translate(1347.5,1263.4) scale(1,1.04)" font-size="28" text-anchor="end">0.10</text>
<text transform="translate(1347.5,1142.0) scale(1,1.04)" font-size="28" text-anchor="end">0.12</text>
<text transform="translate(1347.5,1020.6) scale(1,1.04)" font-size="28" text-anchor="end">0.14</text>
<text transform="translate(1374.0,1664.0) scale(1,1.04)" font-size="28" text-anchor="middle">0</text>
<text transform="translate(1561.0,1664.0) scale(1,1.04)" font-size="28" text-anchor="middle">5</text>
<text transform="translate(1748.0,1664.0) scale(1,1.04)" font-size="28" text-anchor="middle">10</text>
<text transform="translate(1935.0,1664.0) scale(1,1.04)" font-size="28" text-anchor="middle">15</text>
<text transform="translate(2122.0,1664.0) scale(1,1.04)" font-size="28" text-anchor="middle">20</text>
<text transform="translate(2309.0,1664.0) scale(1,1.04)" font-size="28" text-anchor="middle">25</text>
<text transform="translate(1842.5,1705.0) scale(1,1.04)" font-size="33.3" text-anchor="middle">Iterations</text>
<text transform="translate(1278.0,1317.0) rotate(-90) scale(1,1.04)" font-size="33.3" text-anchor="middle">BrierScore</text>
<rect x="1978.8" y="1024.7" width="316.3" height="325.7" rx="5.6" ry="5.6" fill="#ffffff" fill-opacity="0.8" stroke="#cccccc" stroke-width="2.3" stroke-opacity="0.9"/>
<line x1="1989.0" y1="1045.7" x2="2045.0" y2="1045.7" stroke="#67cf66" stroke-width="5.2" stroke-linecap="round"/>
<g stroke="#ffffff" stroke-width="6.0"><path transform="translate(2017.00,1045.70)" d="M0.00,-8.50L-8.50,8.50L8.50,8.50Z" fill="#67cf66" stroke-linejoin="miter"/></g>
<text transform="translate(2066.5,1055.9) scale(1,1.04)" font-size="28">NbAFL</text>
<line x1="1989.0" y1="1085.5" x2="2045.0" y2="1085.5" stroke="#048457" stroke-width="5.2" stroke-linecap="round"/>
<g stroke="#ffffff" stroke-width="6.0"><path transform="translate(2017.00,1085.45)" d="M-8.50,-8.50L8.50,-8.50L8.50,8.50L-8.50,8.50Z" fill="#048457" stroke-linejoin="miter"/></g>
<text transform="translate(2066.5,1095.7) scale(1,1.04)" font-size="28">ROW-DP(Std)</text>
<line x1="1989.0" y1="1125.2" x2="2045.0" y2="1125.2" stroke="#e8c41f" stroke-width="5.2" stroke-linecap="round"/>
<g stroke="#ffffff" stroke-width="6.0"><path transform="translate(2017.00,1125.20)" d="M0.00,-8.50L-7.36,-4.25L-7.36,4.25L-0.00,8.50L7.36,4.25L7.36,-4.25Z" fill="#e8c41f" stroke-linejoin="miter"/></g>
<text transform="translate(2066.5,1135.4) scale(1,1.04)" font-size="28">ROW-DP(Var)</text>
<line x1="1989.0" y1="1165.0" x2="2045.0" y2="1165.0" stroke="#b4a4ca" stroke-width="5.2" stroke-linecap="round"/>
<g stroke="#ffffff" stroke-width="6.0"><circle cx="2017.00" cy="1164.95" r="8.50" fill="#b4a4ca"/></g>
<text transform="translate(2066.5,1175.2) scale(1,1.04)" font-size="28">ROW-DP(Range)</text>
<line x1="1989.0" y1="1204.7" x2="2045.0" y2="1204.7" stroke="#fde2cf" stroke-width="5.2" stroke-linecap="round"/>
<g stroke="#ffffff" stroke-width="6.0"><circle cx="2017.00" cy="1204.70" r="8.50" fill="#fde2cf"/></g>
<text transform="translate(2066.5,1214.9) scale(1,1.04)" font-size="28">ROW-DP(MAE)</text>
<line x1="1989.0" y1="1244.5" x2="2045.0" y2="1244.5" stroke="#eb661f" stroke-width="5.2" stroke-linecap="round"/>
<g stroke="#ffffff" stroke-width="6.0"><path transform="translate(2017.00,1244.45)" d="M0.00,-8.50L-8.08,-2.63L-5.00,6.88L5.00,6.88L8.08,-2.63Z" fill="#eb661f" stroke-linejoin="miter"/></g>
<text transform="translate(2066.5,1254.7) scale(1,1.04)" font-size="28">ROW-DP(IQR)</text>
<line x1="1989.0" y1="1284.2" x2="2045.0" y2="1284.2" stroke="#720099" stroke-width="5.2" stroke-linecap="round"/>
<g stroke="#ffffff" stroke-width="6.0"><path transform="translate(2017.00,1284.20)" d="M0.00,-12.02L7.21,0.00L0.00,12.02L-7.21,0.00Z" fill="#720099" stroke-linejoin="miter"/></g>
<text transform="translate(2066.5,1294.4) scale(1,1.04)" font-size="28">LS-ADP</text>
<line x1="1989.0" y1="1324.0" x2="2045.0" y2="1324.0" stroke="#dc8b00" stroke-width="5.2" stroke-linecap="round"/>
<g stroke="#ffffff" stroke-width="6.0"><path transform="translate(2017.00,1323.95)" d="M0.00,-8.50L-8.50,8.50L8.50,8.50Z" fill="#dc8b00" stroke-linejoin="miter"/></g>
<text transform="translate(2066.5,1334.2) scale(1,1.04)" font-size="28">Nopd</text>
<path d="M347.00,1990 V2597 M534.00,1990 V2597 M721.00,1990 V2597 M908.00,1990 V2597 M160,2524.74 H1095 M160,2452.48 H1095 M160,2380.21 H1095 M160,2307.95 H1095 M160,2235.69 H1095 M160,2163.43 H1095 M160,2091.17 H1095 M160,2018.90 H1095" stroke="#cccccc" stroke-width="2.4" fill="none"/>
<g clip-path="url(#c20)">
<polyline points="197.4,1995.8 234.8,1995.8 272.2,2007.3 309.6,2070.9 347.0,2201.0 384.4,2331.1 421.8,2429.4 459.2,2475.6 496.6,2490.1 534.0,2507.4 571.4,2513.2 608.8,2517.5 646.2,2520.4 683.6,2521.8 721.0,2523.3 758.4,2524.7 795.8,2524.7 833.2,2524.7 870.6,2524.7 908.0,2524.7 945.4,2524.7 982.8,2524.7 1020.2,2524.7 1057.6,2524.7 1095.0,2524.7" fill="none" stroke="#67cf66" stroke-width="5.2" stroke-linejoin="round" stroke-linecap="round"/>
<g stroke="#ffffff" stroke-width="6.0">
<path transform="translate(197.40,1995.78)" d="M0.00,-8.50L-8.50,8.50L8.50,8.50Z" fill="#67cf66" stroke-linejoin="miter"/>
<path transform="translate(234.80,1995.78)" d="M0.00,-8.50L-8.50,8.50L8.50,8.50Z" fill="#67cf66" stroke-linejoin="miter"/>
<path transform="translate(272.20,2007.34)" d="M0.00,-8.50L-8.50,8.50L8.50,8.50Z" fill="#67cf66" stroke-linejoin="miter"/>
<path transform="translate(309.60,2070.93)" d="M0.00,-8.50L-8.50,8.50L8.50,8.50Z" fill="#67cf66" stroke-linejoin="miter"/>
<path transform="translate(347.00,2201.00)" d="M0.00,-8.50L-8.50,8.50L8.50,8.50Z" fill="#67cf66" stroke-linejoin="miter"/>
<path transform="translate(384.40,2331.08)" d="M0.00,-8.50L-8.50,8.50L8.50,8.50Z" fill="#67cf66" stroke-linejoin="miter"/>
<path transform="translate(421.80,2429.35)" d="M0.00,-8.50L-8.50,8.50L8.50,8.50Z" fill="#67cf66" stroke-linejoin="miter"/>
<path transform="translate(459.20,2475.60)" d="M0.00,-8.50L-8.50,8.50L8.50,8.50Z" fill="#67cf66" stroke-linejoin="miter"/>
<path transform="translate(496.60,2490.05)" d="M0.00,-8.50L-8.50,8.50L8.50,8.50Z" fill="#67cf66" stroke-linejoin="miter"/>
<path transform="translate(534.00,2507.40)" d="M0.00,-8.50L-8.50,8.50L8.50,8.50Z" fill="#67cf66" stroke-linejoin="miter"/>
<path transform="translate(571.40,2513.18)" d="M0.00,-8.50L-8.50,8.50L8.50,8.50Z" fill="#67cf66" stroke-linejoin="miter"/>
<path transform="translate(608.80,2517.51)" d="M0.00,-8.50L-8.50,8.50L8.50,8.50Z" fill="#67cf66" stroke-linejoin="miter"/>
<path transform="translate(646.20,2520.40)" d="M0.00,-8.50L-8.50,8.50L8.50,8.50Z" fill="#67cf66" stroke-linejoin="miter"/>
<path transform="translate(683.60,2521.85)" d="M0.00,-8.50L-8.50,8.50L8.50,8.50Z" fill="#67cf66" stroke-linejoin="miter"/>
<path transform="translate(721.00,2523.29)" d="M0.00,-8.50L-8.50,8.50L8.50,8.50Z" fill="#67cf66" stroke-linejoin="miter"/>
<path transform="translate(758.40,2524.74)" d="M0.00,-8.50L-8.50,8.50L8.50,8.50Z" fill="#67cf66" stroke-linejoin="miter"/>
<path transform="translate(795.80,2524.74)" d="M0.00,-8.50L-8.50,8.50L8.50,8.50Z" fill="#67cf66" stroke-linejoin="miter"/>
<path transform="translate(833.20,2524.74)" d="M0.00,-8.50L-8.50,8.50L8.50,8.50Z" fill="#67cf66" stroke-linejoin="miter"/>
<path transform="translate(870.60,2524.74)" d="M0.00,-8.50L-8.50,8.50L8.50,8.50Z" fill="#67cf66" stroke-linejoin="miter"/>
<path transform="translate(908.00,2524.74)" d="M0.00,-8.50L-8.50,8.50L8.50,8.50Z" fill="#67cf66" stroke-linejoin="miter"/>
<path transform="translate(945.40,2524.74)" d="M0.00,-8.50L-8.50,8.50L8.50,8.50Z" fill="#67cf66" stroke-linejoin="miter"/>
<path transform="translate(982.80,2524.74)" d="M0.00,-8.50L-8.50,8.50L8.50,8.50Z" fill="#67cf66" stroke-linejoin="miter"/>
<path transform="translate(1020.20,2524.74)" d="M0.00,-8.50L-8.50,8.50L8.50,8.50Z" fill="#67cf66" stroke-linejoin="miter"/>
<path transform="translate(1057.60,2524.74)" d="M0.00,-8.50L-8.50,8.50L8.50,8.50Z" fill="#67cf66" stroke-linejoin="miter"/>
<path transform="translate(1095.00,2524.74)" d="M0.00,-8.50L-8.50,8.50L8.50,8.50Z" fill="#67cf66" stroke-linejoin="miter"/>
</g>
<polyline points="197.4,1995.8 234.8,1995.8 272.2,2007.3 309.6,2070.9 347.0,2198.1 384.4,2325.3 421.8,2423.6 459.2,2466.9 496.6,2478.5 534.0,2501.6 571.4,2510.3 608.8,2516.1 646.2,2519.0 683.6,2519.0 721.0,2519.5 758.4,2520.4 795.8,2521.8 833.2,2521.8 870.6,2521.8 908.0,2521.8 945.4,2521.8 982.8,2521.8 1020.2,2521.8 1057.6,2521.8 1095.0,2521.8" fill="none" stroke="#048457" stroke-width="5.2" stroke-linejoin="round" stroke-linecap="round"/>
<g stroke="#ffffff" stroke-width="6.0">
<path transform="translate(197.40,1995.78)" d="M-8.50,-8.50L8.50,-8.50L8.50,8.50L-8.50,8.50Z" fill="#048457" stroke-linejoin="miter"/>
<path transform="translate(234.80,1995.78)" d="M-8.50,-8.50L8.50,-8.50L8.50,8.50L-8.50,8.50Z" fill="#048457" stroke-linejoin="miter"/>
<path transform="translate(272.20,2007.34)" d="M-8.50,-8.50L8.50,-8.50L8.50,8.50L-8.50,8.50Z" fill="#048457" stroke-linejoin="miter"/>
<path transform="translate(309.60,2070.93)" d="M-8.50,-8.50L8.50,-8.50L8.50,8.50L-8.50,8.50Z" fill="#048457" stroke-linejoin="miter"/>
<path transform="translate(347.00,2198.11)" d="M-8.50,-8.50L8.50,-8.50L8.50,8.50L-8.50,8.50Z" fill="#048457" stroke-linejoin="miter"/>
<path transform="translate(384.40,2325.30)" d="M-8.50,-8.50L8.50,-8.50L8.50,8.50L-8.50,8.50Z" fill="#048457" stroke-linejoin="miter"/>
<path transform="translate(421.80,2423.57)" d="M-8.50,-8.50L8.50,-8.50L8.50,8.50L-8.50,8.50Z" fill="#048457" stroke-linejoin="miter"/>
<path transform="translate(459.20,2466.93)" d="M-8.50,-8.50L8.50,-8.50L8.50,8.50L-8.50,8.50Z" fill="#048457" stroke-linejoin="miter"/>
<path transform="translate(496.60,2478.49)" d="M-8.50,-8.50L8.50,-8.50L8.50,8.50L-8.50,8.50Z" fill="#048457" stroke-linejoin="miter"/>
<path transform="translate(534.00,2501.61)" d="M-8.50,-8.50L8.50,-8.50L8.50,8.50L-8.50,8.50Z" fill="#048457" stroke-linejoin="miter"/>
<path transform="translate(571.40,2510.29)" d="M-8.50,-8.50L8.50,-8.50L8.50,8.50L-8.50,8.50Z" fill="#048457" stroke-linejoin="miter"/>
<path transform="translate(608.80,2516.07)" d="M-8.50,-8.50L8.50,-8.50L8.50,8.50L-8.50,8.50Z" fill="#048457" stroke-linejoin="miter"/>
<path transform="translate(646.20,2518.96)" d="M-8.50,-8.50L8.50,-8.50L8.50,8.50L-8.50,8.50Z" fill="#048457" stroke-linejoin="miter"/>
<path transform="translate(683.60,2518.96)" d="M-8.50,-8.50L8.50,-8.50L8.50,8.50L-8.50,8.50Z" fill="#048457" stroke-linejoin="miter"/>
<path transform="translate(721.00,2519.54)" d="M-8.50,-8.50L8.50,-8.50L8.50,8.50L-8.50,8.50Z" fill="#048457" stroke-linejoin="miter"/>
<path transform="translate(758.40,2520.40)" d="M-8.50,-8.50L8.50,-8.50L8.50,8.50L-8.50,8.50Z" fill="#048457" stroke-linejoin="miter"/>
<path transform="translate(795.80,2521.85)" d="M-8.50,-8.50L8.50,-8.50L8.50,8.50L-8.50,8.50Z" fill="#048457" stroke-linejoin="miter"/>
<path transform="translate(833.20,2521.85)" d="M-8.50,-8.50L8.50,-8.50L8.50,8.50L-8.50,8.50Z" fill="#048457" stroke-linejoin="miter"/>
<path transform="translate(870.60,2521.85)" d="M-8.50,-8.50L8.50,-8.50L8.50,8.50L-8.50,8.50Z" fill="#048457" stroke-linejoin="miter"/>
<path transform="translate(908.00,2521.85)" d="M-8.50,-8.50L8.50,-8.50L8.50,8.50L-8.50,8.50Z" fill="#048457" stroke-linejoin="miter"/>
<path transform="translate(945.40,2521.85)" d="M-8.50,-8.50L8.50,-8.50L8.50,8.50L-8.50,8.50Z" fill="#048457" stroke-linejoin="miter"/>
<path transform="translate(982.80,2521.85)" d="M-8.50,-8.50L8.50,-8.50L8.50,8.50L-8.50,8.50Z" fill="#048457" stroke-linejoin="miter"/>
<path transform="translate(1020.20,2521.85)" d="M-8.50,-8.50L8.50,-8.50L8.50,8.50L-8.50,8.50Z" fill="#048457" stroke-linejoin="miter"/>
<path transform="translate(1057.60,2521.85)" d="M-8.50,-8.50L8.50,-8.50L8.50,8.50L-8.50,8.50Z" fill="#048457" stroke-linejoin="miter"/>
<path transform="translate(1095.00,2521.85)" d="M-8.50,-8.50L8.50,-8.50L8.50,8.50L-8.50,8.50Z" fill="#048457" stroke-linejoin="miter"/>
</g>
<polyline points="197.4,1995.8 234.8,1995.8 272.2,2004.5 309.6,2059.4 347.0,2153.0 384.4,2290.6 421.8,2417.8 459.2,2466.9 496.6,2481.4 534.0,2501.6 571.4,2510.3 608.8,2516.1 646.2,2519.0 683.6,2521.8 721.0,2521.8 758.4,2523.3 795.8,2523.3 833.2,2523.3 870.6,2523.3 908.0,2523.3 945.4,2524.7 982.8,2524.7 1020.2,2524.7 1057.6,2524.7 1095.0,2524.7" fill="none" stroke="#e8c41f" stroke-width="5.2" stroke-linejoin="round" stroke-linecap="round"/>
<g stroke="#ffffff" stroke-width="6.0">
<path transform="translate(197.40,1995.78)" d="M0.00,-8.50L-7.36,-4.25L-7.36,4.25L-0.00,8.50L7.36,4.25L7.36,-4.25Z" fill="#e8c41f" stroke-linejoin="miter"/>
<path transform="translate(234.80,1995.78)" d="M0.00,-8.50L-7.36,-4.25L-7.36,4.25L-0.00,8.50L7.36,4.25L7.36,-4.25Z" fill="#e8c41f" stroke-linejoin="miter"/>
<path transform="translate(272.20,2004.45)" d="M0.00,-8.50L-7.36,-4.25L-7.36,4.25L-0.00,8.50L7.36,4.25L7.36,-4.25Z" fill="#e8c41f" stroke-linejoin="miter"/>
<path transform="translate(309.60,2059.37)" d="M0.00,-8.50L-7.36,-4.25L-7.36,4.25L-0.00,8.50L7.36,4.25L7.36,-4.25Z" fill="#e8c41f" stroke-linejoin="miter"/>
<path transform="translate(347.00,2153.02)" d="M0.00,-8.50L-7.36,-4.25L-7.36,4.25L-0.00,8.50L7.36,4.25L7.36,-4.25Z" fill="#e8c41f" stroke-linejoin="miter"/>
<path transform="translate(384.40,2290.61)" d="M0.00,-8.50L-7.36,-4.25L-7.36,4.25L-0.00,8.50L7.36,4.25L7.36,-4.25Z" fill="#e8c41f" stroke-linejoin="miter"/>
<path transform="translate(421.80,2417.79)" d="M0.00,-8.50L-7.36,-4.25L-7.36,4.25L-0.00,8.50L7.36,4.25L7.36,-4.25Z" fill="#e8c41f" stroke-linejoin="miter"/>
<path transform="translate(459.20,2466.93)" d="M0.00,-8.50L-7.36,-4.25L-7.36,4.25L-0.00,8.50L7.36,4.25L7.36,-4.25Z" fill="#e8c41f" stroke-linejoin="miter"/>
<path transform="translate(496.60,2481.38)" d="M0.00,-8.50L-7.36,-4.25L-7.36,4.25L-0.00,8.50L7.36,4.25L7.36,-4.25Z" fill="#e8c41f" stroke-linejoin="miter"/>
<path transform="translate(534.00,2501.61)" d="M0.00,-8.50L-7.36,-4.25L-7.36,4.25L-0.00,8.50L7.36,4.25L7.36,-4.25Z" fill="#e8c41f" stroke-linejoin="miter"/>
<path transform="translate(571.40,2510.29)" d="M0.00,-8.50L-7.36,-4.25L-7.36,4.25L-0.00,8.50L7.36,4.25L7.36,-4.25Z" fill="#e8c41f" stroke-linejoin="miter"/>
<path transform="translate(608.80,2516.07)" d="M0.00,-8.50L-7.36,-4.25L-7.36,4.25L-0.00,8.50L7.36,4.25L7.36,-4.25Z" fill="#e8c41f" stroke-linejoin="miter"/>
<path transform="translate(646.20,2518.96)" d="M0.00,-8.50L-7.36,-4.25L-7.36,4.25L-0.00,8.50L7.36,4.25L7.36,-4.25Z" fill="#e8c41f" stroke-linejoin="miter"/>
<path transform="translate(683.60,2521.85)" d="M0.00,-8.50L-7.36,-4.25L-7.36,4.25L-0.00,8.50L7.36,4.25L7.36,-4.25Z" fill="#e8c41f" stroke-linejoin="miter"/>
<path transform="translate(721.00,2521.85)" d="M0.00,-8.50L-7.36,-4.25L-7.36,4.25L-0.00,8.50L7.36,4.25L7.36,-4.25Z" fill="#e8c41f" stroke-linejoin="miter"/>
<path transform="translate(758.40,2523.29)" d="M0.00,-8.50L-7.36,-4.25L-7.36,4.25L-0.00,8.50L7.36,4.25L7.36,-4.25Z" fill="#e8c41f" stroke-linejoin="miter"/>
<path transform="translate(795.80,2523.29)" d="M0.00,-8.50L-7.36,-4.25L-7.36,4.25L-0.00,8.50L7.36,4.25L7.36,-4.25Z" fill="#e8c41f" stroke-linejoin="miter"/>
<path transform="translate(833.20,2523.29)" d="M0.00,-8.50L-7.36,-4.25L-7.36,4.25L-0.00,8.50L7.36,4.25L7.36,-4.25Z" fill="#e8c41f" stroke-linejoin="miter"/>
<path transform="translate(870.60,2523.29)" d="M0.00,-8.50L-7.36,-4.25L-7.36,4.25L-0.00,8.50L7.36,4.25L7.36,-4.25Z" fill="#e8c41f" stroke-linejoin="miter"/>
<path transform="translate(908.00,2523.29)" d="M0.00,-8.50L-7.36,-4.25L-7.36,4.25L-0.00,8.50L7.36,4.25L7.36,-4.25Z" fill="#e8c41f" stroke-linejoin="miter"/>
<path transform="translate(945.40,2524.74)" d="M0.00,-8.50L-7.36,-4.25L-7.36,4.25L-0.00,8.50L7.36,4.25L7.36,-4.25Z" fill="#e8c41f" stroke-linejoin="miter"/>
<path transform="translate(982.80,2524.74)" d="M0.00,-8.50L-7.36,-4.25L-7.36,4.25L-0.00,8.50L7.36,4.25L7.36,-4.25Z" fill="#e8c41f" stroke-linejoin="miter"/>
<path transform="translate(1020.20,2524.74)" d="M0.00,-8.50L-7.36,-4.25L-7.36,4.25L-0.00,8.50L7.36,4.25L7.36,-4.25Z" fill="#e8c41f" stroke-linejoin="miter"/>
<path transform="translate(1057.60,2524.74)" d="M0.00,-8.50L-7.36,-4.25L-7.36,4.25L-0.00,8.50L7.36,4.25L7.36,-4.25Z" fill="#e8c41f" stroke-linejoin="miter"/>
<path transform="translate(1095.00,2524.74)" d="M0.00,-8.50L-7.36,-4.25L-7.36,4.25L-0.00,8.50L7.36,4.25L7.36,-4.25Z" fill="#e8c41f" stroke-linejoin="miter"/>
</g>
<polyline points="197.4,1995.8 234.8,1995.8 272.2,2007.3 309.6,2070.9 347.0,2198.1 384.4,2322.4 421.8,2426.5 459.2,2475.6 496.6,2490.1 534.0,2504.5 571.4,2510.3 608.8,2516.1 646.2,2519.0 683.6,2521.8 721.0,2523.3 758.4,2523.3 795.8,2523.3 833.2,2523.3 870.6,2523.3 908.0,2523.3 945.4,2523.3 982.8,2523.3 1020.2,2521.8 1057.6,2521.8 1095.0,2523.3" fill="none" stroke="#b4a4ca" stroke-width="5.2" stroke-linejoin="round" stroke-linecap="round"/>
<g stroke="#ffffff" stroke-width="6.0">
<circle cx="197.40" cy="1995.78" r="8.50" fill="#b4a4ca"/>
<circle cx="234.80" cy="1995.78" r="8.50" fill="#b4a4ca"/>
<circle cx="272.20" cy="2007.34" r="8.50" fill="#b4a4ca"/>
<circle cx="309.60" cy="2070.93" r="8.50" fill="#b4a4ca"/>
<circle cx="347.00" cy="2198.11" r="8.50" fill="#b4a4ca"/>
<circle cx="384.40" cy="2322.40" r="8.50" fill="#b4a4ca"/>
<circle cx="421.80" cy="2426.46" r="8.50" fill="#b4a4ca"/>
<circle cx="459.20" cy="2475.60" r="8.50" fill="#b4a4ca"/>
<circle cx="496.60" cy="2490.05" r="8.50" fill="#b4a4ca"/>
<circle cx="534.00" cy="2504.50" r="8.50" fill="#b4a4ca"/>
<circle cx="571.40" cy="2510.29" r="8.50" fill="#b4a4ca"/>
<circle cx="608.80" cy="2516.07" r="8.50" fill="#b4a4ca"/>
<circle cx="646.20" cy="2518.96" r="8.50" fill="#b4a4ca"/>
<circle cx="683.60" cy="2521.85" r="8.50" fill="#b4a4ca"/>
<circle cx="721.00" cy="2523.29" r="8.50" fill="#b4a4ca"/>
<circle cx="758.40" cy="2523.29" r="8.50" fill="#b4a4ca"/>
<circle cx="795.80" cy="2523.29" r="8.50" fill="#b4a4ca"/>
<circle cx="833.20" cy="2523.29" r="8.50" fill="#b4a4ca"/>
<circle cx="870.60" cy="2523.29" r="8.50" fill="#b4a4ca"/>
<circle cx="908.00" cy="2523.29" r="8.50" fill="#b4a4ca"/>
<circle cx="945.40" cy="2523.29" r="8.50" fill="#b4a4ca"/>
<circle cx="982.80" cy="2523.29" r="8.50" fill="#b4a4ca"/>
<circle cx="1020.20" cy="2521.85" r="8.50" fill="#b4a4ca"/>
<circle cx="1057.60" cy="2521.85" r="8.50" fill="#b4a4ca"/>
<circle cx="1095.00" cy="2523.29" r="8.50" fill="#b4a4ca"/>
</g>
<polyline points="197.4,1995.8 234.8,1995.8 272.2,2007.3 309.6,2068.0 347.0,2192.3 384.4,2311.7 421.8,2414.9 459.2,2456.8 496.6,2487.2 534.0,2507.4 571.4,2513.2 608.8,2516.1 646.2,2519.0 683.6,2521.0 721.0,2521.8 758.4,2523.3 795.8,2523.3 833.2,2523.3 870.6,2523.3 908.0,2523.3 945.4,2523.3 982.8,2523.3 1020.2,2523.3 1057.6,2523.3 1095.0,2523.3" fill="none" stroke="#fde2cf" stroke-width="5.2" stroke-linejoin="round" stroke-linecap="round"/>
<g stroke="#ffffff" stroke-width="6.0">
<circle cx="197.40" cy="1995.78" r="8.50" fill="#fde2cf"/>
<circle cx="234.80" cy="1995.78" r="8.50" fill="#fde2cf"/>
<circle cx="272.20" cy="2007.34" r="8.50" fill="#fde2cf"/>
<circle cx="309.60" cy="2068.04" r="8.50" fill="#fde2cf"/>
<circle cx="347.00" cy="2192.33" r="8.50" fill="#fde2cf"/>
<circle cx="384.40" cy="2311.71" r="8.50" fill="#fde2cf"/>
<circle cx="421.80" cy="2414.90" r="8.50" fill="#fde2cf"/>
<circle cx="459.20" cy="2456.81" r="8.50" fill="#fde2cf"/>
<circle cx="496.60" cy="2487.16" r="8.50" fill="#fde2cf"/>
<circle cx="534.00" cy="2507.40" r="8.50" fill="#fde2cf"/>
<circle cx="571.40" cy="2513.18" r="8.50" fill="#fde2cf"/>
<circle cx="608.80" cy="2516.07" r="8.50" fill="#fde2cf"/>
<circle cx="646.20" cy="2518.96" r="8.50" fill="#fde2cf"/>
<circle cx="683.60" cy="2520.98" r="8.50" fill="#fde2cf"/>
<circle cx="721.00" cy="2521.85" r="8.50" fill="#fde2cf"/>
<circle cx="758.40" cy="2523.29" r="8.50" fill="#fde2cf"/>
<circle cx="795.80" cy="2523.29" r="8.50" fill="#fde2cf"/>
<circle cx="833.20" cy="2523.29" r="8.50" fill="#fde2cf"/>
<circle cx="870.60" cy="2523.29" r="8.50" fill="#fde2cf"/>
<circle cx="908.00" cy="2523.29" r="8.50" fill="#fde2cf"/>
<circle cx="945.40" cy="2523.29" r="8.50" fill="#fde2cf"/>
<circle cx="982.80" cy="2523.29" r="8.50" fill="#fde2cf"/>
<circle cx="1020.20" cy="2523.29" r="8.50" fill="#fde2cf"/>
<circle cx="1057.60" cy="2523.29" r="8.50" fill="#fde2cf"/>
<circle cx="1095.00" cy="2523.29" r="8.50" fill="#fde2cf"/>
</g>
<polyline points="197.4,1995.8 234.8,1995.8 272.2,2004.5 309.6,2055.6 347.0,2173.0 384.4,2293.8 421.8,2414.0 459.2,2469.0 496.6,2490.1 534.0,2504.5 571.4,2508.8 608.8,2510.3 646.2,2519.0 683.6,2520.4 721.0,2521.8 758.4,2521.8 795.8,2521.3 833.2,2520.4 870.6,2521.3 908.0,2521.8 945.4,2523.3 982.8,2524.7 1020.2,2524.7 1057.6,2524.7 1095.0,2524.7" fill="none" stroke="#eb661f" stroke-width="5.2" stroke-linejoin="round" stroke-linecap="round"/>
<g stroke="#ffffff" stroke-width="6.0">
<path transform="translate(197.40,1995.78)" d="M0.00,-8.50L-8.08,-2.63L-5.00,6.88L5.00,6.88L8.08,-2.63Z" fill="#eb661f" stroke-linejoin="miter"/>
<path transform="translate(234.80,1995.78)" d="M0.00,-8.50L-8.08,-2.63L-5.00,6.88L5.00,6.88L8.08,-2.63Z" fill="#eb661f" stroke-linejoin="miter"/>
<path transform="translate(272.20,2004.45)" d="M0.00,-8.50L-8.08,-2.63L-5.00,6.88L5.00,6.88L8.08,-2.63Z" fill="#eb661f" stroke-linejoin="miter"/>
<path transform="translate(309.60,2055.61)" d="M0.00,-8.50L-8.08,-2.63L-5.00,6.88L5.00,6.88L8.08,-2.63Z" fill="#eb661f" stroke-linejoin="miter"/>
<path transform="translate(347.00,2172.97)" d="M0.00,-8.50L-8.08,-2.63L-5.00,6.88L5.00,6.88L8.08,-2.63Z" fill="#eb661f" stroke-linejoin="miter"/>
<path transform="translate(384.40,2293.79)" d="M0.00,-8.50L-8.08,-2.63L-5.00,6.88L5.00,6.88L8.08,-2.63Z" fill="#eb661f" stroke-linejoin="miter"/>
<path transform="translate(421.80,2414.03)" d="M0.00,-8.50L-8.08,-2.63L-5.00,6.88L5.00,6.88L8.08,-2.63Z" fill="#eb661f" stroke-linejoin="miter"/>
<path transform="translate(459.20,2468.95)" d="M0.00,-8.50L-8.08,-2.63L-5.00,6.88L5.00,6.88L8.08,-2.63Z" fill="#eb661f" stroke-linejoin="miter"/>
<path transform="translate(496.60,2490.05)" d="M0.00,-8.50L-8.08,-2.63L-5.00,6.88L5.00,6.88L8.08,-2.63Z" fill="#eb661f" stroke-linejoin="miter"/>
<path transform="translate(534.00,2504.50)" d="M0.00,-8.50L-8.08,-2.63L-5.00,6.88L5.00,6.88L8.08,-2.63Z" fill="#eb661f" stroke-linejoin="miter"/>
<path transform="translate(571.40,2508.84)" d="M0.00,-8.50L-8.08,-2.63L-5.00,6.88L5.00,6.88L8.08,-2.63Z" fill="#eb661f" stroke-linejoin="miter"/>
<path transform="translate(608.80,2510.29)" d="M0.00,-8.50L-8.08,-2.63L-5.00,6.88L5.00,6.88L8.08,-2.63Z" fill="#eb661f" stroke-linejoin="miter"/>
<path transform="translate(646.20,2518.96)" d="M0.00,-8.50L-8.08,-2.63L-5.00,6.88L5.00,6.88L8.08,-2.63Z" fill="#eb661f" stroke-linejoin="miter"/>
<path transform="translate(683.60,2520.40)" d="M0.00,-8.50L-8.08,-2.63L-5.00,6.88L5.00,6.88L8.08,-2.63Z" fill="#eb661f" stroke-linejoin="miter"/>
<path transform="translate(721.00,2521.85)" d="M0.00,-8.50L-8.08,-2.63L-5.00,6.88L5.00,6.88L8.08,-2.63Z" fill="#eb661f" stroke-linejoin="miter"/>
<path transform="translate(758.40,2521.85)" d="M0.00,-8.50L-8.08,-2.63L-5.00,6.88L5.00,6.88L8.08,-2.63Z" fill="#eb661f" stroke-linejoin="miter"/>
<path transform="translate(795.80,2521.27)" d="M0.00,-8.50L-8.08,-2.63L-5.00,6.88L5.00,6.88L8.08,-2.63Z" fill="#eb661f" stroke-linejoin="miter"/>
<path transform="translate(833.20,2520.40)" d="M0.00,-8.50L-8.08,-2.63L-5.00,6.88L5.00,6.88L8.08,-2.63Z" fill="#eb661f" stroke-linejoin="miter"/>
<path transform="translate(870.60,2521.27)" d="M0.00,-8.50L-8.08,-2.63L-5.00,6.88L5.00,6.88L8.08,-2.63Z" fill="#eb661f" stroke-linejoin="miter"/>
<path transform="translate(908.00,2521.85)" d="M0.00,-8.50L-8.08,-2.63L-5.00,6.88L5.00,6.88L8.08,-2.63Z" fill="#eb661f" stroke-linejoin="miter"/>
<path transform="translate(945.40,2523.29)" d="M0.00,-8.50L-8.08,-2.63L-5.00,6.88L5.00,6.88L8.08,-2.63Z" fill="#eb661f" stroke-linejoin="miter"/>
<path transform="translate(982.80,2524.74)" d="M0.00,-8.50L-8.08,-2.63L-5.00,6.88L5.00,6.88L8.08,-2.63Z" fill="#eb661f" stroke-linejoin="miter"/>
<path transform="translate(1020.20,2524.74)" d="M0.00,-8.50L-8.08,-2.63L-5.00,6.88L5.00,6.88L8.08,-2.63Z" fill="#eb661f" stroke-linejoin="miter"/>
<path transform="translate(1057.60,2524.74)" d="M0.00,-8.50L-8.08,-2.63L-5.00,6.88L5.00,6.88L8.08,-2.63Z" fill="#eb661f" stroke-linejoin="miter"/>
<path transform="translate(1095.00,2524.74)" d="M0.00,-8.50L-8.08,-2.63L-5.00,6.88L5.00,6.88L8.08,-2.63Z" fill="#eb661f" stroke-linejoin="miter"/>
</g>
<polyline points="197.4,1995.8 234.8,1995.8 272.2,2008.8 309.6,2082.5 347.0,2204.2 384.4,2349.0 421.8,2438.0 459.2,2489.8 496.6,2490.9 534.0,2510.6 571.4,2513.2 608.8,2517.5 646.2,2520.7 683.6,2524.7 721.0,2521.8 758.4,2523.3 795.8,2522.1 833.2,2522.1 870.6,2520.1 908.0,2522.1 945.4,2522.1 982.8,2521.8 1020.2,2522.1 1057.6,2522.1 1095.0,2521.8" fill="none" stroke="#720099" stroke-width="5.2" stroke-linejoin="round" stroke-linecap="round"/>
<g stroke="#ffffff" stroke-width="6.0">
<path transform="translate(197.40,1995.78)" d="M0.00,-12.02L7.21,0.00L0.00,12.02L-7.21,0.00Z" fill="#720099" stroke-linejoin="miter"/>
<path transform="translate(234.80,1995.78)" d="M0.00,-12.02L7.21,0.00L0.00,12.02L-7.21,0.00Z" fill="#720099" stroke-linejoin="miter"/>
<path transform="translate(272.20,2008.79)" d="M0.00,-12.02L7.21,0.00L0.00,12.02L-7.21,0.00Z" fill="#720099" stroke-linejoin="miter"/>
<path transform="translate(309.60,2082.50)" d="M0.00,-12.02L7.21,0.00L0.00,12.02L-7.21,0.00Z" fill="#720099" stroke-linejoin="miter"/>
<path transform="translate(347.00,2204.18)" d="M0.00,-12.02L7.21,0.00L0.00,12.02L-7.21,0.00Z" fill="#720099" stroke-linejoin="miter"/>
<path transform="translate(384.40,2349.00)" d="M0.00,-12.02L7.21,0.00L0.00,12.02L-7.21,0.00Z" fill="#720099" stroke-linejoin="miter"/>
<path transform="translate(421.80,2438.02)" d="M0.00,-12.02L7.21,0.00L0.00,12.02L-7.21,0.00Z" fill="#720099" stroke-linejoin="miter"/>
<path transform="translate(459.20,2489.76)" d="M0.00,-12.02L7.21,0.00L0.00,12.02L-7.21,0.00Z" fill="#720099" stroke-linejoin="miter"/>
<path transform="translate(496.60,2490.92)" d="M0.00,-12.02L7.21,0.00L0.00,12.02L-7.21,0.00Z" fill="#720099" stroke-linejoin="miter"/>
<path transform="translate(534.00,2510.57)" d="M0.00,-12.02L7.21,0.00L0.00,12.02L-7.21,0.00Z" fill="#720099" stroke-linejoin="miter"/>
<path transform="translate(571.40,2513.18)" d="M0.00,-12.02L7.21,0.00L0.00,12.02L-7.21,0.00Z" fill="#720099" stroke-linejoin="miter"/>
<path transform="translate(608.80,2517.51)" d="M0.00,-12.02L7.21,0.00L0.00,12.02L-7.21,0.00Z" fill="#720099" stroke-linejoin="miter"/>
<path transform="translate(646.20,2520.69)" d="M0.00,-12.02L7.21,0.00L0.00,12.02L-7.21,0.00Z" fill="#720099" stroke-linejoin="miter"/>
<path transform="translate(683.60,2524.74)" d="M0.00,-12.02L7.21,0.00L0.00,12.02L-7.21,0.00Z" fill="#720099" stroke-linejoin="miter"/>
<path transform="translate(721.00,2521.85)" d="M0.00,-12.02L7.21,0.00L0.00,12.02L-7.21,0.00Z" fill="#720099" stroke-linejoin="miter"/>
<path transform="translate(758.40,2523.29)" d="M0.00,-12.02L7.21,0.00L0.00,12.02L-7.21,0.00Z" fill="#720099" stroke-linejoin="miter"/>
<path transform="translate(795.80,2522.14)" d="M0.00,-12.02L7.21,0.00L0.00,12.02L-7.21,0.00Z" fill="#720099" stroke-linejoin="miter"/>
<path transform="translate(833.20,2522.14)" d="M0.00,-12.02L7.21,0.00L0.00,12.02L-7.21,0.00Z" fill="#720099" stroke-linejoin="miter"/>
<path transform="translate(870.60,2520.11)" d="M0.00,-12.02L7.21,0.00L0.00,12.02L-7.21,0.00Z" fill="#720099" stroke-linejoin="miter"/>
<path transform="translate(908.00,2522.14)" d="M0.00,-12.02L7.21,0.00L0.00,12.02L-7.21,0.00Z" fill="#720099" stroke-linejoin="miter"/>
<path transform="translate(945.40,2522.14)" d="M0.00,-12.02L7.21,0.00L0.00,12.02L-7.21,0.00Z" fill="#720099" stroke-linejoin="miter"/>
<path transform="translate(982.80,2521.85)" d="M0.00,-12.02L7.21,0.00L0.00,12.02L-7.21,0.00Z" fill="#720099" stroke-linejoin="miter"/>
<path transform="translate(1020.20,2522.14)" d="M0.00,-12.02L7.21,0.00L0.00,12.02L-7.21,0.00Z" fill="#720099" stroke-linejoin="miter"/>
<path transform="translate(1057.60,2522.14)" d="M0.00,-12.02L7.21,0.00L0.00,12.02L-7.21,0.00Z" fill="#720099" stroke-linejoin="miter"/>
<path transform="translate(1095.00,2521.85)" d="M0.00,-12.02L7.21,0.00L0.00,12.02L-7.21,0.00Z" fill="#720099" stroke-linejoin="miter"/>
</g>
<polyline points="197.4,1997.5 234.8,1999.5 272.2,2015.7 309.6,2091.2 347.0,2231.1 384.4,2362.3 421.8,2447.6 459.2,2483.7 496.6,2508.6 534.0,2517.8 571.4,2521.0 608.8,2524.0 646.2,2525.0 683.6,2526.0 721.0,2527.1 758.4,2529.1 795.8,2528.5 833.2,2528.5 870.6,2528.5 908.0,2528.5 945.4,2528.5 982.8,2528.5 1020.2,2528.8 1057.6,2528.8 1095.0,2528.8" fill="none" stroke="#dc8b00" stroke-width="5.2" stroke-linejoin="round" stroke-linecap="round"/>
<g stroke="#ffffff" stroke-width="6.0">
<path transform="translate(197.40,1997.52)" d="M0.00,-8.50L-8.50,8.50L8.50,8.50Z" fill="#dc8b00" stroke-linejoin="miter"/>
<path transform="translate(234.80,1999.54)" d="M0.00,-8.50L-8.50,8.50L8.50,8.50Z" fill="#dc8b00" stroke-linejoin="miter"/>
<path transform="translate(272.20,2015.73)" d="M0.00,-8.50L-8.50,8.50L8.50,8.50Z" fill="#dc8b00" stroke-linejoin="miter"/>
<path transform="translate(309.60,2091.17)" d="M0.00,-8.50L-8.50,8.50L8.50,8.50Z" fill="#dc8b00" stroke-linejoin="miter"/>
<path transform="translate(347.00,2231.07)" d="M0.00,-8.50L-8.50,8.50L8.50,8.50Z" fill="#dc8b00" stroke-linejoin="miter"/>
<path transform="translate(384.40,2362.29)" d="M0.00,-8.50L-8.50,8.50L8.50,8.50Z" fill="#dc8b00" stroke-linejoin="miter"/>
<path transform="translate(421.80,2447.56)" d="M0.00,-8.50L-8.50,8.50L8.50,8.50Z" fill="#dc8b00" stroke-linejoin="miter"/>
<path transform="translate(459.20,2483.69)" d="M0.00,-8.50L-8.50,8.50L8.50,8.50Z" fill="#dc8b00" stroke-linejoin="miter"/>
<path transform="translate(496.60,2508.55)" d="M0.00,-8.50L-8.50,8.50L8.50,8.50Z" fill="#dc8b00" stroke-linejoin="miter"/>
<path transform="translate(534.00,2517.80)" d="M0.00,-8.50L-8.50,8.50L8.50,8.50Z" fill="#dc8b00" stroke-linejoin="miter"/>
<path transform="translate(571.40,2520.98)" d="M0.00,-8.50L-8.50,8.50L8.50,8.50Z" fill="#dc8b00" stroke-linejoin="miter"/>
<path transform="translate(608.80,2523.99)" d="M0.00,-8.50L-8.50,8.50L8.50,8.50Z" fill="#dc8b00" stroke-linejoin="miter"/>
<path transform="translate(646.20,2525.03)" d="M0.00,-8.50L-8.50,8.50L8.50,8.50Z" fill="#dc8b00" stroke-linejoin="miter"/>
<path transform="translate(683.60,2526.04)" d="M0.00,-8.50L-8.50,8.50L8.50,8.50Z" fill="#dc8b00" stroke-linejoin="miter"/>
<path transform="translate(721.00,2527.05)" d="M0.00,-8.50L-8.50,8.50L8.50,8.50Z" fill="#dc8b00" stroke-linejoin="miter"/>
<path transform="translate(758.40,2529.07)" d="M0.00,-8.50L-8.50,8.50L8.50,8.50Z" fill="#dc8b00" stroke-linejoin="miter"/>
<path transform="translate(795.80,2528.50)" d="M0.00,-8.50L-8.50,8.50L8.50,8.50Z" fill="#dc8b00" stroke-linejoin="miter"/>
<path transform="translate(833.20,2528.50)" d="M0.00,-8.50L-8.50,8.50L8.50,8.50Z" fill="#dc8b00" stroke-linejoin="miter"/>
<path transform="translate(870.60,2528.50)" d="M0.00,-8.50L-8.50,8.50L8.50,8.50Z" fill="#dc8b00" stroke-linejoin="miter"/>
<path transform="translate(908.00,2528.50)" d="M0.00,-8.50L-8.50,8.50L8.50,8.50Z" fill="#dc8b00" stroke-linejoin="miter"/>
<path transform="translate(945.40,2528.50)" d="M0.00,-8.50L-8.50,8.50L8.50,8.50Z" fill="#dc8b00" stroke-linejoin="miter"/>
<path transform="translate(982.80,2528.50)" d="M0.00,-8.50L-8.50,8.50L8.50,8.50Z" fill="#dc8b00" stroke-linejoin="miter"/>
<path transform="translate(1020.20,2528.78)" d="M0.00,-8.50L-8.50,8.50L8.50,8.50Z" fill="#dc8b00" stroke-linejoin="miter"/>
<path transform="translate(1057.60,2528.78)" d="M0.00,-8.50L-8.50,8.50L8.50,8.50Z" fill="#dc8b00" stroke-linejoin="miter"/>
<path transform="translate(1095.00,2528.78)" d="M0.00,-8.50L-8.50,8.50L8.50,8.50Z" fill="#dc8b00" stroke-linejoin="miter"/>
</g>
</g>
<rect x="160" y="1990" width="935" height="607" fill="none" stroke="#cccccc" stroke-width="3.8"/>
<text transform="translate(133.5,2607.6) scale(1,1.04)" font-size="28" text-anchor="end">0.00</text>
<text transform="translate(133.5,2535.3) scale(1,1.04)" font-size="28" text-anchor="end">0.25</text>
<text transform="translate(133.5,2463.1) scale(1,1.04)" font-size="28" text-anchor="end">0.50</text>
<text transform="translate(133.5,2390.8) scale(1,1.04)" font-size="28" text-anchor="end">0.75</text>
<text transform="translate(133.5,2318.6) scale(1,1.04)" font-size="28" text-anchor="end">1.00</text>
<text transform="translate(133.5,2246.3) scale(1,1.04)" font-size="28" text-anchor="end">1.25</text>
<text transform="translate(133.5,2174.0) scale(1,1.04)" font-size="28" text-anchor="end">1.50</text>
<text transform="translate(133.5,2101.8) scale(1,1.04)" font-size="28" text-anchor="end">1.75</text>
<text transform="translate(133.5,2029.5) scale(1,1.04)" font-size="28" text-anchor="end">2.00</text>
<text transform="translate(160.0,2644.0) scale(1,1.04)" font-size="28" text-anchor="middle">0</text>
<text transform="translate(347.0,2644.0) scale(1,1.04)" font-size="28" text-anchor="middle">5</text>
<text transform="translate(534.0,2644.0) scale(1,1.04)" font-size="28" text-anchor="middle">10</text>
<text transform="translate(721.0,2644.0) scale(1,1.04)" font-size="28" text-anchor="middle">15</text>
<text transform="translate(908.0,2644.0) scale(1,1.04)" font-size="28" text-anchor="middle">20</text>
<text transform="translate(1095.0,2644.0) scale(1,1.04)" font-size="28" text-anchor="middle">25</text>
<text transform="translate(628.5,2685.0) scale(1,1.04)" font-size="33.3" text-anchor="middle">Iterations</text>
<text transform="translate(64.0,2297.0) rotate(-90) scale(1,1.04)" font-size="33.3" text-anchor="middle">Integrated_nbll</text>
<rect x="764.8" y="2004.7" width="316.3" height="325.7" rx="5.6" ry="5.6" fill="#ffffff" fill-opacity="0.8" stroke="#cccccc" stroke-width="2.3" stroke-opacity="0.9"/>
<line x1="775.0" y1="2025.7" x2="831.0" y2="2025.7" stroke="#67cf66" stroke-width="5.2" stroke-linecap="round"/>
<g stroke="#ffffff" stroke-width="6.0"><path transform="translate(803.00,2025.70)" d="M0.00,-8.50L-8.50,8.50L8.50,8.50Z" fill="#67cf66" stroke-linejoin="miter"/></g>
<text transform="translate(852.5,2035.9) scale(1,1.04)" font-size="28">NbAFL</text>
<line x1="775.0" y1="2065.4" x2="831.0" y2="2065.4" stroke="#048457" stroke-width="5.2" stroke-linecap="round"/>
<g stroke="#ffffff" stroke-width="6.0"><path transform="translate(803.00,2065.45)" d="M-8.50,-8.50L8.50,-8.50L8.50,8.50L-8.50,8.50Z" fill="#048457" stroke-linejoin="miter"/></g>
<text transform="translate(852.5,2075.6) scale(1,1.04)" font-size="28">ROW-DP(Std)</text>
<line x1="775.0" y1="2105.2" x2="831.0" y2="2105.2" stroke="#e8c41f" stroke-width="5.2" stroke-linecap="round"/>
<g stroke="#ffffff" stroke-width="6.0"><path transform="translate(803.00,2105.20)" d="M0.00,-8.50L-7.36,-4.25L-7.36,4.25L-0.00,8.50L7.36,4.25L7.36,-4.25Z" fill="#e8c41f" stroke-linejoin="miter"/></g>
<text transform="translate(852.5,2115.4) scale(1,1.04)" font-size="28">ROW-DP(Var)</text>
<line x1="775.0" y1="2144.9" x2="831.0" y2="2144.9" stroke="#b4a4ca" stroke-width="5.2" stroke-linecap="round"/>
<g stroke="#ffffff" stroke-width="6.0"><circle cx="803.00" cy="2144.95" r="8.50" fill="#b4a4ca"/></g>
<text transform="translate(852.5,2155.1) scale(1,1.04)" font-size="28">ROW-DP(Range)</text>
<line x1="775.0" y1="2184.7" x2="831.0" y2="2184.7" stroke="#fde2cf" stroke-width="5.2" stroke-linecap="round"/>
<g stroke="#ffffff" stroke-width="6.0"><circle cx="803.00" cy="2184.70" r="8.50" fill="#fde2cf"/></g>
<text transform="translate(852.5,2194.9) scale(1,1.04)" font-size="28">ROW-DP(MAE)</text>
<line x1="775.0" y1="2224.4" x2="831.0" y2="2224.4" stroke="#eb661f" stroke-width="5.2" stroke-linecap="round"/>
<g stroke="#ffffff" stroke-width="6.0"><path transform="translate(803.00,2224.45)" d="M0.00,-8.50L-8.08,-2.63L-5.00,6.88L5.00,6.88L8.08,-2.63Z" fill="#eb661f" stroke-linejoin="miter"/></g>
<text transform="translate(852.5,2234.6) scale(1,1.04)" font-size="28">ROW-DP(IQR)</text>
<line x1="775.0" y1="2264.2" x2="831.0" y2="2264.2" stroke="#720099" stroke-width="5.2" stroke-linecap="round"/>
<g stroke="#ffffff" stroke-width="6.0"><path transform="translate(803.00,2264.20)" d="M0.00,-12.02L7.21,0.00L0.00,12.02L-7.21,0.00Z" fill="#720099" stroke-linejoin="miter"/></g>
<text transform="translate(852.5,2274.4) scale(1,1.04)" font-size="28">LS-ADP</text>
<line x1="775.0" y1="2303.9" x2="831.0" y2="2303.9" stroke="#dc8b00" stroke-width="5.2" stroke-linecap="round"/>
<g stroke="#ffffff" stroke-width="6.0"><path transform="translate(803.00,2303.95)" d="M0.00,-8.50L-8.50,8.50L8.50,8.50Z" fill="#dc8b00" stroke-linejoin="miter"/></g>
<text transform="translate(852.5,2314.1) scale(1,1.04)" font-size="28">Nopd</text>
<path d="M1561.00,1990 V2597 M1748.00,1990 V2597 M1935.00,1990 V2597 M2122.00,1990 V2597 M1374,2475.60 H2309 M1374,2354.20 H2309 M1374,2232.80 H2309 M1374,2111.40 H2309" stroke="#cccccc" stroke-width="2.4" fill="none"/>
<g clip-path="url(#c21)">
<polyline points="1411.4,2056.2 1448.8,2056.2 1486.2,2057.4 1523.6,2067.7 1561.0,2117.5 1598.4,2214.6 1635.8,2317.8 1673.2,2378.5 1710.6,2427.0 1748.0,2451.3 1785.4,2457.4 1822.8,2475.6 1860.2,2487.7 1897.6,2493.8 1935.0,2493.8 1972.4,2493.8 2009.8,2499.9 2047.2,2499.9 2084.6,2499.9 2122.0,2499.9 2159.4,2499.9 2196.8,2499.9 2234.2,2499.9 2271.6,2505.9 2309.0,2505.9" fill="none" stroke="#67cf66" stroke-width="5.2" stroke-linejoin="round" stroke-linecap="round"/>
<g stroke="#ffffff" stroke-width="6.0">
<path transform="translate(1411.40,2056.16)" d="M0.00,-8.50L-8.50,8.50L8.50,8.50Z" fill="#67cf66" stroke-linejoin="miter"/>
<path transform="translate(1448.80,2056.16)" d="M0.00,-8.50L-8.50,8.50L8.50,8.50Z" fill="#67cf66" stroke-linejoin="miter"/>
<path transform="translate(1486.20,2057.38)" d="M0.00,-8.50L-8.50,8.50L8.50,8.50Z" fill="#67cf66" stroke-linejoin="miter"/>
<path transform="translate(1523.60,2067.70)" d="M0.00,-8.50L-8.50,8.50L8.50,8.50Z" fill="#67cf66" stroke-linejoin="miter"/>
<path transform="translate(1561.00,2117.47)" d="M0.00,-8.50L-8.50,8.50L8.50,8.50Z" fill="#67cf66" stroke-linejoin="miter"/>
<path transform="translate(1598.40,2214.59)" d="M0.00,-8.50L-8.50,8.50L8.50,8.50Z" fill="#67cf66" stroke-linejoin="miter"/>
<path transform="translate(1635.80,2317.78)" d="M0.00,-8.50L-8.50,8.50L8.50,8.50Z" fill="#67cf66" stroke-linejoin="miter"/>
<path transform="translate(1673.20,2378.48)" d="M0.00,-8.50L-8.50,8.50L8.50,8.50Z" fill="#67cf66" stroke-linejoin="miter"/>
<path transform="translate(1710.60,2427.04)" d="M0.00,-8.50L-8.50,8.50L8.50,8.50Z" fill="#67cf66" stroke-linejoin="miter"/>
<path transform="translate(1748.00,2451.32)" d="M0.00,-8.50L-8.50,8.50L8.50,8.50Z" fill="#67cf66" stroke-linejoin="miter"/>
<path transform="translate(1785.40,2457.39)" d="M0.00,-8.50L-8.50,8.50L8.50,8.50Z" fill="#67cf66" stroke-linejoin="miter"/>
<path transform="translate(1822.80,2475.60)" d="M0.00,-8.50L-8.50,8.50L8.50,8.50Z" fill="#67cf66" stroke-linejoin="miter"/>
<path transform="translate(1860.20,2487.74)" d="M0.00,-8.50L-8.50,8.50L8.50,8.50Z" fill="#67cf66" stroke-linejoin="miter"/>
<path transform="translate(1897.60,2493.81)" d="M0.00,-8.50L-8.50,8.50L8.50,8.50Z" fill="#67cf66" stroke-linejoin="miter"/>
<path transform="translate(1935.00,2493.81)" d="M0.00,-8.50L-8.50,8.50L8.50,8.50Z" fill="#67cf66" stroke-linejoin="miter"/>
<path transform="translate(1972.40,2493.81)" d="M0.00,-8.50L-8.50,8.50L8.50,8.50Z" fill="#67cf66" stroke-linejoin="miter"/>
<path transform="translate(2009.80,2499.88)" d="M0.00,-8.50L-8.50,8.50L8.50,8.50Z" fill="#67cf66" stroke-linejoin="miter"/>
<path transform="translate(2047.20,2499.88)" d="M0.00,-8.50L-8.50,8.50L8.50,8.50Z" fill="#67cf66" stroke-linejoin="miter"/>
<path transform="translate(2084.60,2499.88)" d="M0.00,-8.50L-8.50,8.50L8.50,8.50Z" fill="#67cf66" stroke-linejoin="miter"/>
<path transform="translate(2122.00,2499.88)" d="M0.00,-8.50L-8.50,8.50L8.50,8.50Z" fill="#67cf66" stroke-linejoin="miter"/>
<path transform="translate(2159.40,2499.88)" d="M0.00,-8.50L-8.50,8.50L8.50,8.50Z" fill="#67cf66" stroke-linejoin="miter"/>
<path transform="translate(2196.80,2499.88)" d="M0.00,-8.50L-8.50,8.50L8.50,8.50Z" fill="#67cf66" stroke-linejoin="miter"/>
<path transform="translate(2234.20,2499.88)" d="M0.00,-8.50L-8.50,8.50L8.50,8.50Z" fill="#67cf66" stroke-linejoin="miter"/>
<path transform="translate(2271.60,2505.95)" d="M0.00,-8.50L-8.50,8.50L8.50,8.50Z" fill="#67cf66" stroke-linejoin="miter"/>
<path transform="translate(2309.00,2505.95)" d="M0.00,-8.50L-8.50,8.50L8.50,8.50Z" fill="#67cf66" stroke-linejoin="miter"/>
</g>
<polyline points="1411.4,2056.2 1448.8,2056.2 1486.2,2057.4 1523.6,2067.7 1561.0,2114.4 1598.4,2208.5 1635.8,2305.6 1673.2,2354.2 1710.6,2397.3 1748.0,2454.4 1785.4,2472.6 1822.8,2475.6 1860.2,2479.2 1897.6,2480.5 1935.0,2479.2 1972.4,2487.7 2009.8,2493.8 2047.2,2493.8 2084.6,2493.8 2122.0,2493.8 2159.4,2493.8 2196.8,2499.9 2234.2,2499.9 2271.6,2499.9 2309.0,2505.9" fill="none" stroke="#048457" stroke-width="5.2" stroke-linejoin="round" stroke-linecap="round"/>
<g stroke="#ffffff" stroke-width="6.0">
<path transform="translate(1411.40,2056.16)" d="M-8.50,-8.50L8.50,-8.50L8.50,8.50L-8.50,8.50Z" fill="#048457" stroke-linejoin="miter"/>
<path transform="translate(1448.80,2056.16)" d="M-8.50,-8.50L8.50,-8.50L8.50,8.50L-8.50,8.50Z" fill="#048457" stroke-linejoin="miter"/>
<path transform="translate(1486.20,2057.38)" d="M-8.50,-8.50L8.50,-8.50L8.50,8.50L-8.50,8.50Z" fill="#048457" stroke-linejoin="miter"/>
<path transform="translate(1523.60,2067.70)" d="M-8.50,-8.50L8.50,-8.50L8.50,8.50L-8.50,8.50Z" fill="#048457" stroke-linejoin="miter"/>
<path transform="translate(1561.00,2114.43)" d="M-8.50,-8.50L8.50,-8.50L8.50,8.50L-8.50,8.50Z" fill="#048457" stroke-linejoin="miter"/>
<path transform="translate(1598.40,2208.52)" d="M-8.50,-8.50L8.50,-8.50L8.50,8.50L-8.50,8.50Z" fill="#048457" stroke-linejoin="miter"/>
<path transform="translate(1635.80,2305.64)" d="M-8.50,-8.50L8.50,-8.50L8.50,8.50L-8.50,8.50Z" fill="#048457" stroke-linejoin="miter"/>
<path transform="translate(1673.20,2354.20)" d="M-8.50,-8.50L8.50,-8.50L8.50,8.50L-8.50,8.50Z" fill="#048457" stroke-linejoin="miter"/>
<path transform="translate(1710.60,2397.30)" d="M-8.50,-8.50L8.50,-8.50L8.50,8.50L-8.50,8.50Z" fill="#048457" stroke-linejoin="miter"/>
<path transform="translate(1748.00,2454.36)" d="M-8.50,-8.50L8.50,-8.50L8.50,8.50L-8.50,8.50Z" fill="#048457" stroke-linejoin="miter"/>
<path transform="translate(1785.40,2472.57)" d="M-8.50,-8.50L8.50,-8.50L8.50,8.50L-8.50,8.50Z" fill="#048457" stroke-linejoin="miter"/>
<path transform="translate(1822.80,2475.60)" d="M-8.50,-8.50L8.50,-8.50L8.50,8.50L-8.50,8.50Z" fill="#048457" stroke-linejoin="miter"/>
<path transform="translate(1860.20,2479.24)" d="M-8.50,-8.50L8.50,-8.50L8.50,8.50L-8.50,8.50Z" fill="#048457" stroke-linejoin="miter"/>
<path transform="translate(1897.60,2480.46)" d="M-8.50,-8.50L8.50,-8.50L8.50,8.50L-8.50,8.50Z" fill="#048457" stroke-linejoin="miter"/>
<path transform="translate(1935.00,2479.24)" d="M-8.50,-8.50L8.50,-8.50L8.50,8.50L-8.50,8.50Z" fill="#048457" stroke-linejoin="miter"/>
<path transform="translate(1972.40,2487.74)" d="M-8.50,-8.50L8.50,-8.50L8.50,8.50L-8.50,8.50Z" fill="#048457" stroke-linejoin="miter"/>
<path transform="translate(2009.80,2493.81)" d="M-8.50,-8.50L8.50,-8.50L8.50,8.50L-8.50,8.50Z" fill="#048457" stroke-linejoin="miter"/>
<path transform="translate(2047.20,2493.81)" d="M-8.50,-8.50L8.50,-8.50L8.50,8.50L-8.50,8.50Z" fill="#048457" stroke-linejoin="miter"/>
<path transform="translate(2084.60,2493.81)" d="M-8.50,-8.50L8.50,-8.50L8.50,8.50L-8.50,8.50Z" fill="#048457" stroke-linejoin="miter"/>
<path transform="translate(2122.00,2493.81)" d="M-8.50,-8.50L8.50,-8.50L8.50,8.50L-8.50,8.50Z" fill="#048457" stroke-linejoin="miter"/>
<path transform="translate(2159.40,2493.81)" d="M-8.50,-8.50L8.50,-8.50L8.50,8.50L-8.50,8.50Z" fill="#048457" stroke-linejoin="miter"/>
<path transform="translate(2196.80,2499.88)" d="M-8.50,-8.50L8.50,-8.50L8.50,8.50L-8.50,8.50Z" fill="#048457" stroke-linejoin="miter"/>
<path transform="translate(2234.20,2499.88)" d="M-8.50,-8.50L8.50,-8.50L8.50,8.50L-8.50,8.50Z" fill="#048457" stroke-linejoin="miter"/>
<path transform="translate(2271.60,2499.88)" d="M-8.50,-8.50L8.50,-8.50L8.50,8.50L-8.50,8.50Z" fill="#048457" stroke-linejoin="miter"/>
<path transform="translate(2309.00,2505.95)" d="M-8.50,-8.50L8.50,-8.50L8.50,8.50L-8.50,8.50Z" fill="#048457" stroke-linejoin="miter"/>
</g>
<polyline points="1411.4,2056.2 1448.8,2056.2 1486.2,2057.4 1523.6,2066.5 1561.0,2108.4 1598.4,2190.3 1635.8,2299.6 1673.2,2366.3 1710.6,2414.9 1748.0,2476.8 1785.4,2489.0 1822.8,2505.3 1860.2,2493.8 1897.6,2512.0 1935.0,2499.9 1972.4,2499.9 2009.8,2522.9 2047.2,2499.9 2084.6,2499.9 2122.0,2499.9 2159.4,2499.9 2196.8,2505.9 2234.2,2505.9 2271.6,2505.9 2309.0,2518.1" fill="none" stroke="#e8c41f" stroke-width="5.2" stroke-linejoin="round" stroke-linecap="round"/>
<g stroke="#ffffff" stroke-width="6.0">
<path transform="translate(1411.40,2056.16)" d="M0.00,-8.50L-7.36,-4.25L-7.36,4.25L-0.00,8.50L7.36,4.25L7.36,-4.25Z" fill="#e8c41f" stroke-linejoin="miter"/>
<path transform="translate(1448.80,2056.16)" d="M0.00,-8.50L-7.36,-4.25L-7.36,4.25L-0.00,8.50L7.36,4.25L7.36,-4.25Z" fill="#e8c41f" stroke-linejoin="miter"/>
<path transform="translate(1486.20,2057.38)" d="M0.00,-8.50L-7.36,-4.25L-7.36,4.25L-0.00,8.50L7.36,4.25L7.36,-4.25Z" fill="#e8c41f" stroke-linejoin="miter"/>
<path transform="translate(1523.60,2066.48)" d="M0.00,-8.50L-7.36,-4.25L-7.36,4.25L-0.00,8.50L7.36,4.25L7.36,-4.25Z" fill="#e8c41f" stroke-linejoin="miter"/>
<path transform="translate(1561.00,2108.37)" d="M0.00,-8.50L-7.36,-4.25L-7.36,4.25L-0.00,8.50L7.36,4.25L7.36,-4.25Z" fill="#e8c41f" stroke-linejoin="miter"/>
<path transform="translate(1598.40,2190.31)" d="M0.00,-8.50L-7.36,-4.25L-7.36,4.25L-0.00,8.50L7.36,4.25L7.36,-4.25Z" fill="#e8c41f" stroke-linejoin="miter"/>
<path transform="translate(1635.80,2299.57)" d="M0.00,-8.50L-7.36,-4.25L-7.36,4.25L-0.00,8.50L7.36,4.25L7.36,-4.25Z" fill="#e8c41f" stroke-linejoin="miter"/>
<path transform="translate(1673.20,2366.34)" d="M0.00,-8.50L-7.36,-4.25L-7.36,4.25L-0.00,8.50L7.36,4.25L7.36,-4.25Z" fill="#e8c41f" stroke-linejoin="miter"/>
<path transform="translate(1710.60,2414.90)" d="M0.00,-8.50L-7.36,-4.25L-7.36,4.25L-0.00,8.50L7.36,4.25L7.36,-4.25Z" fill="#e8c41f" stroke-linejoin="miter"/>
<path transform="translate(1748.00,2476.81)" d="M0.00,-8.50L-7.36,-4.25L-7.36,4.25L-0.00,8.50L7.36,4.25L7.36,-4.25Z" fill="#e8c41f" stroke-linejoin="miter"/>
<path transform="translate(1785.40,2488.95)" d="M0.00,-8.50L-7.36,-4.25L-7.36,4.25L-0.00,8.50L7.36,4.25L7.36,-4.25Z" fill="#e8c41f" stroke-linejoin="miter"/>
<path transform="translate(1822.80,2505.34)" d="M0.00,-8.50L-7.36,-4.25L-7.36,4.25L-0.00,8.50L7.36,4.25L7.36,-4.25Z" fill="#e8c41f" stroke-linejoin="miter"/>
<path transform="translate(1860.20,2493.81)" d="M0.00,-8.50L-7.36,-4.25L-7.36,4.25L-0.00,8.50L7.36,4.25L7.36,-4.25Z" fill="#e8c41f" stroke-linejoin="miter"/>
<path transform="translate(1897.60,2512.02)" d="M0.00,-8.50L-7.36,-4.25L-7.36,4.25L-0.00,8.50L7.36,4.25L7.36,-4.25Z" fill="#e8c41f" stroke-linejoin="miter"/>
<path transform="translate(1935.00,2499.88)" d="M0.00,-8.50L-7.36,-4.25L-7.36,4.25L-0.00,8.50L7.36,4.25L7.36,-4.25Z" fill="#e8c41f" stroke-linejoin="miter"/>
<path transform="translate(1972.40,2499.88)" d="M0.00,-8.50L-7.36,-4.25L-7.36,4.25L-0.00,8.50L7.36,4.25L7.36,-4.25Z" fill="#e8c41f" stroke-linejoin="miter"/>
<path transform="translate(2009.80,2522.95)" d="M0.00,-8.50L-7.36,-4.25L-7.36,4.25L-0.00,8.50L7.36,4.25L7.36,-4.25Z" fill="#e8c41f" stroke-linejoin="miter"/>
<path transform="translate(2047.20,2499.88)" d="M0.00,-8.50L-7.36,-4.25L-7.36,4.25L-0.00,8.50L7.36,4.25L7.36,-4.25Z" fill="#e8c41f" stroke-linejoin="miter"/>
<path transform="translate(2084.60,2499.88)" d="M0.00,-8.50L-7.36,-4.25L-7.36,4.25L-0.00,8.50L7.36,4.25L7.36,-4.25Z" fill="#e8c41f" stroke-linejoin="miter"/>
<path transform="translate(2122.00,2499.88)" d="M0.00,-8.50L-7.36,-4.25L-7.36,4.25L-0.00,8.50L7.36,4.25L7.36,-4.25Z" fill="#e8c41f" stroke-linejoin="miter"/>
<path transform="translate(2159.40,2499.88)" d="M0.00,-8.50L-7.36,-4.25L-7.36,4.25L-0.00,8.50L7.36,4.25L7.36,-4.25Z" fill="#e8c41f" stroke-linejoin="miter"/>
<path transform="translate(2196.80,2505.95)" d="M0.00,-8.50L-7.36,-4.25L-7.36,4.25L-0.00,8.50L7.36,4.25L7.36,-4.25Z" fill="#e8c41f" stroke-linejoin="miter"/>
<path transform="translate(2234.20,2505.95)" d="M0.00,-8.50L-7.36,-4.25L-7.36,4.25L-0.00,8.50L7.36,4.25L7.36,-4.25Z" fill="#e8c41f" stroke-linejoin="miter"/>
<path transform="translate(2271.60,2505.95)" d="M0.00,-8.50L-7.36,-4.25L-7.36,4.25L-0.00,8.50L7.36,4.25L7.36,-4.25Z" fill="#e8c41f" stroke-linejoin="miter"/>
<path transform="translate(2309.00,2518.09)" d="M0.00,-8.50L-7.36,-4.25L-7.36,4.25L-0.00,8.50L7.36,4.25L7.36,-4.25Z" fill="#e8c41f" stroke-linejoin="miter"/>
</g>
<polyline points="1411.4,2056.2 1448.8,2056.2 1486.2,2057.4 1523.6,2067.7 1561.0,2114.4 1598.4,2208.5 1635.8,2309.3 1673.2,2366.3 1710.6,2411.9 1748.0,2441.0 1785.4,2458.6 1822.8,2469.5 1860.2,2487.7 1897.6,2487.7 1935.0,2493.8 1972.4,2493.8 2009.8,2482.9 2047.2,2493.8 2084.6,2518.7 2122.0,2493.8 2159.4,2493.8 2196.8,2493.8 2234.2,2487.7 2271.6,2487.7 2309.0,2499.9" fill="none" stroke="#b4a4ca" stroke-width="5.2" stroke-linejoin="round" stroke-linecap="round"/>
<g stroke="#ffffff" stroke-width="6.0">
<circle cx="1411.40" cy="2056.16" r="8.50" fill="#b4a4ca"/>
<circle cx="1448.80" cy="2056.16" r="8.50" fill="#b4a4ca"/>
<circle cx="1486.20" cy="2057.38" r="8.50" fill="#b4a4ca"/>
<circle cx="1523.60" cy="2067.70" r="8.50" fill="#b4a4ca"/>
<circle cx="1561.00" cy="2114.43" r="8.50" fill="#b4a4ca"/>
<circle cx="1598.40" cy="2208.52" r="8.50" fill="#b4a4ca"/>
<circle cx="1635.80" cy="2309.28" r="8.50" fill="#b4a4ca"/>
<circle cx="1673.20" cy="2366.34" r="8.50" fill="#b4a4ca"/>
<circle cx="1710.60" cy="2411.87" r="8.50" fill="#b4a4ca"/>
<circle cx="1748.00" cy="2441.00" r="8.50" fill="#b4a4ca"/>
<circle cx="1785.40" cy="2458.60" r="8.50" fill="#b4a4ca"/>
<circle cx="1822.80" cy="2469.53" r="8.50" fill="#b4a4ca"/>
<circle cx="1860.20" cy="2487.74" r="8.50" fill="#b4a4ca"/>
<circle cx="1897.60" cy="2487.74" r="8.50" fill="#b4a4ca"/>
<circle cx="1935.00" cy="2493.81" r="8.50" fill="#b4a4ca"/>
<circle cx="1972.40" cy="2493.81" r="8.50" fill="#b4a4ca"/>
<circle cx="2009.80" cy="2482.88" r="8.50" fill="#b4a4ca"/>
<circle cx="2047.20" cy="2493.81" r="8.50" fill="#b4a4ca"/>
<circle cx="2084.60" cy="2518.70" r="8.50" fill="#b4a4ca"/>
<circle cx="2122.00" cy="2493.81" r="8.50" fill="#b4a4ca"/>
<circle cx="2159.40" cy="2493.81" r="8.50" fill="#b4a4ca"/>
<circle cx="2196.80" cy="2493.81" r="8.50" fill="#b4a4ca"/>
<circle cx="2234.20" cy="2487.74" r="8.50" fill="#b4a4ca"/>
<circle cx="2271.60" cy="2487.74" r="8.50" fill="#b4a4ca"/>
<circle cx="2309.00" cy="2499.88" r="8.50" fill="#b4a4ca"/>
</g>
<polyline points="1411.4,2056.2 1448.8,2056.2 1486.2,2057.4 1523.6,2067.7 1561.0,2111.4 1598.4,2194.6 1635.8,2296.5 1673.2,2351.8 1710.6,2414.9 1748.0,2468.3 1785.4,2475.6 1822.8,2475.6 1860.2,2476.8 1897.6,2487.7 1935.0,2493.8 1972.4,2493.8 2009.8,2493.8 2047.2,2493.8 2084.6,2493.8 2122.0,2493.8 2159.4,2493.8 2196.8,2493.8 2234.2,2490.8 2271.6,2493.8 2309.0,2499.9" fill="none" stroke="#fde2cf" stroke-width="5.2" stroke-linejoin="round" stroke-linecap="round"/>
<g stroke="#ffffff" stroke-width="6.0">
<circle cx="1411.40" cy="2056.16" r="8.50" fill="#fde2cf"/>
<circle cx="1448.80" cy="2056.16" r="8.50" fill="#fde2cf"/>
<circle cx="1486.20" cy="2057.38" r="8.50" fill="#fde2cf"/>
<circle cx="1523.60" cy="2067.70" r="8.50" fill="#fde2cf"/>
<circle cx="1561.00" cy="2111.40" r="8.50" fill="#fde2cf"/>
<circle cx="1598.40" cy="2194.56" r="8.50" fill="#fde2cf"/>
<circle cx="1635.80" cy="2296.53" r="8.50" fill="#fde2cf"/>
<circle cx="1673.20" cy="2351.77" r="8.50" fill="#fde2cf"/>
<circle cx="1710.60" cy="2414.90" r="8.50" fill="#fde2cf"/>
<circle cx="1748.00" cy="2468.32" r="8.50" fill="#fde2cf"/>
<circle cx="1785.40" cy="2475.60" r="8.50" fill="#fde2cf"/>
<circle cx="1822.80" cy="2475.60" r="8.50" fill="#fde2cf"/>
<circle cx="1860.20" cy="2476.81" r="8.50" fill="#fde2cf"/>
<circle cx="1897.60" cy="2487.74" r="8.50" fill="#fde2cf"/>
<circle cx="1935.00" cy="2493.81" r="8.50" fill="#fde2cf"/>
<circle cx="1972.40" cy="2493.81" r="8.50" fill="#fde2cf"/>
<circle cx="2009.80" cy="2493.81" r="8.50" fill="#fde2cf"/>
<circle cx="2047.20" cy="2493.81" r="8.50" fill="#fde2cf"/>
<circle cx="2084.60" cy="2493.81" r="8.50" fill="#fde2cf"/>
<circle cx="2122.00" cy="2493.81" r="8.50" fill="#fde2cf"/>
<circle cx="2159.40" cy="2493.81" r="8.50" fill="#fde2cf"/>
<circle cx="2196.80" cy="2493.81" r="8.50" fill="#fde2cf"/>
<circle cx="2234.20" cy="2490.78" r="8.50" fill="#fde2cf"/>
<circle cx="2271.60" cy="2493.81" r="8.50" fill="#fde2cf"/>
<circle cx="2309.00" cy="2499.88" r="8.50" fill="#fde2cf"/>
</g>
<polyline points="1411.4,2056.2 1448.8,2056.2 1486.2,2057.4 1523.6,2065.9 1561.0,2103.5 1598.4,2176.3 1635.8,2292.3 1673.2,2372.4 1710.6,2414.9 1748.0,2461.0 1785.4,2463.5 1822.8,2466.5 1860.2,2475.6 1897.6,2493.8 1935.0,2493.8 1972.4,2495.6 2009.8,2487.7 2047.2,2478.6 2084.6,2487.7 2122.0,2496.8 2159.4,2499.9 2196.8,2521.1 2234.2,2505.9 2271.6,2505.9 2309.0,2505.9" fill="none" stroke="#eb661f" stroke-width="5.2" stroke-linejoin="round" stroke-linecap="round"/>
<g stroke="#ffffff" stroke-width="6.0">
<path transform="translate(1411.40,2056.16)" d="M0.00,-8.50L-8.08,-2.63L-5.00,6.88L5.00,6.88L8.08,-2.63Z" fill="#eb661f" stroke-linejoin="miter"/>
<path transform="translate(1448.80,2056.16)" d="M0.00,-8.50L-8.08,-2.63L-5.00,6.88L5.00,6.88L8.08,-2.63Z" fill="#eb661f" stroke-linejoin="miter"/>
<path transform="translate(1486.20,2057.38)" d="M0.00,-8.50L-8.08,-2.63L-5.00,6.88L5.00,6.88L8.08,-2.63Z" fill="#eb661f" stroke-linejoin="miter"/>
<path transform="translate(1523.60,2065.88)" d="M0.00,-8.50L-8.08,-2.63L-5.00,6.88L5.00,6.88L8.08,-2.63Z" fill="#eb661f" stroke-linejoin="miter"/>
<path transform="translate(1561.00,2103.51)" d="M0.00,-8.50L-8.08,-2.63L-5.00,6.88L5.00,6.88L8.08,-2.63Z" fill="#eb661f" stroke-linejoin="miter"/>
<path transform="translate(1598.40,2176.35)" d="M0.00,-8.50L-8.08,-2.63L-5.00,6.88L5.00,6.88L8.08,-2.63Z" fill="#eb661f" stroke-linejoin="miter"/>
<path transform="translate(1635.80,2292.29)" d="M0.00,-8.50L-8.08,-2.63L-5.00,6.88L5.00,6.88L8.08,-2.63Z" fill="#eb661f" stroke-linejoin="miter"/>
<path transform="translate(1673.20,2372.41)" d="M0.00,-8.50L-8.08,-2.63L-5.00,6.88L5.00,6.88L8.08,-2.63Z" fill="#eb661f" stroke-linejoin="miter"/>
<path transform="translate(1710.60,2414.90)" d="M0.00,-8.50L-8.08,-2.63L-5.00,6.88L5.00,6.88L8.08,-2.63Z" fill="#eb661f" stroke-linejoin="miter"/>
<path transform="translate(1748.00,2461.03)" d="M0.00,-8.50L-8.08,-2.63L-5.00,6.88L5.00,6.88L8.08,-2.63Z" fill="#eb661f" stroke-linejoin="miter"/>
<path transform="translate(1785.40,2463.46)" d="M0.00,-8.50L-8.08,-2.63L-5.00,6.88L5.00,6.88L8.08,-2.63Z" fill="#eb661f" stroke-linejoin="miter"/>
<path transform="translate(1822.80,2466.49)" d="M0.00,-8.50L-8.08,-2.63L-5.00,6.88L5.00,6.88L8.08,-2.63Z" fill="#eb661f" stroke-linejoin="miter"/>
<path transform="translate(1860.20,2475.60)" d="M0.00,-8.50L-8.08,-2.63L-5.00,6.88L5.00,6.88L8.08,-2.63Z" fill="#eb661f" stroke-linejoin="miter"/>
<path transform="translate(1897.60,2493.81)" d="M0.00,-8.50L-8.08,-2.63L-5.00,6.88L5.00,6.88L8.08,-2.63Z" fill="#eb661f" stroke-linejoin="miter"/>
<path transform="translate(1935.00,2493.81)" d="M0.00,-8.50L-8.08,-2.63L-5.00,6.88L5.00,6.88L8.08,-2.63Z" fill="#eb661f" stroke-linejoin="miter"/>
<path transform="translate(1972.40,2495.63)" d="M0.00,-8.50L-8.08,-2.63L-5.00,6.88L5.00,6.88L8.08,-2.63Z" fill="#eb661f" stroke-linejoin="miter"/>
<path transform="translate(2009.80,2487.74)" d="M0.00,-8.50L-8.08,-2.63L-5.00,6.88L5.00,6.88L8.08,-2.63Z" fill="#eb661f" stroke-linejoin="miter"/>
<path transform="translate(2047.20,2478.64)" d="M0.00,-8.50L-8.08,-2.63L-5.00,6.88L5.00,6.88L8.08,-2.63Z" fill="#eb661f" stroke-linejoin="miter"/>
<path transform="translate(2084.60,2487.74)" d="M0.00,-8.50L-8.08,-2.63L-5.00,6.88L5.00,6.88L8.08,-2.63Z" fill="#eb661f" stroke-linejoin="miter"/>
<path transform="translate(2122.00,2496.84)" d="M0.00,-8.50L-8.08,-2.63L-5.00,6.88L5.00,6.88L8.08,-2.63Z" fill="#eb661f" stroke-linejoin="miter"/>
<path transform="translate(2159.40,2499.88)" d="M0.00,-8.50L-8.08,-2.63L-5.00,6.88L5.00,6.88L8.08,-2.63Z" fill="#eb661f" stroke-linejoin="miter"/>
<path transform="translate(2196.80,2521.12)" d="M0.00,-8.50L-8.08,-2.63L-5.00,6.88L5.00,6.88L8.08,-2.63Z" fill="#eb661f" stroke-linejoin="miter"/>
<path transform="translate(2234.20,2505.95)" d="M0.00,-8.50L-8.08,-2.63L-5.00,6.88L5.00,6.88L8.08,-2.63Z" fill="#eb661f" stroke-linejoin="miter"/>
<path transform="translate(2271.60,2505.95)" d="M0.00,-8.50L-8.08,-2.63L-5.00,6.88L5.00,6.88L8.08,-2.63Z" fill="#eb661f" stroke-linejoin="miter"/>
<path transform="translate(2309.00,2505.95)" d="M0.00,-8.50L-8.08,-2.63L-5.00,6.88L5.00,6.88L8.08,-2.63Z" fill="#eb661f" stroke-linejoin="miter"/>
</g>
<polyline points="1411.4,2056.2 1448.8,2056.2 1486.2,2058.0 1523.6,2067.7 1561.0,2119.9 1598.4,2223.1 1635.8,2323.8 1673.2,2396.7 1710.6,2416.1 1748.0,2457.4 1785.4,2465.9 1822.8,2481.1 1860.2,2490.8 1897.6,2499.9 1935.0,2493.8 1972.4,2495.0 2009.8,2502.3 2047.2,2496.8 2084.6,2480.5 2122.0,2495.6 2159.4,2487.1 2196.8,2501.1 2234.2,2505.9 2271.6,2495.0 2309.0,2505.9" fill="none" stroke="#720099" stroke-width="5.2" stroke-linejoin="round" stroke-linecap="round"/>
<g stroke="#ffffff" stroke-width="6.0">
<path transform="translate(1411.40,2056.16)" d="M0.00,-12.02L7.21,0.00L0.00,12.02L-7.21,0.00Z" fill="#720099" stroke-linejoin="miter"/>
<path transform="translate(1448.80,2056.16)" d="M0.00,-12.02L7.21,0.00L0.00,12.02L-7.21,0.00Z" fill="#720099" stroke-linejoin="miter"/>
<path transform="translate(1486.20,2057.98)" d="M0.00,-12.02L7.21,0.00L0.00,12.02L-7.21,0.00Z" fill="#720099" stroke-linejoin="miter"/>
<path transform="translate(1523.60,2067.70)" d="M0.00,-12.02L7.21,0.00L0.00,12.02L-7.21,0.00Z" fill="#720099" stroke-linejoin="miter"/>
<path transform="translate(1561.00,2119.90)" d="M0.00,-12.02L7.21,0.00L0.00,12.02L-7.21,0.00Z" fill="#720099" stroke-linejoin="miter"/>
<path transform="translate(1598.40,2223.09)" d="M0.00,-12.02L7.21,0.00L0.00,12.02L-7.21,0.00Z" fill="#720099" stroke-linejoin="miter"/>
<path transform="translate(1635.80,2323.85)" d="M0.00,-12.02L7.21,0.00L0.00,12.02L-7.21,0.00Z" fill="#720099" stroke-linejoin="miter"/>
<path transform="translate(1673.20,2396.69)" d="M0.00,-12.02L7.21,0.00L0.00,12.02L-7.21,0.00Z" fill="#720099" stroke-linejoin="miter"/>
<path transform="translate(1710.60,2416.11)" d="M0.00,-12.02L7.21,0.00L0.00,12.02L-7.21,0.00Z" fill="#720099" stroke-linejoin="miter"/>
<path transform="translate(1748.00,2457.39)" d="M0.00,-12.02L7.21,0.00L0.00,12.02L-7.21,0.00Z" fill="#720099" stroke-linejoin="miter"/>
<path transform="translate(1785.40,2465.89)" d="M0.00,-12.02L7.21,0.00L0.00,12.02L-7.21,0.00Z" fill="#720099" stroke-linejoin="miter"/>
<path transform="translate(1822.80,2481.06)" d="M0.00,-12.02L7.21,0.00L0.00,12.02L-7.21,0.00Z" fill="#720099" stroke-linejoin="miter"/>
<path transform="translate(1860.20,2490.78)" d="M0.00,-12.02L7.21,0.00L0.00,12.02L-7.21,0.00Z" fill="#720099" stroke-linejoin="miter"/>
<path transform="translate(1897.60,2499.88)" d="M0.00,-12.02L7.21,0.00L0.00,12.02L-7.21,0.00Z" fill="#720099" stroke-linejoin="miter"/>
<path transform="translate(1935.00,2493.81)" d="M0.00,-12.02L7.21,0.00L0.00,12.02L-7.21,0.00Z" fill="#720099" stroke-linejoin="miter"/>
<path transform="translate(1972.40,2495.02)" d="M0.00,-12.02L7.21,0.00L0.00,12.02L-7.21,0.00Z" fill="#720099" stroke-linejoin="miter"/>
<path transform="translate(2009.80,2502.31)" d="M0.00,-12.02L7.21,0.00L0.00,12.02L-7.21,0.00Z" fill="#720099" stroke-linejoin="miter"/>
<path transform="translate(2047.20,2496.84)" d="M0.00,-12.02L7.21,0.00L0.00,12.02L-7.21,0.00Z" fill="#720099" stroke-linejoin="miter"/>
<path transform="translate(2084.60,2480.46)" d="M0.00,-12.02L7.21,0.00L0.00,12.02L-7.21,0.00Z" fill="#720099" stroke-linejoin="miter"/>
<path transform="translate(2122.00,2495.63)" d="M0.00,-12.02L7.21,0.00L0.00,12.02L-7.21,0.00Z" fill="#720099" stroke-linejoin="miter"/>
<path transform="translate(2159.40,2487.13)" d="M0.00,-12.02L7.21,0.00L0.00,12.02L-7.21,0.00Z" fill="#720099" stroke-linejoin="miter"/>
<path transform="translate(2196.80,2501.09)" d="M0.00,-12.02L7.21,0.00L0.00,12.02L-7.21,0.00Z" fill="#720099" stroke-linejoin="miter"/>
<path transform="translate(2234.20,2505.95)" d="M0.00,-12.02L7.21,0.00L0.00,12.02L-7.21,0.00Z" fill="#720099" stroke-linejoin="miter"/>
<path transform="translate(2271.60,2495.02)" d="M0.00,-12.02L7.21,0.00L0.00,12.02L-7.21,0.00Z" fill="#720099" stroke-linejoin="miter"/>
<path transform="translate(2309.00,2505.95)" d="M0.00,-12.02L7.21,0.00L0.00,12.02L-7.21,0.00Z" fill="#720099" stroke-linejoin="miter"/>
</g>
<polyline points="1411.4,2059.8 1448.8,2059.8 1486.2,2061.6 1523.6,2076.2 1561.0,2137.5 1598.4,2238.3 1635.8,2340.2 1673.2,2399.7 1710.6,2454.4 1748.0,2473.8 1785.4,2482.9 1822.8,2490.2 1860.2,2495.0 1897.6,2499.9 1935.0,2499.9 1972.4,2504.1 2009.8,2504.1 2047.2,2505.9 2084.6,2505.9 2122.0,2505.9 2159.4,2506.6 2196.8,2507.2 2234.2,2509.0 2271.6,2509.0 2309.0,2512.0" fill="none" stroke="#dc8b00" stroke-width="5.2" stroke-linejoin="round" stroke-linecap="round"/>
<g stroke="#ffffff" stroke-width="6.0">
<path transform="translate(1411.40,2059.81)" d="M0.00,-8.50L-8.50,8.50L8.50,8.50Z" fill="#dc8b00" stroke-linejoin="miter"/>
<path transform="translate(1448.80,2059.81)" d="M0.00,-8.50L-8.50,8.50L8.50,8.50Z" fill="#dc8b00" stroke-linejoin="miter"/>
<path transform="translate(1486.20,2061.63)" d="M0.00,-8.50L-8.50,8.50L8.50,8.50Z" fill="#dc8b00" stroke-linejoin="miter"/>
<path transform="translate(1523.60,2076.19)" d="M0.00,-8.50L-8.50,8.50L8.50,8.50Z" fill="#dc8b00" stroke-linejoin="miter"/>
<path transform="translate(1561.00,2137.50)" d="M0.00,-8.50L-8.50,8.50L8.50,8.50Z" fill="#dc8b00" stroke-linejoin="miter"/>
<path transform="translate(1598.40,2238.26)" d="M0.00,-8.50L-8.50,8.50L8.50,8.50Z" fill="#dc8b00" stroke-linejoin="miter"/>
<path transform="translate(1635.80,2340.24)" d="M0.00,-8.50L-8.50,8.50L8.50,8.50Z" fill="#dc8b00" stroke-linejoin="miter"/>
<path transform="translate(1673.20,2399.72)" d="M0.00,-8.50L-8.50,8.50L8.50,8.50Z" fill="#dc8b00" stroke-linejoin="miter"/>
<path transform="translate(1710.60,2454.36)" d="M0.00,-8.50L-8.50,8.50L8.50,8.50Z" fill="#dc8b00" stroke-linejoin="miter"/>
<path transform="translate(1748.00,2473.78)" d="M0.00,-8.50L-8.50,8.50L8.50,8.50Z" fill="#dc8b00" stroke-linejoin="miter"/>
<path transform="translate(1785.40,2482.88)" d="M0.00,-8.50L-8.50,8.50L8.50,8.50Z" fill="#dc8b00" stroke-linejoin="miter"/>
<path transform="translate(1822.80,2490.17)" d="M0.00,-8.50L-8.50,8.50L8.50,8.50Z" fill="#dc8b00" stroke-linejoin="miter"/>
<path transform="translate(1860.20,2495.02)" d="M0.00,-8.50L-8.50,8.50L8.50,8.50Z" fill="#dc8b00" stroke-linejoin="miter"/>
<path transform="translate(1897.60,2499.88)" d="M0.00,-8.50L-8.50,8.50L8.50,8.50Z" fill="#dc8b00" stroke-linejoin="miter"/>
<path transform="translate(1935.00,2499.88)" d="M0.00,-8.50L-8.50,8.50L8.50,8.50Z" fill="#dc8b00" stroke-linejoin="miter"/>
<path transform="translate(1972.40,2504.13)" d="M0.00,-8.50L-8.50,8.50L8.50,8.50Z" fill="#dc8b00" stroke-linejoin="miter"/>
<path transform="translate(2009.80,2504.13)" d="M0.00,-8.50L-8.50,8.50L8.50,8.50Z" fill="#dc8b00" stroke-linejoin="miter"/>
<path transform="translate(2047.20,2505.95)" d="M0.00,-8.50L-8.50,8.50L8.50,8.50Z" fill="#dc8b00" stroke-linejoin="miter"/>
<path transform="translate(2084.60,2505.95)" d="M0.00,-8.50L-8.50,8.50L8.50,8.50Z" fill="#dc8b00" stroke-linejoin="miter"/>
<path transform="translate(2122.00,2505.95)" d="M0.00,-8.50L-8.50,8.50L8.50,8.50Z" fill="#dc8b00" stroke-linejoin="miter"/>
<path transform="translate(2159.40,2506.56)" d="M0.00,-8.50L-8.50,8.50L8.50,8.50Z" fill="#dc8b00" stroke-linejoin="miter"/>
<path transform="translate(2196.80,2507.16)" d="M0.00,-8.50L-8.50,8.50L8.50,8.50Z" fill="#dc8b00" stroke-linejoin="miter"/>
<path transform="translate(2234.20,2508.99)" d="M0.00,-8.50L-8.50,8.50L8.50,8.50Z" fill="#dc8b00" stroke-linejoin="miter"/>
<path transform="translate(2271.60,2508.99)" d="M0.00,-8.50L-8.50,8.50L8.50,8.50Z" fill="#dc8b00" stroke-linejoin="miter"/>
<path transform="translate(2309.00,2512.02)" d="M0.00,-8.50L-8.50,8.50L8.50,8.50Z" fill="#dc8b00" stroke-linejoin="miter"/>
</g>
</g>
<rect x="1374" y="1990" width="935" height="607" fill="none" stroke="#cccccc" stroke-width="3.8"/>
<text transform="translate(1347.5,2607.6) scale(1,1.04)" font-size="28" text-anchor="end">0.04</text>
<text transform="translate(1347.5,2486.2) scale(1,1.04)" font-size="28" text-anchor="end">0.06</text>
<text transform="translate(1347.5,2364.8) scale(1,1.04)" font-size="28" text-anchor="end">0.08</text>
<text transform="translate(1347.5,2243.4) scale(1,1.04)" font-size="28" text-anchor="end">0.10</text>
<text transform="translate(1347.5,2122.0) scale(1,1.04)" font-size="28" text-anchor="end">0.12</text>
<text transform="translate(1347.5,2000.6) scale(1,1.04)" font-size="28" text-anchor="end">0.14</text>
<text transform="translate(1374.0,2644.0) scale(1,1.04)" font-size="28" text-anchor="middle">0</text>
<text transform="translate(1561.0,2644.0) scale(1,1.04)" font-size="28" text-anchor="middle">5</text>
<text transform="translate(1748.0,2644.0) scale(1,1.04)" font-size="28" text-anchor="middle">10</text>
<text transform="translate(1935.0,2644.0) scale(1,1.04)" font-size="28" text-anchor="middle">15</text>
<text transform="translate(2122.0,2644.0) scale(1,1.04)" font-size="28" text-anchor="middle">20</text>
<text transform="translate(2309.0,2644.0) scale(1,1.04)" font-size="28" text-anchor="middle">25</text>
<text transform="translate(1842.5,2685.0) scale(1,1.04)" font-size="33.3" text-anchor="middle">Iterations</text>
<text transform="translate(1278.0,2297.0) rotate(-90) scale(1,1.04)" font-size="33.3" text-anchor="middle">BrierScore</text>
<rect x="1978.8" y="2004.7" width="316.3" height="325.7" rx="5.6" ry="5.6" fill="#ffffff" fill-opacity="0.8" stroke="#cccccc" stroke-width="2.3" stroke-opacity="0.9"/>
<line x1="1989.0" y1="2025.7" x2="2045.0" y2="2025.7" stroke="#67cf66" stroke-width="5.2" stroke-linecap="round"/>
<g stroke="#ffffff" stroke-width="6.0"><path transform="translate(2017.00,2025.70)" d="M0.00,-8.50L-8.50,8.50L8.50,8.50Z" fill="#67cf66" stroke-linejoin="miter"/></g>
<text transform="translate(2066.5,2035.9) scale(1,1.04)" font-size="28">NbAFL</text>
<line x1="1989.0" y1="2065.4" x2="2045.0" y2="2065.4" stroke="#048457" stroke-width="5.2" stroke-linecap="round"/>
<g stroke="#ffffff" stroke-width="6.0"><path transform="translate(2017.00,2065.45)" d="M-8.50,-8.50L8.50,-8.50L8.50,8.50L-8.50,8.50Z" fill="#048457" stroke-linejoin="miter"/></g>
<text transform="translate(2066.5,2075.6) scale(1,1.04)" font-size="28">ROW-DP(Std)</text>
<line x1="1989.0" y1="2105.2" x2="2045.0" y2="2105.2" stroke="#e8c41f" stroke-width="5.2" stroke-linecap="round"/>
<g stroke="#ffffff" stroke-width="6.0"><path transform="translate(2017.00,2105.20)" d="M0.00,-8.50L-7.36,-4.25L-7.36,4.25L-0.00,8.50L7.36,4.25L7.36,-4.25Z" fill="#e8c41f" stroke-linejoin="miter"/></g>
<text transform="translate(2066.5,2115.4) scale(1,1.04)" font-size="28">ROW-DP(Var)</text>
<line x1="1989.0" y1="2144.9" x2="2045.0" y2="2144.9" stroke="#b4a4ca" stroke-width="5.2" stroke-linecap="round"/>
<g stroke="#ffffff" stroke-width="6.0"><circle cx="2017.00" cy="2144.95" r="8.50" fill="#b4a4ca"/></g>
<text transform="translate(2066.5,2155.1) scale(1,1.04)" font-size="28">ROW-DP(Range)</text>
<line x1="1989.0" y1="2184.7" x2="2045.0" y2="2184.7" stroke="#fde2cf" stroke-width="5.2" stroke-linecap="round"/>
<g stroke="#ffffff" stroke-width="6.0"><circle cx="2017.00" cy="2184.70" r="8.50" fill="#fde2cf"/></g>
<text transform="translate(2066.5,2194.9) scale(1,1.04)" font-size="28">ROW-DP(MAE)</text>
<line x1="1989.0" y1="2224.4" x2="2045.0" y2="2224.4" stroke="#eb661f" stroke-width="5.2" stroke-linecap="round"/>
<g stroke="#ffffff" stroke-width="6.0"><path transform="translate(2017.00,2224.45)" d="M0.00,-8.50L-8.08,-2.63L-5.00,6.88L5.00,6.88L8.08,-2.63Z" fill="#eb661f" stroke-linejoin="miter"/></g>
<text transform="translate(2066.5,2234.6) scale(1,1.04)" font-size="28">ROW-DP(IQR)</text>
<line x1="1989.0" y1="2264.2" x2="2045.0" y2="2264.2" stroke="#720099" stroke-width="5.2" stroke-linecap="round"/>
<g stroke="#ffffff" stroke-width="6.0"><path transform="translate(2017.00,2264.20)" d="M0.00,-12.02L7.21,0.00L0.00,12.02L-7.21,0.00Z" fill="#720099" stroke-linejoin="miter"/></g>
<text transform="translate(2066.5,2274.4) scale(1,1.04)" font-size="28">LS-ADP</text>
<line x1="1989.0" y1="2303.9" x2="2045.0" y2="2303.9" stroke="#dc8b00" stroke-width="5.2" stroke-linecap="round"/>
<g stroke="#ffffff" stroke-width="6.0"><path transform="translate(2017.00,2303.95)" d="M0.00,-8.50L-8.50,8.50L8.50,8.50Z" fill="#dc8b00" stroke-linejoin="miter"/></g>
<text transform="translate(2066.5,2314.1) scale(1,1.04)" font-size="28">Nopd</text>
</g>
<g style="font-family:'Liberation Serif','Times New Roman',Times,serif" fill="#000" font-size="85">
<text transform="translate(1055.7,849.6) scale(0.9,1)" font-style="italic">ε</text>
<text transform="translate(1109.9,855.9) scale(1.509,0.98)" stroke="#fff" stroke-width="1.8">=</text>
<text x="1201.9" y="849.6">0.8</text>
</g>
<g style="font-family:'Liberation Serif','Times New Roman',Times,serif" fill="#000" font-size="85">
<text transform="translate(1055.7,1829.6) scale(0.9,1)" font-style="italic">ε</text>
<text transform="translate(1109.9,1835.8) scale(1.509,0.98)" stroke="#fff" stroke-width="1.8">=</text>
<text x="1201.9" y="1829.6">0.9</text>
</g>
<g style="font-family:'Liberation Serif','Times New Roman',Times,serif" fill="#000" font-size="85">
<text transform="translate(1055.7,2809.6) scale(0.9,1)" font-style="italic">ε</text>
<text transform="translate(1109.9,2815.8) scale(1.509,0.98)" stroke="#fff" stroke-width="1.8">=</text>
<text x="1201.9" y="2809.6">1.0</text>
</g>
</svg></body></html>
